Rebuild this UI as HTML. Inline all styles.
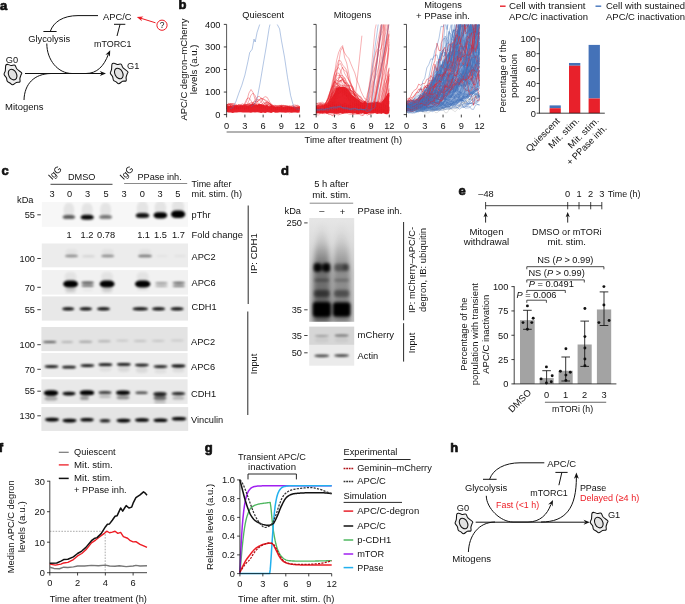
<!DOCTYPE html><html><head><meta charset="utf-8"><title>Figure</title><style>html,body{margin:0;padding:0;background:#fff}svg{display:block;will-change:transform}text{font-family:"Liberation Sans",sans-serif;}</style></head><body>
<svg width="685" height="604" viewBox="0 0 685 604" font-family="Liberation Sans, sans-serif" font-size="9.25" fill="#111">
<rect width="685" height="604" fill="#fff"/>
<defs>
<filter id="blur0_6" x="-20%" y="-50%" width="140%" height="200%"><feGaussianBlur stdDeviation="0.6"/></filter>
<filter id="blur0_8" x="-20%" y="-50%" width="140%" height="200%"><feGaussianBlur stdDeviation="0.8"/></filter>
<filter id="blur0_9" x="-20%" y="-50%" width="140%" height="200%"><feGaussianBlur stdDeviation="0.9"/></filter>
<filter id="blur1_0" x="-20%" y="-50%" width="140%" height="200%"><feGaussianBlur stdDeviation="1.0"/></filter>
<filter id="blur1_2" x="-20%" y="-50%" width="140%" height="200%"><feGaussianBlur stdDeviation="1.2"/></filter>
<filter id="blur1_6" x="-20%" y="-50%" width="140%" height="200%"><feGaussianBlur stdDeviation="1.6"/></filter>
<filter id="blur2_5" x="-20%" y="-50%" width="140%" height="200%"><feGaussianBlur stdDeviation="2.5"/></filter>
</defs>
<text x="0.00" y="9.50" font-size="13" font-weight="bold" stroke="#111" stroke-width="0.7" stroke-linejoin="round">a</text>
<text x="103.00" y="20.30" textLength="28.5" lengthAdjust="spacingAndGlyphs">APC/C</text>
<text x="28.20" y="41.50" textLength="42.0" lengthAdjust="spacingAndGlyphs">Glycolysis</text>
<text x="94.00" y="47.30" textLength="37.5" lengthAdjust="spacingAndGlyphs">mTORC1</text>
<text x="5.80" y="63.00">G0</text>
<text x="127.00" y="68.70">G1</text>
<text x="5.00" y="109.60" textLength="38.5" lengthAdjust="spacingAndGlyphs">Mitogens</text>
<path d="M5.80,65.20C6.23,64.13 7.02,64.35 7.90,64.40C8.78,64.45 9.93,65.37 11.10,65.50C12.27,65.63 13.93,64.62 14.90,65.20C15.87,65.78 15.78,67.73 16.90,69.00C18.02,70.27 20.92,71.82 21.60,72.80C22.28,73.78 21.28,73.97 21.00,74.90C20.72,75.83 20.08,77.23 19.90,78.40C19.72,79.57 20.48,81.23 19.90,81.90C19.32,82.57 17.62,81.92 16.40,82.40C15.18,82.88 13.68,84.70 12.60,84.80C11.52,84.90 10.78,83.58 9.90,83.00C9.02,82.42 7.88,82.17 7.30,81.30C6.72,80.43 6.93,78.97 6.40,77.80C5.87,76.63 4.28,75.47 4.10,74.30C3.92,73.13 5.02,72.32 5.30,70.80C5.58,69.28 5.37,66.27 5.80,65.20Z" stroke="#111" stroke-width="1.05" fill="#efefef" />
<ellipse cx="12.60" cy="74.60" rx="3.9" ry="5.6" transform="rotate(-28 12.60 74.60)" fill="#e2e2e2" stroke="#111" stroke-width="1.05"/>
<path d="M112.00,64.10C112.43,63.03 113.22,63.25 114.10,63.30C114.98,63.35 116.13,64.27 117.30,64.40C118.47,64.53 120.13,63.52 121.10,64.10C122.07,64.68 121.98,66.63 123.10,67.90C124.22,69.17 127.12,70.72 127.80,71.70C128.48,72.68 127.48,72.87 127.20,73.80C126.92,74.73 126.28,76.13 126.10,77.30C125.92,78.47 126.68,80.13 126.10,80.80C125.52,81.47 123.82,80.82 122.60,81.30C121.38,81.78 119.88,83.60 118.80,83.70C117.72,83.80 116.98,82.48 116.10,81.90C115.22,81.32 114.08,81.07 113.50,80.20C112.92,79.33 113.13,77.87 112.60,76.70C112.07,75.53 110.48,74.37 110.30,73.20C110.12,72.03 111.22,71.22 111.50,69.70C111.78,68.18 111.57,65.17 112.00,64.10Z" stroke="#111" stroke-width="1.05" fill="#efefef" />
<ellipse cx="118.80" cy="73.50" rx="3.9" ry="5.6" transform="rotate(-28 118.80 73.50)" fill="#e2e2e2" stroke="#111" stroke-width="1.05"/>
<line x1="25.00" y1="73.50" x2="102.00" y2="73.50" stroke="#111" stroke-width="1.0" />
<path d="M106.00,73.50L99.80,75.95L101.66,73.50L99.80,71.05Z" fill="#111"/>
<path d="M24,100 C24.5,84 34,73.8 51,73.5" stroke="#111" stroke-width="1.0" fill="none" />
<path d="M46.8,43.5 C46.8,60 58,73.5 72,73.5 L86,73.5 C97,73.5 104,66 108.3,54.5" stroke="#111" stroke-width="1.0" fill="none" />
<path d="M110.20,50.20L109.92,56.86L108.43,54.16L105.44,54.87Z" fill="#111"/>
<path d="M98,15.6 L78,15.6 C63,15.6 53.5,22 50.3,31.3" stroke="#111" stroke-width="1.0" fill="none" />
<line x1="43.40" y1="31.50" x2="56.60" y2="31.50" stroke="#111" stroke-width="1.0" />
<line x1="117.00" y1="36.00" x2="120.00" y2="24.50" stroke="#111" stroke-width="1.0" />
<line x1="114.00" y1="24.30" x2="125.30" y2="24.30" stroke="#111" stroke-width="1.0" />
<line x1="155.50" y1="22.80" x2="141.00" y2="18.30" stroke="#ed1c24" stroke-width="1.0" />
<path d="M136.80,17.00L143.45,16.53L140.94,18.31L141.98,21.20Z" fill="#ed1c24"/>
<circle cx="162" cy="25.2" r="5.1" fill="#fff" stroke="#ed1c24" stroke-width="1.0"/>
<text x="162.00" y="28.30" text-anchor="middle" font-size="8.5">?</text>
<text x="178.60" y="9.30" font-size="13" font-weight="bold" stroke="#111" stroke-width="0.7" stroke-linejoin="round">b</text>
<text x="186.80" y="69.50" text-anchor="middle" transform="rotate(-90 186.80 69.50)" textLength="102.0" lengthAdjust="spacingAndGlyphs">APC/C degron–mCherry</text>
<text x="197.10" y="69.40" text-anchor="middle" transform="rotate(-90 197.10 69.40)" textLength="49.5" lengthAdjust="spacingAndGlyphs">levels (a.u.)</text>
<defs>
<clipPath id="cb0"><rect x="226.1" y="24.4" width="73.89999999999999" height="93.19999999999999"/></clipPath>
<clipPath id="cb1"><rect x="315.7" y="24.4" width="73.89999999999999" height="93.19999999999999"/></clipPath>
<clipPath id="cb2"><rect x="406.0" y="24.4" width="73.89999999999999" height="93.19999999999999"/></clipPath>
</defs>
<text x="220.50" y="117.90" text-anchor="end">0</text>
<text x="220.50" y="95.35" text-anchor="end">100</text>
<text x="220.50" y="72.80" text-anchor="end">200</text>
<text x="220.50" y="50.25" text-anchor="end">300</text>
<text x="220.50" y="27.70" text-anchor="end">400</text>
<path clip-path="url(#cb0)" d="M226.6,105.8L228.6,106.2L230.7,105.2L232.7,106.4L234.7,105.4L236.8,105.7L238.8,106.2L240.8,105.2L242.8,105.9L244.9,104.9L246.9,105.4L248.9,105.2L251.0,104.4L253.0,103.5L255.0,105.0L257.1,104.9L259.1,104.3L261.1,103.9L263.1,105.0L265.2,105.6L267.2,104.7L269.2,106.8L271.3,105.3L273.3,106.6L275.3,107.0L277.4,107.1L279.4,106.8L281.4,105.8L283.5,107.2L285.5,106.4L287.5,106.3L289.5,106.9L291.6,106.6L293.6,107.6L295.6,107.6L297.7,107.4L299.7,106.5L299.7,112.6L297.7,112.7L295.6,112.5L293.6,112.6L291.6,112.8L289.5,112.3L287.5,112.4L285.5,112.8L283.5,112.5L281.4,112.5L279.4,112.2L277.4,112.4L275.3,112.8L273.3,112.1L271.3,112.9L269.2,112.6L267.2,112.3L265.2,112.9L263.1,112.6L261.1,113.0L259.1,112.4L257.1,112.3L255.0,112.5L253.0,112.2L251.0,112.7L248.9,112.4L246.9,112.5L244.9,112.5L242.8,112.6L240.8,112.3L238.8,112.2L236.8,112.6L234.7,112.4L232.7,113.0L230.7,112.4L228.6,112.4L226.6,112.1Z" fill="#e8212b"/>
<path clip-path="url(#cb0)" d="M226.6,105.1L228.6,104.3L230.7,104.7L232.7,105.1L234.7,105.7L236.8,105.4L238.8,105.2L240.8,105.1L242.8,105.2L244.9,105.8L246.9,105.7L248.9,104.8L251.0,104.9L253.0,105.6L255.0,106.8L257.1,106.1L259.1,104.8L261.1,106.4L263.1,105.8L265.2,106.5L267.2,107.1L269.2,106.4L271.3,104.7L273.3,106.9L275.3,106.4L277.4,106.0L279.4,106.2L281.4,105.7L283.5,107.3L285.5,107.0L287.5,106.9L289.5,106.8L291.6,107.6L293.6,107.0L295.6,109.1L297.7,109.2L299.7,108.8" stroke="#e8212b" stroke-width="0.45" fill="none" stroke-opacity="0.85" stroke-linejoin="round"/>
<path clip-path="url(#cb0)" d="M226.6,105.8L228.6,104.1L230.7,104.9L232.7,105.8L234.7,105.8L236.8,106.4L238.8,105.3L240.8,105.7L242.8,105.2L244.9,104.3L246.9,104.9L248.9,104.2L251.0,104.0L253.0,103.7L255.0,103.8L257.1,106.7L259.1,106.7L261.1,106.2L263.1,105.0L265.2,103.0L267.2,100.9L269.2,102.8L271.3,105.5L273.3,107.0L275.3,107.7L277.4,106.5L279.4,105.8L281.4,105.1L283.5,105.8L285.5,106.3L287.5,106.0L289.5,106.3L291.6,107.9L293.6,108.9L295.6,107.9L297.7,108.1L299.7,107.7" stroke="#e8212b" stroke-width="0.45" fill="none" stroke-opacity="0.85" stroke-linejoin="round"/>
<path clip-path="url(#cb0)" d="M226.6,105.0L228.6,105.3L230.7,103.9L232.7,105.1L234.7,105.9L236.8,106.8L238.8,107.0L240.8,106.5L242.8,106.4L244.9,107.6L246.9,107.1L248.9,107.8L251.0,107.2L253.0,105.5L255.0,104.3L257.1,105.6L259.1,105.6L261.1,107.8L263.1,107.6L265.2,108.2L267.2,108.7L269.2,108.3L271.3,107.8L273.3,107.6L275.3,107.8L277.4,107.0L279.4,108.1L281.4,110.1L283.5,111.2L285.5,109.2L287.5,106.5L289.5,107.3L291.6,108.0L293.6,107.6L295.6,107.8L297.7,107.4L299.7,107.4" stroke="#e8212b" stroke-width="0.45" fill="none" stroke-opacity="0.85" stroke-linejoin="round"/>
<path clip-path="url(#cb0)" d="M226.6,104.4L228.6,104.9L230.7,105.6L232.7,106.8L234.7,108.1L236.8,107.0L238.8,108.1L240.8,107.8L242.8,106.7L244.9,105.4L246.9,105.0L248.9,102.9L251.0,105.3L253.0,106.1L255.0,105.9L257.1,105.1L259.1,106.4L261.1,106.3L263.1,106.1L265.2,105.3L267.2,104.4L269.2,105.2L271.3,106.4L273.3,105.5L275.3,108.4L277.4,108.4L279.4,108.7L281.4,108.6L283.5,108.3L285.5,105.6L287.5,106.1L289.5,107.4L291.6,108.4L293.6,107.2L295.6,107.8L297.7,106.7L299.7,108.4" stroke="#e8212b" stroke-width="0.45" fill="none" stroke-opacity="0.85" stroke-linejoin="round"/>
<path clip-path="url(#cb0)" d="M226.6,106.2L228.6,107.1L230.7,108.5L232.7,108.2L234.7,106.2L236.8,105.8L238.8,105.1L240.8,106.6L242.8,106.2L244.9,107.5L246.9,106.4L248.9,108.3L251.0,107.4L253.0,106.9L255.0,108.8L257.1,108.2L259.1,107.4L261.1,108.1L263.1,107.0L265.2,106.6L267.2,105.1L269.2,104.2L271.3,104.8L273.3,105.5L275.3,106.9L277.4,108.3L279.4,109.8L281.4,108.9L283.5,108.4L285.5,108.5L287.5,108.2L289.5,108.0L291.6,107.3L293.6,107.1L295.6,105.8L297.7,106.5L299.7,106.6" stroke="#e8212b" stroke-width="0.45" fill="none" stroke-opacity="0.85" stroke-linejoin="round"/>
<path clip-path="url(#cb0)" d="M226.6,106.1L228.6,107.3L230.7,107.3L232.7,105.7L234.7,106.7L236.8,105.2L238.8,107.4L240.8,107.3L242.8,106.0L244.9,104.6L246.9,105.6L248.9,104.2L251.0,102.5L253.0,102.6L255.0,103.8L257.1,105.6L259.1,106.5L261.1,107.9L263.1,109.2L265.2,108.2L267.2,108.3L269.2,108.4L271.3,109.5L273.3,107.7L275.3,106.3L277.4,106.4L279.4,107.2L281.4,106.7L283.5,107.6L285.5,110.6L287.5,109.5L289.5,108.8L291.6,109.1L293.6,109.9L295.6,108.9L297.7,109.1L299.7,108.4" stroke="#e8212b" stroke-width="0.45" fill="none" stroke-opacity="0.85" stroke-linejoin="round"/>
<path clip-path="url(#cb0)" d="M226.6,106.2L228.6,106.1L230.7,106.8L232.7,105.5L234.7,106.2L236.8,106.3L238.8,104.8L240.8,105.6L242.8,105.6L244.9,106.1L246.9,106.4L248.9,106.3L251.0,106.4L253.0,107.3L255.0,106.4L257.1,105.8L259.1,104.4L261.1,105.4L263.1,104.8L265.2,103.6L267.2,102.5L269.2,103.9L271.3,104.9L273.3,106.3L275.3,105.6L277.4,106.1L279.4,107.1L281.4,107.2L283.5,106.3L285.5,107.4L287.5,107.5L289.5,108.1L291.6,107.8L293.6,108.2L295.6,107.6L297.7,108.6L299.7,109.1" stroke="#e8212b" stroke-width="0.45" fill="none" stroke-opacity="0.85" stroke-linejoin="round"/>
<path clip-path="url(#cb0)" d="M226.6,107.1L228.6,108.1L230.7,110.3L232.7,108.8L234.7,108.8L236.8,107.8L238.8,106.2L240.8,107.9L242.8,109.0L244.9,108.7L246.9,107.8L248.9,108.5L251.0,109.3L253.0,108.2L255.0,111.3L257.1,110.3L259.1,109.8L261.1,112.0L263.1,111.0L265.2,111.0L267.2,110.4L269.2,111.3L271.3,110.2L273.3,110.7L275.3,111.3L277.4,112.5L279.4,111.9L281.4,110.3L283.5,110.3L285.5,110.0L287.5,109.4L289.5,109.1L291.6,107.7L293.6,108.8L295.6,109.9L297.7,107.5L299.7,108.8" stroke="#e8212b" stroke-width="0.45" fill="none" stroke-opacity="0.85" stroke-linejoin="round"/>
<path clip-path="url(#cb0)" d="M226.6,105.3L228.6,104.8L230.7,103.6L232.7,103.5L234.7,103.4L236.8,105.3L238.8,105.6L240.8,105.0L242.8,105.6L244.9,104.8L246.9,104.7L248.9,104.3L251.0,104.9L253.0,102.3L255.0,101.4L257.1,101.5L259.1,100.7L261.1,97.9L263.1,99.4L265.2,100.0L267.2,101.1L269.2,103.3L271.3,105.8L273.3,106.2L275.3,106.2L277.4,105.5L279.4,105.4L281.4,106.0L283.5,105.7L285.5,105.8L287.5,106.1L289.5,106.5L291.6,107.1L293.6,106.6L295.6,107.8L297.7,108.3L299.7,108.0" stroke="#e8212b" stroke-width="0.45" fill="none" stroke-opacity="0.85" stroke-linejoin="round"/>
<path clip-path="url(#cb0)" d="M226.6,106.7L228.6,107.0L230.7,106.4L232.7,106.4L234.7,106.5L236.8,105.5L238.8,106.9L240.8,107.5L242.8,106.9L244.9,106.9L246.9,107.5L248.9,105.3L251.0,105.4L253.0,105.0L255.0,102.8L257.1,99.3L259.1,99.7L261.1,101.4L263.1,105.2L265.2,105.0L267.2,106.3L269.2,106.3L271.3,106.4L273.3,108.1L275.3,109.3L277.4,109.1L279.4,107.6L281.4,107.2L283.5,107.1L285.5,107.8L287.5,107.7L289.5,107.6L291.6,106.5L293.6,105.0L295.6,105.1L297.7,105.8L299.7,106.7" stroke="#e8212b" stroke-width="0.45" fill="none" stroke-opacity="0.85" stroke-linejoin="round"/>
<path clip-path="url(#cb0)" d="M226.6,108.1L228.6,106.7L230.7,106.9L232.7,106.0L234.7,105.9L236.8,107.0L238.8,108.2L240.8,107.4L242.8,108.0L244.9,109.0L246.9,108.9L248.9,108.6L251.0,107.2L253.0,106.8L255.0,107.2L257.1,106.2L259.1,107.7L261.1,107.2L263.1,107.7L265.2,108.3L267.2,108.9L269.2,107.7L271.3,108.9L273.3,110.4L275.3,110.3L277.4,109.0L279.4,110.2L281.4,109.8L283.5,108.4L285.5,107.7L287.5,107.8L289.5,106.3L291.6,107.6L293.6,108.7L295.6,110.9L297.7,110.2L299.7,109.2" stroke="#e8212b" stroke-width="0.45" fill="none" stroke-opacity="0.85" stroke-linejoin="round"/>
<path clip-path="url(#cb0)" d="M226.6,104.7L228.6,104.3L230.7,104.3L232.7,104.5L234.7,105.3L236.8,105.9L238.8,104.6L240.8,105.3L242.8,105.7L244.9,104.8L246.9,104.4L248.9,106.6L251.0,106.1L253.0,106.2L255.0,105.6L257.1,104.1L259.1,104.7L261.1,105.3L263.1,102.9L265.2,103.0L267.2,102.6L269.2,103.3L271.3,104.1L273.3,105.5L275.3,105.1L277.4,107.2L279.4,105.5L281.4,105.8L283.5,105.8L285.5,106.1L287.5,106.9L289.5,105.9L291.6,105.8L293.6,105.9L295.6,106.4L297.7,105.2L299.7,106.5" stroke="#e8212b" stroke-width="0.45" fill="none" stroke-opacity="0.85" stroke-linejoin="round"/>
<path clip-path="url(#cb0)" d="M226.6,105.4L228.6,103.2L230.7,103.9L232.7,103.7L234.7,104.9L236.8,105.1L238.8,106.8L240.8,104.6L242.8,103.7L244.9,105.5L246.9,106.8L248.9,107.5L251.0,105.1L253.0,104.9L255.0,104.1L257.1,104.1L259.1,104.3L261.1,105.8L263.1,105.9L265.2,107.4L267.2,107.1L269.2,106.5L271.3,106.0L273.3,106.4L275.3,107.2L277.4,106.8L279.4,107.1L281.4,105.5L283.5,105.3L285.5,106.0L287.5,106.7L289.5,107.4L291.6,108.1L293.6,107.9L295.6,107.3L297.7,106.8L299.7,106.4" stroke="#e8212b" stroke-width="0.45" fill="none" stroke-opacity="0.85" stroke-linejoin="round"/>
<path clip-path="url(#cb0)" d="M226.6,105.0L228.6,105.8L230.7,107.3L232.7,107.9L234.7,107.8L236.8,107.1L238.8,106.2L240.8,107.1L242.8,106.5L244.9,106.7L246.9,107.6L248.9,105.8L251.0,106.4L253.0,108.1L255.0,107.0L257.1,107.2L259.1,106.8L261.1,106.9L263.1,107.2L265.2,105.5L267.2,103.0L269.2,102.7L271.3,105.5L273.3,107.0L275.3,109.9L277.4,108.0L279.4,107.2L281.4,108.8L283.5,107.9L285.5,108.9L287.5,108.6L289.5,107.8L291.6,110.4L293.6,109.2L295.6,108.5L297.7,108.6L299.7,110.5" stroke="#e8212b" stroke-width="0.45" fill="none" stroke-opacity="0.85" stroke-linejoin="round"/>
<path clip-path="url(#cb0)" d="M226.6,105.2L228.6,106.6L230.7,105.2L232.7,107.8L234.7,107.5L236.8,106.9L238.8,106.4L240.8,105.8L242.8,107.3L244.9,109.2L246.9,108.5L248.9,109.0L251.0,107.6L253.0,107.5L255.0,106.7L257.1,106.2L259.1,106.1L261.1,107.3L263.1,106.4L265.2,107.8L267.2,108.1L269.2,107.7L271.3,107.9L273.3,106.7L275.3,107.5L277.4,108.2L279.4,107.3L281.4,107.3L283.5,108.5L285.5,109.0L287.5,108.6L289.5,107.4L291.6,107.2L293.6,107.8L295.6,110.4L297.7,109.2L299.7,110.3" stroke="#e8212b" stroke-width="0.45" fill="none" stroke-opacity="0.85" stroke-linejoin="round"/>
<path clip-path="url(#cb0)" d="M226.6,109.6L228.6,110.2L230.7,108.8L232.7,108.1L234.7,108.1L236.8,107.3L238.8,108.7L240.8,108.1L242.8,108.0L244.9,109.1L246.9,108.6L248.9,110.1L251.0,109.6L253.0,109.5L255.0,110.2L257.1,109.9L259.1,109.5L261.1,109.9L263.1,108.0L265.2,107.6L267.2,107.9L269.2,108.1L271.3,107.2L273.3,107.8L275.3,107.6L277.4,108.7L279.4,107.2L281.4,107.3L283.5,107.6L285.5,110.0L287.5,111.3L289.5,112.8L291.6,111.6L293.6,109.9L295.6,109.6L297.7,109.7L299.7,110.1" stroke="#e8212b" stroke-width="0.45" fill="none" stroke-opacity="0.85" stroke-linejoin="round"/>
<path clip-path="url(#cb0)" d="M226.6,108.4L228.6,108.7L230.7,109.4L232.7,108.7L234.7,108.6L236.8,108.2L238.8,108.0L240.8,107.9L242.8,107.3L244.9,104.7L246.9,100.5L248.9,93.1L251.0,89.5L253.0,92.4L255.0,99.3L257.1,106.4L259.1,108.4L261.1,108.5L263.1,108.3L265.2,108.2L267.2,109.2L269.2,108.3L271.3,109.2L273.3,109.2L275.3,109.5L277.4,108.4L279.4,108.7L281.4,107.6L283.5,107.1L285.5,107.1L287.5,107.4L289.5,107.1L291.6,108.0L293.6,108.0L295.6,108.1L297.7,108.8L299.7,108.9" stroke="#e8212b" stroke-width="0.45" fill="none" stroke-opacity="0.85" stroke-linejoin="round"/>
<path clip-path="url(#cb0)" d="M226.6,108.6L228.6,108.9L230.7,109.0L232.7,109.2L234.7,108.4L236.8,108.3L238.8,108.5L240.8,108.2L242.8,107.6L244.9,106.9L246.9,104.4L248.9,100.8L251.0,95.2L253.0,93.1L255.0,95.4L257.1,100.5L259.1,105.7L261.1,107.8L263.1,107.6L265.2,108.9L267.2,109.2L269.2,108.7L271.3,108.6L273.3,108.3L275.3,108.6L277.4,108.6L279.4,109.1L281.4,108.6L283.5,109.5L285.5,108.1L287.5,108.7L289.5,108.1L291.6,107.7L293.6,106.6L295.6,107.2L297.7,107.9L299.7,107.3" stroke="#e8212b" stroke-width="0.45" fill="none" stroke-opacity="0.85" stroke-linejoin="round"/>
<path clip-path="url(#cb0)" d="M226.6,108.0L228.6,107.8L230.7,107.6L232.7,108.4L234.7,108.2L236.8,109.0L238.8,109.2L240.8,108.9L242.8,108.3L244.9,107.7L246.9,108.0L248.9,107.8L251.0,106.2L253.0,103.2L255.0,100.0L257.1,97.2L259.1,96.2L261.1,98.2L263.1,101.5L265.2,104.1L267.2,104.9L269.2,106.7L271.3,107.3L273.3,107.5L275.3,109.0L277.4,108.4L279.4,108.3L281.4,107.6L283.5,107.7L285.5,108.9L287.5,108.6L289.5,108.9L291.6,108.7L293.6,108.1L295.6,108.2L297.7,107.8L299.7,108.3" stroke="#e8212b" stroke-width="0.45" fill="none" stroke-opacity="0.85" stroke-linejoin="round"/>
<path clip-path="url(#cb0)" d="M226.6,108.2L228.6,108.2L230.7,107.8L232.7,107.7L234.7,108.1L236.8,107.8L238.8,107.8L240.8,108.0L242.8,107.4L244.9,107.9L246.9,108.3L248.9,108.4L251.0,108.3L253.0,107.0L255.0,107.0L257.1,106.2L259.1,103.8L261.1,102.0L263.1,98.0L265.2,96.6L267.2,97.4L269.2,101.0L271.3,104.5L273.3,106.5L275.3,107.5L277.4,108.4L279.4,108.5L281.4,109.2L283.5,109.4L285.5,109.0L287.5,108.8L289.5,109.2L291.6,109.5L293.6,109.1L295.6,108.6L297.7,108.6L299.7,108.3" stroke="#e8212b" stroke-width="0.45" fill="none" stroke-opacity="0.85" stroke-linejoin="round"/>
<path clip-path="url(#cb0)" d="M226.6,108.1L228.6,108.2L230.7,108.4L232.7,109.6L234.7,108.6L236.8,109.4L238.8,109.3L240.8,107.9L242.8,106.1L244.9,102.9L246.9,98.8L248.9,97.8L251.0,100.7L253.0,104.1L255.0,106.4L257.1,108.5L259.1,108.2L261.1,107.7L263.1,108.3L265.2,108.7L267.2,108.8L269.2,106.9L271.3,107.8L273.3,108.5L275.3,107.5L277.4,107.5L279.4,107.4L281.4,108.1L283.5,107.2L285.5,107.6L287.5,107.6L289.5,108.6L291.6,108.9L293.6,108.3L295.6,107.7L297.7,108.2L299.7,108.1" stroke="#e8212b" stroke-width="0.45" fill="none" stroke-opacity="0.85" stroke-linejoin="round"/>
<path clip-path="url(#cb0)" d="M226.6,108.1L228.6,107.5L230.7,107.4L232.7,108.4L234.7,107.6L236.8,107.8L238.8,107.8L240.8,107.4L242.8,106.9L244.9,108.0L246.9,107.6L248.9,106.7L251.0,107.0L253.0,105.8L255.0,103.9L257.1,101.9L259.1,99.9L261.1,98.5L263.1,98.7L265.2,100.4L267.2,103.6L269.2,105.2L271.3,107.1L273.3,107.8L275.3,108.3L277.4,107.9L279.4,108.4L281.4,109.0L283.5,109.2L285.5,108.1L287.5,107.7L289.5,108.4L291.6,109.4L293.6,109.7L295.6,110.0L297.7,109.9L299.7,109.8" stroke="#e8212b" stroke-width="0.45" fill="none" stroke-opacity="0.85" stroke-linejoin="round"/>
<path clip-path="url(#cb0)" d="M229.6,109.0L232.7,107.8L235.7,102.2L238.8,93.2L241.8,85.3L244.9,75.1L247.9,61.6L249.7,52.6L252.2,49.2L254.0,39.1L255.2,42.0L257.1,32.3L260.1,23.3L263.1,15.4L269.2,10.9" stroke="#4474bc" stroke-width="0.55" fill="none" stroke-opacity="0.75" stroke-linejoin="round"/>
<path clip-path="url(#cb0)" d="M251.0,106.7L254.0,104.5L257.1,98.8L260.1,83.0L263.1,65.0L266.2,47.0L269.2,27.8L271.1,19.9L275.3,17.6L277.2,24.4L279.6,28.9L281.4,40.2L284.5,57.1L287.5,77.4L290.6,95.4L293.6,106.7L296.7,109.0L299.7,109.2" stroke="#4474bc" stroke-width="0.55" fill="none" stroke-opacity="0.75" stroke-linejoin="round"/>
<line x1="226.60" y1="24.40" x2="226.60" y2="115.00" stroke="#111" stroke-width="0.7" />
<line x1="223.80" y1="114.60" x2="226.60" y2="114.60" stroke="#111" stroke-width="0.8" />
<line x1="223.80" y1="92.05" x2="226.60" y2="92.05" stroke="#111" stroke-width="0.8" />
<line x1="223.80" y1="69.50" x2="226.60" y2="69.50" stroke="#111" stroke-width="0.8" />
<line x1="223.80" y1="46.95" x2="226.60" y2="46.95" stroke="#111" stroke-width="0.8" />
<line x1="223.80" y1="24.40" x2="226.60" y2="24.40" stroke="#111" stroke-width="0.8" />
<line x1="226.60" y1="114.60" x2="226.60" y2="117.40" stroke="#111" stroke-width="0.8" />
<text x="226.60" y="128.60" text-anchor="middle">0</text>
<line x1="244.88" y1="114.60" x2="244.88" y2="117.40" stroke="#111" stroke-width="0.8" />
<text x="244.88" y="128.60" text-anchor="middle">3</text>
<line x1="263.15" y1="114.60" x2="263.15" y2="117.40" stroke="#111" stroke-width="0.8" />
<text x="263.15" y="128.60" text-anchor="middle">6</text>
<line x1="281.43" y1="114.60" x2="281.43" y2="117.40" stroke="#111" stroke-width="0.8" />
<text x="281.43" y="128.60" text-anchor="middle">9</text>
<line x1="299.70" y1="114.60" x2="299.70" y2="117.40" stroke="#111" stroke-width="0.8" />
<text x="299.70" y="128.60" text-anchor="middle">12</text>
<text x="263.20" y="18.40" text-anchor="middle">Quiescent</text>
<path clip-path="url(#cb1)" d="M316.2,107.7L318.2,109.7L320.3,109.2L322.3,109.2L324.3,105.1L326.4,104.8L328.4,105.1L330.4,100.2L332.4,96.5L334.5,92.8L336.5,88.6L338.5,87.6L340.6,87.0L342.6,87.0L344.6,86.6L346.7,87.9L348.7,90.3L350.7,93.5L352.8,95.7L354.8,97.1L356.8,98.8L358.8,99.8L360.9,101.9L362.9,103.3L364.9,100.8L367.0,102.9L369.0,103.2L371.0,102.9L373.1,102.4L375.1,102.3L377.1,102.1L379.1,102.6L381.2,102.4L383.2,99.9L385.2,97.9L387.3,94.1L389.3,92.3L389.3,113.3L387.3,114.1L385.2,114.0L383.2,112.9L381.2,113.7L379.1,113.2L377.1,114.0L375.1,113.1L373.1,112.9L371.0,113.3L369.0,113.1L367.0,114.1L364.9,114.1L362.9,113.3L360.9,113.2L358.8,114.0L356.8,114.0L354.8,113.0L352.8,113.8L350.7,113.1L348.7,113.1L346.7,113.2L344.6,113.2L342.6,113.8L340.6,113.0L338.5,113.3L336.5,113.8L334.5,113.7L332.4,113.3L330.4,112.9L328.4,113.5L326.4,113.8L324.3,112.8L322.3,113.5L320.3,113.3L318.2,113.3L316.2,113.8Z" fill="#e8212b"/>
<path clip-path="url(#cb1)" d="M316.2,111.6L318.2,110.4L320.3,110.5L322.3,109.4L324.3,110.1L326.4,107.1L328.4,104.7L330.4,99.7L332.4,94.1L334.5,91.7L336.5,88.9L338.5,90.3L340.6,91.6L342.6,91.9L344.6,92.3L346.7,95.1L348.7,99.8L350.7,100.5L352.8,102.6L354.8,105.4L356.8,107.4L358.8,107.3L360.9,107.7L362.9,108.1L364.9,108.4L367.0,108.9L369.0,111.3L371.0,112.5L373.1,112.0L375.1,110.4L377.1,111.4L379.1,108.9L381.2,108.1L383.2,110.6L385.2,109.4L387.3,110.8L389.3,110.7" stroke="#e8212b" stroke-width="0.45" fill="none" stroke-opacity="0.85" stroke-linejoin="round"/>
<path clip-path="url(#cb1)" d="M316.2,107.5L318.2,106.9L320.3,106.5L322.3,106.1L324.3,105.7L326.4,103.7L328.4,98.8L330.4,94.1L332.4,93.1L334.5,89.7L336.5,88.2L338.5,89.9L340.6,91.3L342.6,94.6L344.6,95.2L346.7,95.9L348.7,98.0L350.7,99.6L352.8,103.1L354.8,104.4L356.8,106.1L358.8,105.9L360.9,106.2L362.9,106.9L364.9,107.6L367.0,108.1L369.0,107.3L371.0,107.5L373.1,107.9L375.1,108.2L377.1,106.4L379.1,108.3L381.2,107.4L383.2,107.8L385.2,106.6L387.3,106.6L389.3,107.7" stroke="#e8212b" stroke-width="0.45" fill="none" stroke-opacity="0.85" stroke-linejoin="round"/>
<path clip-path="url(#cb1)" d="M316.2,108.9L318.2,108.2L320.3,108.4L322.3,108.5L324.3,106.3L326.4,104.6L328.4,101.5L330.4,98.1L332.4,91.4L334.5,86.2L336.5,87.7L338.5,89.0L340.6,86.9L342.6,90.6L344.6,91.8L346.7,92.4L348.7,94.4L350.7,96.3L352.8,96.1L354.8,99.9L356.8,102.6L358.8,103.7L360.9,105.1L362.9,107.2L364.9,108.3L367.0,108.5L369.0,108.5L371.0,110.1L373.1,110.2L375.1,109.2L377.1,109.4L379.1,108.7L381.2,108.9L383.2,109.3L385.2,109.4L387.3,111.5L389.3,110.7" stroke="#e8212b" stroke-width="0.45" fill="none" stroke-opacity="0.85" stroke-linejoin="round"/>
<path clip-path="url(#cb1)" d="M316.2,106.9L318.2,108.4L320.3,108.3L322.3,108.9L324.3,107.8L326.4,105.9L328.4,102.5L330.4,97.0L332.4,93.6L334.5,89.5L336.5,86.3L338.5,87.9L340.6,87.8L342.6,90.3L344.6,93.4L346.7,95.7L348.7,98.4L350.7,100.0L352.8,103.3L354.8,104.3L356.8,104.8L358.8,106.9L360.9,108.1L362.9,108.4L364.9,109.8L367.0,109.0L369.0,108.9L371.0,108.2L373.1,109.0L375.1,107.7L377.1,108.5L379.1,109.5L381.2,109.3L383.2,107.6L385.2,107.4L387.3,109.0L389.3,109.3" stroke="#e8212b" stroke-width="0.45" fill="none" stroke-opacity="0.85" stroke-linejoin="round"/>
<path clip-path="url(#cb1)" d="M316.2,110.9L318.2,111.0L320.3,110.5L322.3,109.9L324.3,110.4L326.4,109.3L328.4,108.6L330.4,107.6L332.4,102.8L334.5,96.0L336.5,89.9L338.5,82.9L340.6,80.0L342.6,84.4L344.6,85.3L346.7,87.5L348.7,91.2L350.7,93.6L352.8,93.5L354.8,96.3L356.8,100.2L358.8,101.3L360.9,103.0L362.9,107.1L364.9,107.4L367.0,107.9L369.0,108.5L371.0,107.7L373.1,108.2L375.1,109.3L377.1,110.7L379.1,109.1L381.2,110.2L383.2,110.1L385.2,110.4L387.3,110.3L389.3,110.1" stroke="#e8212b" stroke-width="0.45" fill="none" stroke-opacity="0.85" stroke-linejoin="round"/>
<path clip-path="url(#cb1)" d="M316.2,109.3L318.2,110.2L320.3,111.0L322.3,109.6L324.3,108.9L326.4,107.1L328.4,108.0L330.4,109.1L332.4,105.9L334.5,101.2L336.5,91.7L338.5,85.9L340.6,81.4L342.6,78.6L344.6,82.9L346.7,82.5L348.7,85.0L350.7,90.3L352.8,91.1L354.8,95.6L356.8,98.0L358.8,100.5L360.9,101.1L362.9,102.6L364.9,105.5L367.0,104.3L369.0,106.5L371.0,107.4L373.1,108.9L375.1,109.4L377.1,108.9L379.1,108.3L381.2,108.7L383.2,107.4L385.2,109.3L387.3,109.8L389.3,108.8" stroke="#e8212b" stroke-width="0.45" fill="none" stroke-opacity="0.85" stroke-linejoin="round"/>
<path clip-path="url(#cb1)" d="M316.2,107.5L318.2,107.6L320.3,106.1L322.3,106.1L324.3,104.7L326.4,104.8L328.4,102.8L330.4,100.6L332.4,97.0L334.5,92.4L336.5,88.3L338.5,87.7L340.6,88.3L342.6,88.0L344.6,89.1L346.7,92.8L348.7,95.6L350.7,97.7L352.8,98.1L354.8,100.5L356.8,102.4L358.8,102.5L360.9,102.7L362.9,103.8L364.9,105.7L367.0,105.2L369.0,107.2L371.0,105.0L373.1,105.4L375.1,106.8L377.1,106.7L379.1,106.0L381.2,106.1L383.2,106.2L385.2,106.8L387.3,107.5L389.3,107.1" stroke="#e8212b" stroke-width="0.45" fill="none" stroke-opacity="0.85" stroke-linejoin="round"/>
<path clip-path="url(#cb1)" d="M316.2,110.5L318.2,110.0L320.3,109.1L322.3,110.6L324.3,111.3L326.4,109.7L328.4,109.3L330.4,107.9L332.4,106.5L334.5,104.1L336.5,96.8L338.5,93.7L340.6,90.0L342.6,85.4L344.6,88.0L346.7,89.5L348.7,88.9L350.7,90.3L352.8,94.1L354.8,94.9L356.8,93.8L358.8,95.9L360.9,96.6L362.9,99.9L364.9,102.0L367.0,104.2L369.0,106.4L371.0,107.2L373.1,108.7L375.1,109.2L377.1,109.3L379.1,111.3L381.2,111.5L383.2,109.5L385.2,109.7L387.3,110.0L389.3,109.7" stroke="#e8212b" stroke-width="0.45" fill="none" stroke-opacity="0.85" stroke-linejoin="round"/>
<path clip-path="url(#cb1)" d="M316.2,106.7L318.2,105.6L320.3,108.3L322.3,108.6L324.3,106.4L326.4,102.1L328.4,98.8L330.4,92.5L332.4,87.1L334.5,81.8L336.5,83.2L338.5,85.8L340.6,87.3L342.6,89.2L344.6,91.0L346.7,95.7L348.7,99.4L350.7,102.9L352.8,103.4L354.8,103.5L356.8,104.8L358.8,106.0L360.9,105.1L362.9,106.5L364.9,108.5L367.0,108.7L369.0,109.4L371.0,108.7L373.1,109.3L375.1,108.9L377.1,109.6L379.1,107.8L381.2,108.2L383.2,110.5L385.2,109.5L387.3,108.5L389.3,109.3" stroke="#e8212b" stroke-width="0.45" fill="none" stroke-opacity="0.85" stroke-linejoin="round"/>
<path clip-path="url(#cb1)" d="M316.2,107.8L318.2,107.4L320.3,108.7L322.3,107.9L324.3,108.2L326.4,108.3L328.4,107.4L330.4,107.6L332.4,104.9L334.5,102.7L336.5,98.8L338.5,94.5L340.6,92.3L342.6,89.7L344.6,90.4L346.7,91.2L348.7,89.6L350.7,94.4L352.8,96.1L354.8,97.6L356.8,99.8L358.8,102.4L360.9,103.0L362.9,103.2L364.9,102.7L367.0,103.2L369.0,105.3L371.0,106.2L373.1,106.3L375.1,107.5L377.1,107.5L379.1,106.1L381.2,105.8L383.2,104.7L385.2,105.6L387.3,106.6L389.3,107.2" stroke="#e8212b" stroke-width="0.45" fill="none" stroke-opacity="0.85" stroke-linejoin="round"/>
<path clip-path="url(#cb1)" d="M316.2,110.6L318.2,110.3L320.3,111.3L322.3,109.7L324.3,109.1L326.4,107.1L328.4,104.5L330.4,102.1L332.4,96.9L334.5,93.0L336.5,90.2L338.5,89.1L340.6,89.1L342.6,92.4L344.6,94.1L346.7,96.2L348.7,96.7L350.7,98.4L352.8,102.9L354.8,104.7L356.8,108.0L358.8,108.5L360.9,108.6L362.9,111.5L364.9,112.9L367.0,112.8L369.0,111.0L371.0,110.0L373.1,109.6L375.1,110.4L377.1,110.8L379.1,110.3L381.2,110.6L383.2,110.0L385.2,110.9L387.3,110.8L389.3,109.7" stroke="#e8212b" stroke-width="0.45" fill="none" stroke-opacity="0.85" stroke-linejoin="round"/>
<path clip-path="url(#cb1)" d="M316.2,108.5L318.2,109.0L320.3,109.2L322.3,109.5L324.3,111.4L326.4,110.7L328.4,107.1L330.4,104.3L332.4,102.0L334.5,98.6L336.5,94.8L338.5,90.4L340.6,90.8L342.6,89.8L344.6,90.2L346.7,92.3L348.7,93.2L350.7,96.7L352.8,96.6L354.8,100.9L356.8,103.2L358.8,104.3L360.9,104.7L362.9,105.1L364.9,106.0L367.0,107.6L369.0,106.0L371.0,106.2L373.1,106.5L375.1,106.7L377.1,106.3L379.1,106.6L381.2,106.9L383.2,106.9L385.2,109.7L387.3,110.0L389.3,107.4" stroke="#e8212b" stroke-width="0.45" fill="none" stroke-opacity="0.85" stroke-linejoin="round"/>
<path clip-path="url(#cb1)" d="M316.2,108.3L318.2,108.3L320.3,107.0L322.3,105.8L324.3,106.8L326.4,104.2L328.4,102.7L330.4,99.3L332.4,95.4L334.5,91.3L336.5,86.6L338.5,85.5L340.6,87.6L342.6,90.3L344.6,90.4L346.7,90.3L348.7,89.6L350.7,92.7L352.8,92.2L354.8,93.6L356.8,96.4L358.8,99.5L360.9,99.9L362.9,102.2L364.9,102.2L367.0,104.1L369.0,105.9L371.0,107.3L373.1,106.8L375.1,106.8L377.1,106.9L379.1,107.0L381.2,107.2L383.2,107.1L385.2,106.6L387.3,106.4L389.3,106.7" stroke="#e8212b" stroke-width="0.45" fill="none" stroke-opacity="0.85" stroke-linejoin="round"/>
<path clip-path="url(#cb1)" d="M316.2,112.5L318.2,112.3L320.3,112.3L322.3,110.0L324.3,110.4L326.4,108.1L328.4,105.9L330.4,99.2L332.4,98.6L334.5,94.8L336.5,95.1L338.5,97.2L340.6,96.7L342.6,96.1L344.6,97.8L346.7,99.0L348.7,100.6L350.7,102.4L352.8,103.9L354.8,105.0L356.8,105.1L358.8,108.3L360.9,108.0L362.9,108.7L364.9,110.5L367.0,111.6L369.0,111.7L371.0,112.4L373.1,111.2L375.1,110.7L377.1,111.4L379.1,111.5L381.2,113.7L383.2,111.1L385.2,110.2L387.3,109.2L389.3,110.3" stroke="#e8212b" stroke-width="0.45" fill="none" stroke-opacity="0.85" stroke-linejoin="round"/>
<path clip-path="url(#cb1)" d="M316.2,111.8L318.2,112.5L320.3,111.5L322.3,110.9L324.3,109.5L326.4,106.4L328.4,105.0L330.4,99.2L332.4,94.1L334.5,90.5L336.5,89.0L338.5,87.9L340.6,90.6L342.6,90.9L344.6,93.5L346.7,94.8L348.7,99.1L350.7,102.3L352.8,102.5L354.8,103.4L356.8,104.9L358.8,106.1L360.9,107.6L362.9,108.2L364.9,109.7L367.0,110.7L369.0,112.0L371.0,110.0L373.1,113.0L375.1,112.5L377.1,112.8L379.1,113.0L381.2,112.1L383.2,112.4L385.2,111.3L387.3,111.9L389.3,110.6" stroke="#e8212b" stroke-width="0.45" fill="none" stroke-opacity="0.85" stroke-linejoin="round"/>
<path clip-path="url(#cb1)" d="M316.2,108.9L318.2,111.1L320.3,110.2L322.3,110.0L324.3,110.2L326.4,110.1L328.4,109.3L330.4,107.2L332.4,104.8L334.5,101.9L336.5,96.3L338.5,93.1L340.6,92.1L342.6,91.9L344.6,94.1L346.7,94.6L348.7,93.4L350.7,96.9L352.8,99.4L354.8,100.7L356.8,101.9L358.8,100.9L360.9,102.8L362.9,104.5L364.9,106.2L367.0,108.5L369.0,109.3L371.0,109.9L373.1,110.9L375.1,109.7L377.1,108.0L379.1,108.5L381.2,108.7L383.2,109.0L385.2,109.6L387.3,109.8L389.3,109.3" stroke="#e8212b" stroke-width="0.45" fill="none" stroke-opacity="0.85" stroke-linejoin="round"/>
<path clip-path="url(#cb1)" d="M316.2,109.2L318.2,108.2L320.3,107.1L322.3,106.4L324.3,106.9L326.4,106.8L328.4,103.8L330.4,101.7L332.4,96.0L334.5,90.2L336.5,82.5L338.5,79.4L340.6,75.6L342.6,79.7L344.6,80.5L346.7,86.2L348.7,85.7L350.7,85.8L352.8,86.9L354.8,91.9L356.8,93.1L358.8,95.6L360.9,98.2L362.9,100.6L364.9,101.7L367.0,104.3L369.0,105.4L371.0,104.4L373.1,106.4L375.1,106.3L377.1,106.3L379.1,107.8L381.2,108.9L383.2,109.5L385.2,107.6L387.3,109.5L389.3,108.6" stroke="#e8212b" stroke-width="0.45" fill="none" stroke-opacity="0.85" stroke-linejoin="round"/>
<path clip-path="url(#cb1)" d="M316.2,110.7L318.2,110.8L320.3,110.9L322.3,111.9L324.3,110.7L326.4,110.8L328.4,109.5L330.4,109.8L332.4,104.2L334.5,98.1L336.5,92.7L338.5,87.5L340.6,85.9L342.6,85.7L344.6,85.2L346.7,86.2L348.7,90.4L350.7,95.0L352.8,100.1L354.8,102.8L356.8,104.7L358.8,107.5L360.9,110.0L362.9,112.0L364.9,111.6L367.0,112.6L369.0,111.4L371.0,109.4L373.1,109.7L375.1,111.5L377.1,111.2L379.1,110.9L381.2,111.0L383.2,111.8L385.2,111.8L387.3,109.4L389.3,109.8" stroke="#e8212b" stroke-width="0.45" fill="none" stroke-opacity="0.85" stroke-linejoin="round"/>
<path clip-path="url(#cb1)" d="M316.2,110.2L318.2,108.5L320.3,109.3L322.3,107.4L324.3,106.5L326.4,101.6L328.4,98.0L330.4,91.3L332.4,86.1L334.5,86.0L336.5,83.7L338.5,83.7L340.6,86.1L342.6,88.6L344.6,91.9L346.7,93.1L348.7,96.0L350.7,100.6L352.8,102.7L354.8,103.7L356.8,105.0L358.8,106.2L360.9,107.1L362.9,107.1L364.9,108.9L367.0,106.8L369.0,109.1L371.0,108.9L373.1,108.6L375.1,108.6L377.1,108.4L379.1,108.9L381.2,109.1L383.2,109.2L385.2,109.1L387.3,109.2L389.3,108.6" stroke="#e8212b" stroke-width="0.45" fill="none" stroke-opacity="0.85" stroke-linejoin="round"/>
<path clip-path="url(#cb1)" d="M316.2,109.2L318.2,109.8L320.3,110.6L322.3,111.2L324.3,111.1L326.4,108.5L328.4,105.8L330.4,101.3L332.4,97.9L334.5,93.8L336.5,88.1L338.5,86.5L340.6,89.3L342.6,88.2L344.6,90.7L346.7,93.6L348.7,98.1L350.7,98.9L352.8,102.9L354.8,105.6L356.8,107.8L358.8,107.4L360.9,107.8L362.9,107.7L364.9,110.2L367.0,110.7L369.0,110.4L371.0,111.1L373.1,111.1L375.1,112.4L377.1,111.1L379.1,110.1L381.2,112.4L383.2,112.5L385.2,112.3L387.3,111.2L389.3,111.7" stroke="#e8212b" stroke-width="0.45" fill="none" stroke-opacity="0.85" stroke-linejoin="round"/>
<path clip-path="url(#cb1)" d="M316.2,109.8L318.2,110.4L320.3,110.2L322.3,110.1L324.3,110.0L326.4,110.4L328.4,109.5L330.4,108.9L332.4,106.1L334.5,102.4L336.5,99.0L338.5,93.3L340.6,91.2L342.6,93.8L344.6,94.1L346.7,94.7L348.7,95.9L350.7,97.2L352.8,100.1L354.8,101.7L356.8,103.4L358.8,102.1L360.9,103.3L362.9,105.6L364.9,106.8L367.0,106.5L369.0,107.8L371.0,108.7L373.1,108.5L375.1,109.5L377.1,110.7L379.1,109.5L381.2,107.3L383.2,108.2L385.2,110.7L387.3,110.1L389.3,110.7" stroke="#e8212b" stroke-width="0.45" fill="none" stroke-opacity="0.85" stroke-linejoin="round"/>
<path clip-path="url(#cb1)" d="M316.2,109.2L318.2,108.1L320.3,108.1L322.3,107.3L324.3,106.1L326.4,105.9L328.4,103.8L330.4,99.5L332.4,90.4L334.5,84.7L336.5,79.9L338.5,81.1L340.6,80.5L342.6,79.1L344.6,83.2L346.7,84.1L348.7,85.8L350.7,90.8L352.8,91.2L354.8,95.4L356.8,98.5L358.8,98.4L360.9,100.5L362.9,101.9L364.9,103.2L367.0,106.2L369.0,106.3L371.0,105.6L373.1,106.3L375.1,106.8L377.1,106.7L379.1,107.6L381.2,109.2L383.2,107.6L385.2,108.0L387.3,106.4L389.3,107.5" stroke="#e8212b" stroke-width="0.45" fill="none" stroke-opacity="0.85" stroke-linejoin="round"/>
<path clip-path="url(#cb1)" d="M316.2,111.8L318.2,111.6L320.3,110.7L322.3,110.8L324.3,110.5L326.4,111.2L328.4,110.8L330.4,108.7L332.4,104.4L334.5,98.1L336.5,92.7L338.5,88.4L340.6,84.1L342.6,85.9L344.6,91.1L346.7,89.6L348.7,87.7L350.7,92.1L352.8,95.4L354.8,99.1L356.8,101.8L358.8,103.1L360.9,105.5L362.9,105.3L364.9,106.2L367.0,107.9L369.0,110.3L371.0,111.7L373.1,110.7L375.1,109.5L377.1,110.2L379.1,111.2L381.2,112.6L383.2,113.3L385.2,111.8L387.3,111.8L389.3,110.1" stroke="#e8212b" stroke-width="0.45" fill="none" stroke-opacity="0.85" stroke-linejoin="round"/>
<path clip-path="url(#cb1)" d="M316.2,109.7L318.2,110.8L320.3,111.5L322.3,111.9L324.3,112.3L326.4,111.9L328.4,110.3L330.4,108.9L332.4,105.2L334.5,98.7L336.5,91.7L338.5,87.4L340.6,87.8L342.6,89.2L344.6,91.3L346.7,92.7L348.7,94.0L350.7,95.0L352.8,97.2L354.8,100.2L356.8,100.1L358.8,104.7L360.9,107.1L362.9,107.3L364.9,108.2L367.0,109.3L369.0,110.2L371.0,110.7L373.1,110.3L375.1,112.7L377.1,112.7L379.1,113.0L381.2,112.4L383.2,111.3L385.2,110.7L387.3,111.6L389.3,112.7" stroke="#e8212b" stroke-width="0.45" fill="none" stroke-opacity="0.85" stroke-linejoin="round"/>
<path clip-path="url(#cb1)" d="M316.2,107.8L318.2,106.5L320.3,107.4L322.3,105.3L324.3,105.1L326.4,102.1L328.4,97.5L330.4,91.0L332.4,85.6L334.5,81.2L336.5,84.5L338.5,81.5L340.6,80.9L342.6,80.8L344.6,82.6L346.7,85.3L348.7,85.6L350.7,90.5L352.8,91.9L354.8,94.7L356.8,97.1L358.8,99.5L360.9,100.0L362.9,101.7L364.9,101.0L367.0,101.2L369.0,102.4L371.0,104.1L373.1,104.7L375.1,105.6L377.1,107.5L379.1,107.8L381.2,110.4L383.2,110.0L385.2,110.7L387.3,109.7L389.3,108.5" stroke="#e8212b" stroke-width="0.45" fill="none" stroke-opacity="0.85" stroke-linejoin="round"/>
<path clip-path="url(#cb1)" d="M316.2,108.6L318.2,108.7L320.3,108.7L322.3,109.2L324.3,109.2L326.4,107.1L328.4,104.4L330.4,96.5L332.4,92.1L334.5,88.0L336.5,89.4L338.5,88.2L340.6,87.9L342.6,88.4L344.6,92.9L346.7,96.5L348.7,97.0L350.7,101.5L352.8,102.2L354.8,104.9L356.8,103.9L358.8,104.6L360.9,106.1L362.9,105.8L364.9,106.7L367.0,107.8L369.0,107.7L371.0,109.3L373.1,107.6L375.1,108.7L377.1,108.7L379.1,106.9L381.2,107.0L383.2,108.2L385.2,109.3L387.3,109.6L389.3,108.8" stroke="#e8212b" stroke-width="0.45" fill="none" stroke-opacity="0.85" stroke-linejoin="round"/>
<path clip-path="url(#cb1)" d="M316.2,108.4L318.2,108.3L320.3,108.3L322.3,106.4L324.3,106.8L326.4,104.4L328.4,101.0L330.4,97.1L332.4,90.7L334.5,83.2L336.5,79.1L338.5,77.3L340.6,77.3L342.6,77.9L344.6,78.0L346.7,84.2L348.7,86.1L350.7,91.0L352.8,91.9L354.8,95.9L356.8,95.2L358.8,96.6L360.9,98.0L362.9,101.2L364.9,103.9L367.0,106.0L369.0,106.3L371.0,104.6L373.1,104.8L375.1,105.0L377.1,104.1L379.1,106.1L381.2,107.3L383.2,107.9L385.2,98.4L387.3,85.1L389.3,73.6" stroke="#e8212b" stroke-width="0.45" fill="none" stroke-opacity="0.8" stroke-linejoin="round"/>
<path clip-path="url(#cb1)" d="M316.2,109.8L318.2,110.1L320.3,108.3L322.3,105.0L324.3,104.6L326.4,101.8L328.4,98.9L330.4,93.0L332.4,87.8L334.5,78.1L336.5,73.2L338.5,73.0L340.6,76.7L342.6,79.4L344.6,84.5L346.7,88.5L348.7,94.6L350.7,97.2L352.8,101.0L354.8,104.0L356.8,105.6L358.8,106.4L360.9,109.0L362.9,111.2L364.9,111.4L367.0,112.0L369.0,109.2L371.0,107.2L373.1,108.6L375.1,95.3L377.1,83.7L379.1,72.8L381.2,59.6L383.2,46.8L385.2,31.4L387.3,18.5L389.3,6.7" stroke="#e8212b" stroke-width="0.45" fill="none" stroke-opacity="0.8" stroke-linejoin="round"/>
<path clip-path="url(#cb1)" d="M316.2,110.5L318.2,109.1L320.3,107.3L322.3,108.6L324.3,107.7L326.4,106.8L328.4,101.8L330.4,94.6L332.4,88.4L334.5,81.6L336.5,74.7L338.5,75.6L340.6,75.3L342.6,75.5L344.6,77.8L346.7,81.7L348.7,84.9L350.7,85.8L352.8,90.0L354.8,94.7L356.8,98.3L358.8,100.8L360.9,103.1L362.9,103.5L364.9,104.0L367.0,105.4L369.0,107.0L371.0,108.2L373.1,108.3L375.1,99.7L377.1,88.4L379.1,78.4L381.2,67.1L383.2,58.3L385.2,47.4L387.3,40.6L389.3,30.8" stroke="#e8212b" stroke-width="0.45" fill="none" stroke-opacity="0.8" stroke-linejoin="round"/>
<path clip-path="url(#cb1)" d="M316.2,107.9L318.2,108.4L320.3,107.9L322.3,108.4L324.3,106.7L326.4,103.1L328.4,98.1L330.4,90.5L332.4,81.3L334.5,73.2L336.5,69.7L338.5,67.5L340.6,70.4L342.6,76.5L344.6,81.9L346.7,85.1L348.7,88.8L350.7,93.1L352.8,95.8L354.8,100.6L356.8,104.2L358.8,107.6L360.9,108.4L362.9,108.3L364.9,108.6L367.0,108.8L369.0,108.6L371.0,110.7L373.1,109.8L375.1,101.3L377.1,90.0L379.1,78.8L381.2,65.7L383.2,58.8L385.2,48.2L387.3,35.1L389.3,22.3" stroke="#e8212b" stroke-width="0.45" fill="none" stroke-opacity="0.8" stroke-linejoin="round"/>
<path clip-path="url(#cb1)" d="M316.2,108.8L318.2,108.9L320.3,110.6L322.3,109.4L324.3,107.8L326.4,108.1L328.4,106.8L330.4,106.1L332.4,102.1L334.5,97.5L336.5,88.7L338.5,79.4L340.6,71.9L342.6,67.1L344.6,73.3L346.7,76.9L348.7,79.7L350.7,84.2L352.8,88.7L354.8,91.9L356.8,94.7L358.8,99.7L360.9,102.2L362.9,105.9L364.9,108.0L367.0,109.9L369.0,108.1L371.0,108.0L373.1,108.2L375.1,110.7L377.1,109.9L379.1,110.6L381.2,111.5L383.2,111.6L385.2,98.7L387.3,88.3L389.3,74.3" stroke="#e8212b" stroke-width="0.45" fill="none" stroke-opacity="0.8" stroke-linejoin="round"/>
<path clip-path="url(#cb1)" d="M316.2,108.4L318.2,106.1L320.3,104.2L322.3,106.7L324.3,105.5L326.4,101.7L328.4,95.7L330.4,91.2L332.4,84.6L334.5,74.1L336.5,66.9L338.5,60.5L340.6,60.8L342.6,65.0L344.6,67.3L346.7,70.3L348.7,78.7L350.7,83.0L352.8,87.5L354.8,95.0L356.8,95.9L358.8,98.6L360.9,100.7L362.9,104.0L364.9,103.5L367.0,103.4L369.0,101.3L371.0,88.9L373.1,79.0L375.1,67.3L377.1,55.5L379.1,42.6L381.2,31.6L383.2,17.9L385.2,7.5L387.3,-2.1L389.3,-15.2" stroke="#e8212b" stroke-width="0.45" fill="none" stroke-opacity="0.8" stroke-linejoin="round"/>
<path clip-path="url(#cb1)" d="M316.2,107.7L318.2,108.4L320.3,108.1L322.3,108.1L324.3,107.5L326.4,104.2L328.4,102.4L330.4,99.3L332.4,93.5L334.5,80.9L336.5,71.1L338.5,64.6L340.6,63.6L342.6,68.5L344.6,70.5L346.7,71.9L348.7,80.3L350.7,84.5L352.8,90.0L354.8,91.8L356.8,95.7L358.8,98.7L360.9,101.6L362.9,105.4L364.9,104.2L367.0,104.1L369.0,106.9L371.0,108.4L373.1,108.9L375.1,108.4L377.1,108.1L379.1,108.4L381.2,108.6L383.2,107.1L385.2,108.8L387.3,110.5L389.3,100.9" stroke="#e8212b" stroke-width="0.45" fill="none" stroke-opacity="0.8" stroke-linejoin="round"/>
<path clip-path="url(#cb1)" d="M316.2,107.4L318.2,107.7L320.3,106.3L322.3,106.8L324.3,106.9L326.4,105.6L328.4,104.6L330.4,100.0L332.4,94.2L334.5,87.7L336.5,74.0L338.5,64.1L340.6,50.8L342.6,47.4L344.6,52.9L346.7,56.2L348.7,58.2L350.7,63.4L352.8,68.4L354.8,72.9L356.8,80.2L358.8,84.7L360.9,91.2L362.9,95.5L364.9,98.9L367.0,99.3L369.0,101.7L371.0,105.1L373.1,106.9L375.1,99.3L377.1,91.6L379.1,82.9L381.2,72.6L383.2,61.4L385.2,54.0L387.3,44.6L389.3,33.9" stroke="#e8212b" stroke-width="0.45" fill="none" stroke-opacity="0.8" stroke-linejoin="round"/>
<path clip-path="url(#cb1)" d="M316.2,109.1L318.2,109.7L320.3,110.1L322.3,110.5L324.3,111.9L326.4,107.9L328.4,102.9L330.4,99.0L332.4,87.0L334.5,73.8L336.5,60.8L338.5,52.8L340.6,48.1L342.6,45.6L344.6,57.7L346.7,63.0L348.7,73.1L350.7,82.7L352.8,88.2L354.8,97.1L356.8,99.6L358.8,101.1L360.9,103.8L362.9,106.7L364.9,107.5L367.0,108.4L369.0,108.7L371.0,110.2L373.1,108.6L375.1,108.5L377.1,110.4L379.1,108.7L381.2,109.9L383.2,110.8L385.2,111.4L387.3,103.8L389.3,93.1" stroke="#e8212b" stroke-width="0.45" fill="none" stroke-opacity="0.8" stroke-linejoin="round"/>
<path clip-path="url(#cb1)" d="M316.2,106.7L318.2,105.5L320.3,104.3L322.3,106.6L324.3,107.6L326.4,106.2L328.4,108.4L330.4,107.5L332.4,107.2L334.5,107.3L336.5,106.9L338.5,106.0L340.6,106.1L342.6,106.9L344.6,105.0L346.7,107.8L348.7,108.9L350.7,107.7L352.8,106.0L354.8,107.3L356.8,105.6L358.8,107.2L360.9,108.8L362.9,108.9L364.9,103.4L367.0,95.4L369.0,87.9L371.0,78.2L373.1,63.1L375.1,55.5L377.1,49.5L379.1,47.8L381.2,35.3L383.2,30.4L385.2,7.1L387.3,-7.8L389.3,-20.7" stroke="#e8212b" stroke-width="0.45" fill="none" stroke-opacity="0.72" stroke-linejoin="round"/>
<path clip-path="url(#cb1)" d="M316.2,110.3L318.2,111.0L320.3,111.8L322.3,111.0L324.3,110.9L326.4,111.4L328.4,111.9L330.4,110.2L332.4,110.3L334.5,110.0L336.5,109.0L338.5,107.6L340.6,107.7L342.6,108.8L344.6,109.2L346.7,110.8L348.7,111.5L350.7,113.2L352.8,111.8L354.8,110.9L356.8,111.7L358.8,110.7L360.9,109.2L362.9,108.6L364.9,103.8L367.0,98.9L369.0,89.2L371.0,78.6L373.1,72.3L375.1,67.0L377.1,59.5L379.1,50.5L381.2,48.9L383.2,41.9L385.2,23.1L387.3,7.9L389.3,1.6" stroke="#e8212b" stroke-width="0.45" fill="none" stroke-opacity="0.72" stroke-linejoin="round"/>
<path clip-path="url(#cb1)" d="M316.2,110.2L318.2,110.3L320.3,110.1L322.3,111.0L324.3,110.9L326.4,110.3L328.4,110.1L330.4,109.9L332.4,109.3L334.5,110.6L336.5,110.7L338.5,110.1L340.6,109.3L342.6,108.8L344.6,109.3L346.7,109.3L348.7,110.1L350.7,110.9L352.8,108.3L354.8,110.4L356.8,112.3L358.8,111.7L360.9,112.2L362.9,112.6L364.9,111.3L367.0,100.7L369.0,86.7L371.0,72.0L373.1,49.8L375.1,29.2L377.1,20.4L379.1,11.0L381.2,-6.8L383.2,-25.7L385.2,-52.6L387.3,-68.8L389.3,-79.1" stroke="#e8212b" stroke-width="0.45" fill="none" stroke-opacity="0.72" stroke-linejoin="round"/>
<path clip-path="url(#cb1)" d="M316.2,111.9L318.2,112.8L320.3,111.4L322.3,110.8L324.3,110.3L326.4,111.9L328.4,111.7L330.4,110.3L332.4,109.1L334.5,109.2L336.5,109.5L338.5,110.2L340.6,110.3L342.6,109.8L344.6,110.4L346.7,110.6L348.7,110.8L350.7,109.7L352.8,107.6L354.8,109.8L356.8,110.9L358.8,109.6L360.9,109.4L362.9,108.8L364.9,109.5L367.0,106.5L369.0,95.6L371.0,83.5L373.1,69.0L375.1,54.9L377.1,44.3L379.1,34.4L381.2,23.9L383.2,16.4L385.2,6.8L387.3,5.9L389.3,-6.5" stroke="#e8212b" stroke-width="0.45" fill="none" stroke-opacity="0.72" stroke-linejoin="round"/>
<path clip-path="url(#cb1)" d="M316.2,112.0L318.2,110.4L320.3,109.9L322.3,110.2L324.3,109.3L326.4,110.8L328.4,109.5L330.4,108.9L332.4,109.0L334.5,109.5L336.5,109.8L338.5,110.9L340.6,110.3L342.6,108.6L344.6,110.3L346.7,111.4L348.7,109.3L350.7,110.2L352.8,110.0L354.8,110.0L356.8,110.9L358.8,111.8L360.9,111.2L362.9,111.0L364.9,111.1L367.0,109.5L369.0,101.2L371.0,95.1L373.1,83.4L375.1,78.2L377.1,72.7L379.1,64.5L381.2,48.2L383.2,36.0L385.2,23.4L387.3,20.6L389.3,18.6" stroke="#e8212b" stroke-width="0.45" fill="none" stroke-opacity="0.72" stroke-linejoin="round"/>
<path clip-path="url(#cb1)" d="M316.2,111.7L318.2,111.8L320.3,113.6L322.3,111.3L324.3,110.5L326.4,110.7L328.4,111.6L330.4,109.6L332.4,109.6L334.5,109.1L336.5,108.0L338.5,108.1L340.6,109.0L342.6,110.6L344.6,111.5L346.7,111.6L348.7,110.2L350.7,109.0L352.8,108.0L354.8,109.5L356.8,109.1L358.8,109.1L360.9,108.6L362.9,112.2L364.9,111.3L367.0,111.4L369.0,108.8L371.0,100.7L373.1,85.9L375.1,72.6L377.1,61.3L379.1,43.3L381.2,33.3L383.2,24.2L385.2,9.2L387.3,-4.2L389.3,-9.6" stroke="#e8212b" stroke-width="0.45" fill="none" stroke-opacity="0.72" stroke-linejoin="round"/>
<path clip-path="url(#cb1)" d="M316.2,111.8L318.2,107.8L320.3,109.9L322.3,111.4L324.3,109.5L326.4,108.5L328.4,107.6L330.4,109.3L332.4,110.0L334.5,110.7L336.5,111.1L338.5,110.1L340.6,110.7L342.6,110.4L344.6,109.9L346.7,110.6L348.7,109.4L350.7,110.9L352.8,111.1L354.8,112.1L356.8,111.4L358.8,110.2L360.9,110.5L362.9,110.6L364.9,110.8L367.0,110.4L369.0,109.9L371.0,101.8L373.1,91.0L375.1,76.1L377.1,60.1L379.1,44.5L381.2,25.5L383.2,16.1L385.2,-1.0L387.3,-19.9L389.3,-39.7" stroke="#e8212b" stroke-width="0.45" fill="none" stroke-opacity="0.72" stroke-linejoin="round"/>
<path clip-path="url(#cb1)" d="M316.2,106.7L318.2,108.0L320.3,107.8L322.3,107.4L324.3,107.6L326.4,107.1L328.4,107.6L330.4,107.4L332.4,106.3L334.5,105.1L336.5,107.2L338.5,106.9L340.6,106.5L342.6,108.3L344.6,107.3L346.7,108.5L348.7,108.2L350.7,107.8L352.8,106.9L354.8,107.4L356.8,106.7L358.8,108.0L360.9,107.8L362.9,108.9L364.9,109.3L367.0,108.7L369.0,107.4L371.0,105.3L373.1,88.8L375.1,75.8L377.1,63.3L379.1,41.4L381.2,25.7L383.2,18.1L385.2,2.9L387.3,-24.2L389.3,-22.6" stroke="#e8212b" stroke-width="0.45" fill="none" stroke-opacity="0.72" stroke-linejoin="round"/>
<path clip-path="url(#cb1)" d="M316.2,108.6L318.2,110.5L320.3,110.0L322.3,109.3L324.3,109.1L326.4,109.5L328.4,108.7L330.4,109.1L332.4,107.3L334.5,110.1L336.5,110.0L338.5,109.7L340.6,109.5L342.6,109.6L344.6,110.5L346.7,111.7L348.7,111.2L350.7,111.1L352.8,110.9L354.8,110.2L356.8,110.3L358.8,111.4L360.9,110.5L362.9,110.1L364.9,108.2L367.0,109.4L369.0,110.9L371.0,110.5L373.1,102.6L375.1,88.6L377.1,79.2L379.1,64.7L381.2,48.4L383.2,30.3L385.2,8.2L387.3,-6.5L389.3,-15.0" stroke="#e8212b" stroke-width="0.45" fill="none" stroke-opacity="0.72" stroke-linejoin="round"/>
<path clip-path="url(#cb1)" d="M316.2,105.5L318.2,104.5L320.3,102.9L322.3,105.9L324.3,106.3L326.4,104.5L328.4,105.7L330.4,105.1L332.4,105.1L334.5,105.4L336.5,106.3L338.5,107.7L340.6,106.7L342.6,107.7L344.6,105.1L346.7,106.4L348.7,106.3L350.7,106.3L352.8,105.5L354.8,106.0L356.8,105.3L358.8,104.6L360.9,106.0L362.9,105.9L364.9,106.7L367.0,105.9L369.0,105.6L371.0,103.8L373.1,102.5L375.1,97.2L377.1,87.3L379.1,79.3L381.2,72.8L383.2,57.6L385.2,48.8L387.3,33.0L389.3,22.7" stroke="#e8212b" stroke-width="0.45" fill="none" stroke-opacity="0.72" stroke-linejoin="round"/>
<path clip-path="url(#cb1)" d="M316.2,111.9L318.2,112.5L320.3,112.2L322.3,111.0L324.3,110.2L326.4,111.9L328.4,111.2L330.4,113.0L332.4,114.0L334.5,114.0L336.5,113.7L338.5,113.4L340.6,110.3L342.6,108.3L344.6,109.7L346.7,110.0L348.7,113.0L350.7,113.0L352.8,111.3L354.8,110.7L356.8,111.8L358.8,112.4L360.9,114.3L362.9,111.7L364.9,112.1L367.0,113.0L369.0,113.2L371.0,113.3L373.1,114.0L375.1,101.3L377.1,86.9L379.1,74.1L381.2,66.8L383.2,52.4L385.2,34.5L387.3,27.3L389.3,15.3" stroke="#e8212b" stroke-width="0.45" fill="none" stroke-opacity="0.72" stroke-linejoin="round"/>
<path clip-path="url(#cb1)" d="M316.2,109.4L318.2,112.5L320.3,112.2L322.3,112.5L324.3,113.6L326.4,112.4L328.4,111.6L330.4,109.5L332.4,111.5L334.5,110.9L336.5,111.2L338.5,111.3L340.6,109.9L342.6,112.2L344.6,110.8L346.7,111.9L348.7,112.6L350.7,111.7L352.8,111.3L354.8,110.7L356.8,112.1L358.8,112.2L360.9,112.6L362.9,115.9L364.9,113.8L367.0,110.7L369.0,111.8L371.0,110.7L373.1,111.6L375.1,109.3L377.1,103.6L379.1,93.0L381.2,83.5L383.2,75.7L385.2,68.0L387.3,57.3L389.3,41.7" stroke="#e8212b" stroke-width="0.45" fill="none" stroke-opacity="0.72" stroke-linejoin="round"/>
<path clip-path="url(#cb1)" d="M316.2,106.2L318.2,105.4L320.3,106.6L322.3,107.5L324.3,105.7L326.4,104.4L328.4,103.9L330.4,105.4L332.4,105.6L334.5,107.3L336.5,107.4L338.5,105.9L340.6,104.9L342.6,105.6L344.6,105.9L346.7,107.3L348.7,106.7L350.7,107.0L352.8,107.1L354.8,105.5L356.8,108.1L358.8,108.6L360.9,105.9L362.9,106.2L364.9,104.6L367.0,104.7L369.0,105.8L371.0,106.4L373.1,105.9L375.1,106.9L377.1,102.8L379.1,91.7L381.2,82.3L383.2,69.2L385.2,56.0L387.3,47.3L389.3,35.2" stroke="#e8212b" stroke-width="0.45" fill="none" stroke-opacity="0.72" stroke-linejoin="round"/>
<path clip-path="url(#cb1)" d="M316.2,113.7L318.2,115.4L320.3,113.1L322.3,110.9L324.3,111.1L326.4,113.2L328.4,113.7L330.4,114.3L332.4,115.4L334.5,116.0L336.5,114.3L338.5,115.0L340.6,113.9L342.6,113.5L344.6,113.4L346.7,113.0L348.7,114.0L350.7,114.6L352.8,114.5L354.8,113.8L356.8,111.4L358.8,111.3L360.9,113.1L362.9,113.1L364.9,113.1L367.0,113.5L369.0,114.0L371.0,114.5L373.1,112.2L375.1,113.2L377.1,108.5L379.1,98.4L381.2,87.5L383.2,71.8L385.2,56.9L387.3,40.0L389.3,33.5" stroke="#e8212b" stroke-width="0.45" fill="none" stroke-opacity="0.72" stroke-linejoin="round"/>
<path clip-path="url(#cb1)" d="M316.2,105.9L318.2,105.7L320.3,106.4L322.3,106.4L324.3,106.1L326.4,107.3L328.4,106.4L330.4,106.2L332.4,106.4L334.5,107.4L336.5,108.5L338.5,108.0L340.6,109.5L342.6,108.8L344.6,108.6L346.7,109.5L348.7,108.8L350.7,106.4L352.8,107.4L354.8,105.6L356.8,107.1L358.8,109.7L360.9,106.6L362.9,106.1L364.9,106.1L367.0,107.3L369.0,109.0L371.0,109.5L373.1,108.7L375.1,110.7L377.1,110.5L379.1,98.2L381.2,81.6L383.2,66.1L385.2,48.3L387.3,34.5L389.3,8.5" stroke="#e8212b" stroke-width="0.45" fill="none" stroke-opacity="0.72" stroke-linejoin="round"/>
<path clip-path="url(#cb1)" d="M316.2,111.5L318.2,110.1L320.3,109.9L322.3,109.8L324.3,108.5L326.4,111.3L328.4,110.3L330.4,111.5L332.4,110.1L334.5,111.2L336.5,110.2L338.5,109.9L340.6,109.5L342.6,110.4L344.6,111.1L346.7,110.8L348.7,111.4L350.7,111.0L352.8,109.9L354.8,110.7L356.8,111.2L358.8,110.3L360.9,111.3L362.9,111.7L364.9,111.4L367.0,112.4L369.0,114.7L371.0,112.7L373.1,113.2L375.1,112.2L377.1,111.4L379.1,111.7L381.2,101.8L383.2,90.0L385.2,77.3L387.3,64.4L389.3,47.9" stroke="#e8212b" stroke-width="0.45" fill="none" stroke-opacity="0.72" stroke-linejoin="round"/>
<path clip-path="url(#cb1)" d="M316.2,106.4L318.2,107.2L320.3,106.4L322.3,106.2L324.3,107.5L326.4,107.9L328.4,109.0L330.4,106.8L332.4,105.4L334.5,106.4L336.5,108.3L338.5,106.3L340.6,105.9L342.6,105.9L344.6,104.7L346.7,104.8L348.7,106.3L350.7,106.4L352.8,106.9L354.8,105.7L356.8,104.1L358.8,102.9L360.9,105.1L362.9,104.4L364.9,104.7L367.0,104.6L369.0,103.6L371.0,103.2L373.1,103.6L375.1,103.8L377.1,105.1L379.1,105.6L381.2,99.4L383.2,83.3L385.2,68.4L387.3,63.2L389.3,44.2" stroke="#e8212b" stroke-width="0.45" fill="none" stroke-opacity="0.72" stroke-linejoin="round"/>
<path clip-path="url(#cb1)" d="M316.2,106.7L318.2,107.6L320.3,107.0L322.3,106.9L324.3,108.7L326.4,108.2L328.4,107.3L330.4,106.1L332.4,106.3L334.5,105.8L336.5,106.3L338.5,105.3L340.6,105.8L342.6,105.0L344.6,106.3L346.7,108.1L348.7,106.7L350.7,106.1L352.8,107.3L354.8,107.3L356.8,107.7L358.8,106.7L360.9,107.3L362.9,108.0L364.9,106.4L367.0,106.3L369.0,106.3L371.0,106.9L373.1,106.6L375.1,106.5L377.1,106.3L379.1,105.7L381.2,105.7L383.2,92.9L385.2,79.3L387.3,61.2L389.3,38.9" stroke="#e8212b" stroke-width="0.45" fill="none" stroke-opacity="0.72" stroke-linejoin="round"/>
<path clip-path="url(#cb1)" d="M316.2,111.4L318.2,111.8L320.3,112.3L322.3,110.6L324.3,110.0L326.4,112.2L328.4,114.5L330.4,114.3L332.4,115.9L334.5,113.2L336.5,112.1L338.5,114.1L340.6,114.1L342.6,113.3L344.6,112.2L346.7,110.2L348.7,110.1L350.7,110.0L352.8,113.8L354.8,114.2L356.8,114.4L358.8,114.5L360.9,113.2L362.9,112.4L364.9,113.5L367.0,112.1L369.0,111.0L371.0,111.1L373.1,110.1L375.1,109.7L377.1,111.5L379.1,111.2L381.2,113.2L383.2,106.0L385.2,95.2L387.3,85.9L389.3,76.1" stroke="#e8212b" stroke-width="0.45" fill="none" stroke-opacity="0.72" stroke-linejoin="round"/>
<path clip-path="url(#cb1)" d="M316.2,108.9L318.2,109.5L320.3,109.2L322.3,108.9L324.3,110.4L326.4,111.5L328.4,111.1L330.4,110.2L332.4,110.4L334.5,110.9L336.5,109.8L338.5,109.6L340.6,108.6L342.6,108.6L344.6,108.0L346.7,107.1L348.7,108.7L350.7,109.2L352.8,109.6L354.8,108.3L356.8,105.5L358.8,107.3L360.9,107.2L362.9,108.3L364.9,108.1L367.0,107.0L369.0,108.1L371.0,109.3L373.1,109.8L375.1,109.2L377.1,107.7L379.1,108.1L381.2,108.4L383.2,105.4L385.2,98.3L387.3,89.6L389.3,78.0" stroke="#e8212b" stroke-width="0.45" fill="none" stroke-opacity="0.72" stroke-linejoin="round"/>
<path clip-path="url(#cb1)" d="M316.2,104.0L318.2,105.0L320.3,105.4L322.3,108.3L324.3,106.6L326.4,107.0L328.4,105.4L330.4,106.8L332.4,104.2L334.5,103.9L336.5,104.6L338.5,105.0L340.6,106.4L342.6,105.6L344.6,104.8L346.7,105.7L348.7,107.0L350.7,105.3L352.8,104.4L354.8,104.2L356.8,104.2L358.8,104.2L360.9,105.7L362.9,106.0L364.9,107.6L367.0,105.5L369.0,106.8L371.0,107.3L373.1,107.0L375.1,104.7L377.1,106.5L379.1,107.5L381.2,106.2L383.2,107.0L385.2,101.0L387.3,94.4L389.3,85.5" stroke="#e8212b" stroke-width="0.45" fill="none" stroke-opacity="0.72" stroke-linejoin="round"/>
<path clip-path="url(#cb1)" d="M316.2,111.1L318.2,110.2L320.3,108.5L322.3,109.8L324.3,108.2L326.4,110.0L328.4,111.2L330.4,112.7L332.4,112.2L334.5,111.1L336.5,110.2L338.5,111.5L340.6,111.9L342.6,111.7L344.6,108.9L346.7,108.7L348.7,108.2L350.7,108.5L352.8,110.8L354.8,111.8L356.8,112.0L358.8,111.6L360.9,111.1L362.9,111.4L364.9,108.9L367.0,111.2L369.0,109.5L371.0,109.8L373.1,110.1L375.1,109.9L377.1,109.7L379.1,111.3L381.2,111.0L383.2,110.2L385.2,110.6L387.3,101.2L389.3,93.6" stroke="#e8212b" stroke-width="0.45" fill="none" stroke-opacity="0.72" stroke-linejoin="round"/>
<path clip-path="url(#cb1)" d="M316.2,108.1L318.2,107.4L320.3,108.9L322.3,108.0L324.3,107.4L326.4,109.3L328.4,108.7L330.4,109.2L332.4,107.6L334.5,106.3L336.5,104.4L338.5,106.8L340.6,105.9L342.6,104.8L344.6,106.3L346.7,106.3L348.7,105.9L350.7,106.5L352.8,105.2L354.8,106.5L356.8,106.7L358.8,105.4L360.9,105.4L362.9,106.6L364.9,107.1L367.0,106.6L369.0,107.1L371.0,105.6L373.1,105.7L375.1,107.1L377.1,106.3L379.1,108.7L381.2,108.7L383.2,106.2L385.2,105.6L387.3,97.0L389.3,88.6" stroke="#e8212b" stroke-width="0.45" fill="none" stroke-opacity="0.72" stroke-linejoin="round"/>
<path clip-path="url(#cb1)" d="M316.2,111.9L318.2,111.3L320.3,110.3L322.3,113.8L324.3,112.4L326.4,111.2L328.4,111.4L330.4,109.4L332.4,110.1L334.5,111.1L336.5,113.4L338.5,113.7L340.6,112.6L342.6,111.5L344.6,111.6L346.7,109.4L348.7,110.3L350.7,110.1L352.8,108.2L354.8,109.5L356.8,110.2L358.8,109.9L360.9,109.7L362.9,111.3L364.9,111.3L367.0,113.7L369.0,111.4L371.0,110.2L373.1,112.0L375.1,111.4L377.1,110.7L379.1,110.9L381.2,111.8L383.2,110.9L385.2,112.4L387.3,109.6L389.3,95.3" stroke="#e8212b" stroke-width="0.45" fill="none" stroke-opacity="0.72" stroke-linejoin="round"/>
<path clip-path="url(#cb1)" d="M316.2,109.0L318.2,108.6L320.3,108.3L322.3,108.5L324.3,107.8L326.4,108.0L328.4,108.0L330.4,110.0L332.4,109.4L334.5,108.8L336.5,111.2L338.5,113.3L340.6,112.2L342.6,109.0L344.6,107.5L346.7,109.0L348.7,110.2L350.7,110.8L352.8,110.3L354.8,112.2L356.8,110.0L358.8,108.8L360.9,110.1L362.9,109.6L364.9,107.3L367.0,106.4L369.0,108.0L371.0,107.9L373.1,110.1L375.1,109.5L377.1,110.3L379.1,108.9L381.2,110.9L383.2,110.9L385.2,111.6L387.3,111.4L389.3,101.3" stroke="#e8212b" stroke-width="0.45" fill="none" stroke-opacity="0.72" stroke-linejoin="round"/>
<path clip-path="url(#cb1)" d="M316.2,108.7L318.2,108.7L320.3,109.2L322.3,108.3L324.3,107.4L326.4,106.4L328.4,105.3L330.4,104.7L332.4,105.9L334.5,106.2L336.5,104.9L338.5,107.2L340.6,107.0L342.6,107.4L344.6,107.0L346.7,106.6L348.7,107.3L350.7,106.4L352.8,107.7L354.8,107.5L356.8,107.3L358.8,106.8L360.9,107.4L362.9,106.9L364.9,107.1L367.0,105.9L369.0,105.4L371.0,106.4L373.1,106.5L375.1,105.4L377.1,104.4L379.1,105.7L381.2,107.0L383.2,107.4L385.2,106.7L387.3,105.2L389.3,107.6" stroke="#e8212b" stroke-width="0.45" fill="none" stroke-opacity="0.72" stroke-linejoin="round"/>
<path clip-path="url(#cb1)" d="M316.2,112.4L318.2,112.7L320.3,113.2L322.3,113.0L324.3,113.9L326.4,111.7L328.4,110.9L330.4,112.2L332.4,113.0L334.5,111.3L336.5,109.3L338.5,110.7L340.6,110.7L342.6,110.0L344.6,110.7L346.7,110.9L348.7,110.3L350.7,111.9L352.8,114.3L354.8,113.1L356.8,113.4L358.8,113.0L360.9,115.7L362.9,115.3L364.9,112.9L367.0,115.4L369.0,114.2L371.0,113.0L373.1,112.0L375.1,109.6L377.1,109.9L379.1,111.1L381.2,112.7L383.2,112.3L385.2,113.6L387.3,114.5L389.3,111.3" stroke="#e8212b" stroke-width="0.45" fill="none" stroke-opacity="0.72" stroke-linejoin="round"/>
<path clip-path="url(#cb1)" d="M316.2,103.2L318.2,104.0L320.3,104.3L322.3,102.9L324.3,104.9L326.4,104.8L328.4,106.3L330.4,105.1L332.4,102.9L334.5,104.4L336.5,104.1L338.5,103.5L340.6,103.9L342.6,106.1L344.6,105.6L346.7,105.9L348.7,104.7L350.7,102.6L352.8,102.8L354.8,102.2L356.8,103.2L358.8,105.2L360.9,102.3L362.9,102.3L364.9,102.9L367.0,103.9L369.0,104.5L371.0,104.2L373.1,101.5L375.1,102.0L377.1,103.0L379.1,100.3L381.2,92.7L383.2,85.9L385.2,79.5L387.3,73.0L389.3,67.9" stroke="#e8212b" stroke-width="0.45" fill="none" stroke-opacity="0.72" stroke-linejoin="round"/>
<path clip-path="url(#cb1)" d="M316.2,109.0L318.2,109.1L320.3,109.4L322.3,107.2L324.3,107.6L326.4,109.3L328.4,109.0L330.4,109.0L332.4,109.3L334.5,108.0L336.5,110.8L338.5,109.4L340.6,110.7L342.6,111.6L344.6,110.7L346.7,109.2L348.7,108.6L350.7,110.4L352.8,107.0L354.8,109.0L356.8,110.3L358.8,108.5L360.9,109.3L362.9,110.1L364.9,110.0L367.0,108.2L369.0,107.7L371.0,109.9L373.1,109.8L375.1,110.0L377.1,109.9L379.1,110.0L381.2,111.3L383.2,110.4L385.2,112.7L387.3,105.7L389.3,95.3" stroke="#e8212b" stroke-width="0.45" fill="none" stroke-opacity="0.72" stroke-linejoin="round"/>
<path clip-path="url(#cb1)" d="M316.2,103.3L318.2,103.9L320.3,103.2L322.3,104.6L324.3,105.3L326.4,105.0L328.4,106.2L330.4,107.0L332.4,105.0L334.5,104.6L336.5,104.4L338.5,102.1L340.6,105.4L342.6,103.5L344.6,103.4L346.7,105.9L348.7,108.0L350.7,105.5L352.8,106.4L354.8,107.1L356.8,104.9L358.8,103.1L360.9,104.8L362.9,102.0L364.9,102.1L367.0,102.9L369.0,104.0L371.0,105.0L373.1,105.5L375.1,107.2L377.1,106.2L379.1,106.6L381.2,105.2L383.2,103.5L385.2,94.4L387.3,83.0L389.3,73.6" stroke="#e8212b" stroke-width="0.45" fill="none" stroke-opacity="0.72" stroke-linejoin="round"/>
<path clip-path="url(#cb1)" d="M316.2,105.9L318.2,105.7L320.3,105.5L322.3,104.1L324.3,106.4L326.4,104.3L328.4,103.3L330.4,101.1L332.4,104.4L334.5,103.4L336.5,102.4L338.5,101.1L340.6,105.2L342.6,105.0L344.6,103.4L346.7,106.0L348.7,105.6L350.7,104.3L352.8,104.0L354.8,104.0L356.8,104.0L358.8,103.0L360.9,105.2L362.9,104.7L364.9,105.6L367.0,103.8L369.0,103.3L371.0,102.1L373.1,103.6L375.1,101.1L377.1,101.5L379.1,101.6L381.2,103.8L383.2,103.9L385.2,105.5L387.3,101.4L389.3,89.9" stroke="#e8212b" stroke-width="0.45" fill="none" stroke-opacity="0.72" stroke-linejoin="round"/>
<path clip-path="url(#cb1)" d="M316.2,107.3L318.2,107.7L320.3,106.8L322.3,107.7L324.3,107.0L326.4,107.8L328.4,109.2L330.4,108.0L332.4,106.5L334.5,110.5L336.5,108.7L338.5,108.4L340.6,107.2L342.6,105.5L344.6,106.9L346.7,106.8L348.7,107.8L350.7,109.1L352.8,107.9L354.8,109.5L356.8,108.0L358.8,106.2L360.9,107.3L362.9,106.9L364.9,107.3L367.0,107.7L369.0,107.1L371.0,107.9L373.1,107.9L375.1,107.7L377.1,108.6L379.1,106.3L381.2,105.0L383.2,107.1L385.2,106.7L387.3,108.7L389.3,108.0" stroke="#e8212b" stroke-width="0.45" fill="none" stroke-opacity="0.72" stroke-linejoin="round"/>
<path clip-path="url(#cb1)" d="M316.2,108.2L318.2,108.2L320.3,108.4L322.3,107.2L324.3,108.5L326.4,107.4L328.4,106.8L330.4,104.4L332.4,105.0L334.5,106.8L336.5,108.0L338.5,108.9L340.6,108.2L342.6,109.5L344.6,109.8L346.7,110.1L348.7,108.2L350.7,110.0L352.8,107.4L354.8,107.5L356.8,108.2L358.8,109.3L360.9,108.4L362.9,107.3L364.9,106.8L367.0,108.3L369.0,108.1L371.0,106.5L373.1,109.0L375.1,109.4L377.1,107.2L379.1,107.1L381.2,107.3L383.2,104.4L385.2,98.8L387.3,95.0L389.3,88.3" stroke="#e8212b" stroke-width="0.45" fill="none" stroke-opacity="0.72" stroke-linejoin="round"/>
<path clip-path="url(#cb1)" d="M316.2,105.6L318.2,106.4L320.3,105.6L322.3,105.1L324.3,103.0L326.4,105.4L328.4,103.8L330.4,104.4L332.4,105.6L334.5,106.5L336.5,105.8L338.5,105.9L340.6,106.0L342.6,104.9L344.6,105.4L346.7,104.7L348.7,105.8L350.7,103.0L352.8,104.3L354.8,101.7L356.8,102.6L358.8,105.2L360.9,106.4L362.9,106.9L364.9,105.5L367.0,104.2L369.0,104.6L371.0,104.6L373.1,105.2L375.1,107.3L377.1,106.4L379.1,104.0L381.2,107.0L383.2,103.5L385.2,95.7L387.3,90.5L389.3,79.5" stroke="#e8212b" stroke-width="0.45" fill="none" stroke-opacity="0.72" stroke-linejoin="round"/>
<path clip-path="url(#cb1)" d="M316.2,104.1L318.2,102.8L320.3,102.5L322.3,102.2L324.3,103.3L326.4,103.5L328.4,102.7L330.4,104.6L332.4,106.4L334.5,107.1L336.5,105.7L338.5,106.1L340.6,104.9L342.6,105.1L344.6,104.3L346.7,104.5L348.7,106.8L350.7,104.2L352.8,105.2L354.8,106.7L356.8,106.7L358.8,105.8L360.9,103.5L362.9,108.1L364.9,106.9L367.0,106.7L369.0,104.7L371.0,102.5L373.1,103.4L375.1,102.4L377.1,102.9L379.1,105.6L381.2,105.4L383.2,104.9L385.2,105.3L387.3,103.3L389.3,92.9" stroke="#e8212b" stroke-width="0.45" fill="none" stroke-opacity="0.72" stroke-linejoin="round"/>
<path clip-path="url(#cb1)" d="M316.2,106.6L318.2,107.9L320.3,105.9L322.3,105.6L324.3,106.0L326.4,105.9L328.4,106.0L330.4,106.3L332.4,109.1L334.5,108.9L336.5,108.9L338.5,107.9L340.6,108.5L342.6,106.9L344.6,106.8L346.7,106.8L348.7,108.4L350.7,105.7L352.8,108.3L354.8,106.8L356.8,109.9L358.8,106.2L360.9,107.0L362.9,105.8L364.9,105.3L367.0,104.4L369.0,103.0L371.0,105.8L373.1,106.6L375.1,107.8L377.1,108.3L379.1,110.5L381.2,104.6L383.2,96.2L385.2,87.8L387.3,77.8L389.3,69.8" stroke="#e8212b" stroke-width="0.45" fill="none" stroke-opacity="0.72" stroke-linejoin="round"/>
<path clip-path="url(#cb1)" d="M316.2,106.1L318.2,107.3L320.3,108.0L322.3,105.6L324.3,106.0L326.4,108.2L328.4,106.9L330.4,108.1L332.4,106.5L334.5,107.6L336.5,107.8L338.5,107.0L340.6,105.2L342.6,107.4L344.6,107.8L346.7,108.8L348.7,106.5L350.7,106.2L352.8,106.8L354.8,105.7L356.8,107.6L358.8,107.4L360.9,109.0L362.9,108.9L364.9,110.0L367.0,109.8L369.0,109.9L371.0,110.6L373.1,108.4L375.1,108.6L377.1,108.5L379.1,106.4L381.2,106.8L383.2,106.0L385.2,107.2L387.3,106.8L389.3,103.2" stroke="#e8212b" stroke-width="0.45" fill="none" stroke-opacity="0.72" stroke-linejoin="round"/>
<path clip-path="url(#cb1)" d="M316.2,108.9L318.2,111.4L320.3,112.3L322.3,112.8L324.3,111.6L326.4,109.0L328.4,107.8L330.4,105.6L332.4,105.6L334.5,107.1L336.5,106.7L338.5,107.5L340.6,107.3L342.6,108.4L344.6,107.8L346.7,107.2L348.7,108.2L350.7,107.2L352.8,110.9L354.8,112.0L356.8,111.6L358.8,108.4L360.9,110.3L362.9,108.8L364.9,111.6L367.0,109.8L369.0,109.3L371.0,111.2L373.1,109.2L375.1,109.7L377.1,111.4L379.1,113.5L381.2,111.1L383.2,101.3L385.2,90.2L387.3,77.7L389.3,68.3" stroke="#e8212b" stroke-width="0.45" fill="none" stroke-opacity="0.72" stroke-linejoin="round"/>
<path clip-path="url(#cb1)" d="M316.2,106.0L318.2,105.9L320.3,103.9L322.3,103.7L324.3,104.4L326.4,105.9L328.4,104.1L330.4,105.3L332.4,103.8L334.5,104.8L336.5,104.6L338.5,103.4L340.6,104.7L342.6,105.9L344.6,104.3L346.7,104.4L348.7,105.0L350.7,106.7L352.8,105.1L354.8,105.1L356.8,104.2L358.8,107.5L360.9,106.5L362.9,105.8L364.9,104.5L367.0,105.0L369.0,105.9L371.0,105.5L373.1,104.3L375.1,104.0L377.1,102.9L379.1,102.3L381.2,101.9L383.2,98.4L385.2,88.0L387.3,78.2L389.3,67.6" stroke="#e8212b" stroke-width="0.45" fill="none" stroke-opacity="0.72" stroke-linejoin="round"/>
<path clip-path="url(#cb1)" d="M316.2,106.4L318.2,106.2L320.3,106.4L322.3,105.8L324.3,106.8L326.4,105.2L328.4,108.3L330.4,107.6L332.4,105.2L334.5,106.0L336.5,106.8L338.5,106.6L340.6,107.2L342.6,105.9L344.6,107.0L346.7,107.2L348.7,105.4L350.7,104.9L352.8,105.1L354.8,106.4L356.8,106.2L358.8,106.4L360.9,107.8L362.9,107.0L364.9,106.1L367.0,104.5L369.0,103.1L371.0,104.6L373.1,108.6L375.1,106.7L377.1,106.0L379.1,103.8L381.2,105.1L383.2,104.8L385.2,104.6L387.3,99.8L389.3,95.3" stroke="#e8212b" stroke-width="0.45" fill="none" stroke-opacity="0.72" stroke-linejoin="round"/>
<path clip-path="url(#cb1)" d="M316.2,106.8L318.2,107.0L320.3,104.7L322.3,104.6L324.3,106.5L326.4,106.4L328.4,104.9L330.4,104.3L332.4,107.2L334.5,106.3L336.5,105.4L338.5,105.2L340.6,104.3L342.6,105.6L344.6,106.1L346.7,106.1L348.7,106.5L350.7,107.0L352.8,108.0L354.8,106.9L356.8,106.8L358.8,105.2L360.9,104.3L362.9,108.1L364.9,107.0L367.0,107.1L369.0,107.4L371.0,105.6L373.1,106.4L375.1,107.7L377.1,107.6L379.1,104.5L381.2,97.2L383.2,91.5L385.2,84.1L387.3,80.1L389.3,75.3" stroke="#e8212b" stroke-width="0.45" fill="none" stroke-opacity="0.72" stroke-linejoin="round"/>
<path clip-path="url(#cb1)" d="M346.7,101.1L352.8,97.7L355.8,92.0L358.8,65.0L361.9,35.7" stroke="#e8212b" stroke-width="0.45" fill="none" stroke-opacity="0.8" stroke-linejoin="round"/>
<path clip-path="url(#cb1)" d="M316.2,110.3L318.2,110.8L320.3,110.3L322.3,109.1L324.3,110.0L326.4,108.3L328.4,109.0L330.4,107.8L332.4,109.3L334.5,108.1L336.5,108.2L338.5,107.5L340.6,106.6L342.6,108.3L344.6,108.8L346.7,108.8L348.7,109.1L350.7,109.8L352.8,109.6L354.8,110.3L356.8,109.5L358.8,110.1L360.9,109.4L362.9,109.8L364.9,109.4L367.0,107.8L369.0,92.3L371.0,77.9L373.1,61.9L375.1,46.5L377.1,32.5L379.1,17.8L381.2,3.2L383.2,-11.9L385.2,-27.5L387.3,-42.6L389.3,-57.5" stroke="#4474bc" stroke-width="0.5" fill="none" stroke-opacity="0.8" stroke-linejoin="round"/>
<path clip-path="url(#cb1)" d="M316.2,109.4L318.2,109.4L320.3,109.1L322.3,110.5L324.3,109.7L326.4,110.0L328.4,110.3L330.4,108.8L332.4,107.2L334.5,106.7L336.5,107.4L338.5,106.4L340.6,106.0L342.6,107.5L344.6,107.9L346.7,107.6L348.7,108.2L350.7,108.6L352.8,108.5L354.8,108.1L356.8,109.3L358.8,109.8L360.9,109.6L362.9,109.6L364.9,110.2L367.0,111.6L369.0,111.0L371.0,110.8L373.1,94.4L375.1,77.9L377.1,61.7L379.1,45.3L381.2,29.0L383.2,13.4L385.2,-2.7L387.3,-19.8L389.3,-36.1" stroke="#4474bc" stroke-width="0.5" fill="none" stroke-opacity="0.8" stroke-linejoin="round"/>
<path clip-path="url(#cb1)" d="M316.2,109.8L318.2,109.9L320.3,109.7L322.3,108.7L324.3,109.2L326.4,108.9L328.4,108.5L330.4,107.4L332.4,107.6L334.5,107.4L336.5,107.0L338.5,106.5L340.6,107.2L342.6,107.6L344.6,107.9L346.7,108.4L348.7,109.2L350.7,109.6L352.8,108.6L354.8,108.7L356.8,108.4L358.8,109.6L360.9,108.4L362.9,109.7L364.9,109.6L367.0,108.6L369.0,110.2L371.0,109.6L373.1,108.6L375.1,107.6L377.1,95.3L379.1,82.6L381.2,69.6L383.2,56.2L385.2,44.2L387.3,32.8L389.3,21.1" stroke="#4474bc" stroke-width="0.5" fill="none" stroke-opacity="0.8" stroke-linejoin="round"/>
<line x1="316.20" y1="24.40" x2="316.20" y2="115.00" stroke="#111" stroke-width="0.7" />
<line x1="313.40" y1="114.60" x2="316.20" y2="114.60" stroke="#111" stroke-width="0.8" />
<line x1="313.40" y1="92.05" x2="316.20" y2="92.05" stroke="#111" stroke-width="0.8" />
<line x1="313.40" y1="69.50" x2="316.20" y2="69.50" stroke="#111" stroke-width="0.8" />
<line x1="313.40" y1="46.95" x2="316.20" y2="46.95" stroke="#111" stroke-width="0.8" />
<line x1="313.40" y1="24.40" x2="316.20" y2="24.40" stroke="#111" stroke-width="0.8" />
<line x1="316.20" y1="114.60" x2="316.20" y2="117.40" stroke="#111" stroke-width="0.8" />
<text x="316.20" y="128.60" text-anchor="middle">0</text>
<line x1="334.47" y1="114.60" x2="334.47" y2="117.40" stroke="#111" stroke-width="0.8" />
<text x="334.47" y="128.60" text-anchor="middle">3</text>
<line x1="352.75" y1="114.60" x2="352.75" y2="117.40" stroke="#111" stroke-width="0.8" />
<text x="352.75" y="128.60" text-anchor="middle">6</text>
<line x1="371.02" y1="114.60" x2="371.02" y2="117.40" stroke="#111" stroke-width="0.8" />
<text x="371.02" y="128.60" text-anchor="middle">9</text>
<line x1="389.30" y1="114.60" x2="389.30" y2="117.40" stroke="#111" stroke-width="0.8" />
<text x="389.30" y="128.60" text-anchor="middle">12</text>
<text x="352.50" y="18.40" text-anchor="middle">Mitogens</text>
<path clip-path="url(#cb2)" d="M406.5,104.7L408.5,103.3L410.6,101.6L412.6,100.0L414.6,101.0L416.7,100.3L418.7,96.2L420.7,95.5L422.7,92.7L424.8,89.5L426.8,86.3L428.8,84.5L430.9,84.5L432.9,79.0L434.9,79.0L437.0,73.9L439.0,70.0L441.0,65.4L443.1,60.3L445.1,58.2L447.1,54.7L449.1,51.4L451.2,43.9L453.2,42.9L455.2,35.8L457.3,29.8L459.3,25.2L461.3,20.9L463.4,19.9L465.4,19.9L467.4,19.9L469.4,19.9L471.5,19.9L473.5,19.9L475.5,19.9L477.6,19.9L479.6,19.9L479.6,87.7L477.6,90.3L475.5,92.3L473.5,94.2L471.5,94.6L469.4,96.7L467.4,98.8L465.4,98.6L463.4,101.1L461.3,101.1L459.3,102.5L457.3,103.9L455.2,104.3L453.2,105.9L451.2,106.0L449.1,107.5L447.1,107.5L445.1,108.1L443.1,108.8L441.0,108.5L439.0,109.2L437.0,110.6L434.9,109.7L432.9,110.9L430.9,110.2L428.8,110.1L426.8,111.8L424.8,111.5L422.7,112.2L420.7,110.9L418.7,111.3L416.7,112.2L414.6,110.9L412.6,112.0L410.6,112.2L408.5,110.8L406.5,111.1Z" fill="#4474bc" opacity="0.58"/>
<path clip-path="url(#cb2)" d="M406.5,108.9L408.5,107.6L410.6,107.5L412.6,107.2L414.6,107.3L416.7,106.1L418.7,107.0L420.7,107.7L422.7,103.9L424.8,102.9L426.8,99.9L428.8,99.1L430.9,99.2L432.9,101.4L434.9,98.8L437.0,96.5L439.0,92.1L441.0,94.7L443.1,93.4L445.1,90.0L447.1,86.5L449.1,84.9L451.2,79.8L453.2,77.4L455.2,80.6L457.3,81.3L459.3,80.2L461.3,79.4L463.4,86.0L465.4,90.1L467.4,90.5L469.4,91.7L471.5,90.3L473.5,84.8L475.5,78.3L477.6,78.9L479.6,77.3" stroke="#e8212b" stroke-width="0.55" fill="none" stroke-opacity="0.85" stroke-linejoin="round"/>
<path clip-path="url(#cb2)" d="M406.5,110.5L408.5,110.3L410.6,109.8L412.6,110.7L414.6,110.2L416.7,108.9L418.7,107.1L420.7,107.0L422.7,106.8L424.8,106.6L426.8,105.3L428.8,104.7L430.9,103.3L432.9,102.3L434.9,102.8L437.0,99.5L439.0,97.9L441.0,97.6L443.1,94.4L445.1,96.3L447.1,92.1L449.1,90.5L451.2,86.1L453.2,81.9L455.2,78.3L457.3,79.0L459.3,80.8L461.3,86.1L463.4,82.6L465.4,80.9L467.4,69.4L469.4,59.3L471.5,66.8L473.5,68.8L475.5,58.1L477.6,45.6L479.6,41.8" stroke="#4474bc" stroke-width="0.5" fill="none" stroke-opacity="0.8" stroke-linejoin="round"/>
<path clip-path="url(#cb2)" d="M406.5,106.0L408.5,105.9L410.6,107.5L412.6,107.0L414.6,107.4L416.7,107.9L418.7,107.3L420.7,107.3L422.7,107.1L424.8,108.2L426.8,107.6L428.8,107.9L430.9,107.4L432.9,104.1L434.9,104.0L437.0,105.1L439.0,105.3L441.0,105.2L443.1,103.5L445.1,102.7L447.1,102.6L449.1,104.4L451.2,102.2L453.2,102.0L455.2,100.4L457.3,103.2L459.3,100.5L461.3,100.8L463.4,103.6L465.4,103.4L467.4,104.2L469.4,102.7L471.5,103.0L473.5,104.2L475.5,103.7L477.6,100.6L479.6,97.4" stroke="#4474bc" stroke-width="0.5" fill="none" stroke-opacity="0.8" stroke-linejoin="round"/>
<path clip-path="url(#cb2)" d="M406.5,99.6L408.5,98.3L410.6,99.3L412.6,98.5L414.6,94.9L416.7,92.2L418.7,92.5L420.7,87.6L422.7,92.3L424.8,87.3L426.8,87.5L428.8,80.0L430.9,80.9L432.9,80.2L434.9,81.2L437.0,74.6L439.0,74.0L441.0,75.8L443.1,78.2L445.1,87.1L447.1,88.4L449.1,75.6L451.2,74.5L453.2,58.9L455.2,40.4L457.3,33.0L459.3,30.8L461.3,25.8L463.4,26.1L465.4,31.7L467.4,5.6L469.4,-0.6L471.5,12.2L473.5,20.5L475.5,-4.3L477.6,-12.0L479.6,-13.0" stroke="#e8212b" stroke-width="0.55" fill="none" stroke-opacity="0.85" stroke-linejoin="round"/>
<path clip-path="url(#cb2)" d="M406.5,108.3L408.5,108.3L410.6,106.9L412.6,106.3L414.6,105.4L416.7,103.9L418.7,100.5L420.7,99.2L422.7,96.3L424.8,98.6L426.8,100.8L428.8,100.7L430.9,92.3L432.9,88.2L434.9,93.4L437.0,80.0L439.0,76.8L441.0,71.0L443.1,62.4L445.1,61.5L447.1,53.7L449.1,55.1L451.2,52.1L453.2,51.7L455.2,38.6L457.3,54.7L459.3,65.3L461.3,66.0L463.4,65.0L465.4,65.5L467.4,64.1L469.4,51.4L471.5,33.1L473.5,29.8L475.5,11.4L477.6,8.8L479.6,26.0" stroke="#4474bc" stroke-width="0.5" fill="none" stroke-opacity="0.8" stroke-linejoin="round"/>
<path clip-path="url(#cb2)" d="M406.5,110.4L408.5,110.9L410.6,110.9L412.6,110.5L414.6,109.2L416.7,109.5L418.7,109.6L420.7,110.0L422.7,109.8L424.8,109.5L426.8,106.9L428.8,108.0L430.9,106.8L432.9,107.2L434.9,107.8L437.0,106.1L439.0,107.7L441.0,105.8L443.1,104.4L445.1,106.8L447.1,105.4L449.1,104.7L451.2,103.4L453.2,102.1L455.2,100.7L457.3,100.4L459.3,95.9L461.3,97.8L463.4,95.7L465.4,98.4L467.4,95.3L469.4,94.4L471.5,92.8L473.5,95.6L475.5,94.0L477.6,93.5L479.6,91.7" stroke="#4474bc" stroke-width="0.5" fill="none" stroke-opacity="0.8" stroke-linejoin="round"/>
<path clip-path="url(#cb2)" d="M406.5,109.2L408.5,110.1L410.6,109.8L412.6,109.8L414.6,109.5L416.7,109.1L418.7,107.6L420.7,106.8L422.7,105.9L424.8,104.8L426.8,102.7L428.8,101.5L430.9,99.9L432.9,100.5L434.9,97.6L437.0,96.1L439.0,92.5L441.0,89.3L443.1,93.5L445.1,92.1L447.1,89.4L449.1,85.9L451.2,81.3L453.2,78.8L455.2,74.7L457.3,78.4L459.3,83.3L461.3,79.5L463.4,82.6L465.4,86.5L467.4,81.9L469.4,75.0L471.5,66.4L473.5,68.5L475.5,76.9L477.6,77.2L479.6,71.1" stroke="#e8212b" stroke-width="0.55" fill="none" stroke-opacity="0.85" stroke-linejoin="round"/>
<path clip-path="url(#cb2)" d="M406.5,110.6L408.5,110.1L410.6,109.1L412.6,108.2L414.6,107.7L416.7,106.3L418.7,105.9L420.7,105.3L422.7,101.6L424.8,94.9L426.8,92.5L428.8,88.5L430.9,86.1L432.9,80.4L434.9,78.0L437.0,81.3L439.0,78.4L441.0,80.3L443.1,80.3L445.1,66.5L447.1,61.6L449.1,61.5L451.2,60.3L453.2,49.7L455.2,37.0L457.3,39.6L459.3,29.7L461.3,49.2L463.4,44.9L465.4,37.3L467.4,36.7L469.4,28.5L471.5,21.9L473.5,-3.2L475.5,-4.0L477.6,16.2L479.6,-3.6" stroke="#4474bc" stroke-width="0.5" fill="none" stroke-opacity="0.8" stroke-linejoin="round"/>
<path clip-path="url(#cb2)" d="M406.5,109.4L408.5,109.9L410.6,109.9L412.6,108.9L414.6,109.4L416.7,110.0L418.7,108.4L420.7,109.0L422.7,109.4L424.8,109.2L426.8,108.1L428.8,108.6L430.9,108.2L432.9,106.0L434.9,107.0L437.0,106.4L439.0,103.6L441.0,105.7L443.1,108.2L445.1,106.8L447.1,104.5L449.1,104.5L451.2,104.2L453.2,103.0L455.2,104.5L457.3,103.7L459.3,102.8L461.3,102.9L463.4,96.9L465.4,98.4L467.4,96.2L469.4,94.6L471.5,91.2L473.5,91.1L475.5,90.1L477.6,88.8L479.6,91.5" stroke="#4474bc" stroke-width="0.5" fill="none" stroke-opacity="0.8" stroke-linejoin="round"/>
<path clip-path="url(#cb2)" d="M406.5,104.5L408.5,103.5L410.6,104.2L412.6,102.4L414.6,103.8L416.7,104.1L418.7,105.9L420.7,107.6L422.7,106.1L424.8,107.6L426.8,106.4L428.8,105.7L430.9,106.2L432.9,105.5L434.9,104.3L437.0,103.9L439.0,103.6L441.0,99.1L443.1,98.3L445.1,94.9L447.1,96.0L449.1,95.5L451.2,89.4L453.2,81.6L455.2,84.1L457.3,84.1L459.3,76.2L461.3,69.2L463.4,76.5L465.4,75.0L467.4,75.9L469.4,84.9L471.5,88.1L473.5,73.6L475.5,73.6L477.6,86.9L479.6,74.2" stroke="#4474bc" stroke-width="0.5" fill="none" stroke-opacity="0.8" stroke-linejoin="round"/>
<path clip-path="url(#cb2)" d="M406.5,104.2L408.5,104.0L410.6,102.0L412.6,100.1L414.6,99.6L416.7,99.9L418.7,100.5L420.7,96.2L422.7,95.0L424.8,92.4L426.8,89.7L428.8,90.2L430.9,87.3L432.9,88.8L434.9,91.1L437.0,90.9L439.0,94.9L441.0,92.4L443.1,87.8L445.1,83.7L447.1,79.4L449.1,82.2L451.2,67.0L453.2,73.5L455.2,70.5L457.3,60.9L459.3,54.2L461.3,51.8L463.4,57.1L465.4,53.5L467.4,59.0L469.4,58.7L471.5,70.4L473.5,82.0L475.5,90.2L477.6,88.3L479.6,100.3" stroke="#e8212b" stroke-width="0.55" fill="none" stroke-opacity="0.85" stroke-linejoin="round"/>
<path clip-path="url(#cb2)" d="M406.5,100.7L408.5,101.5L410.6,100.8L412.6,100.4L414.6,100.6L416.7,101.9L418.7,103.1L420.7,100.6L422.7,98.8L424.8,98.2L426.8,100.1L428.8,96.5L430.9,93.2L432.9,95.7L434.9,98.2L437.0,98.4L439.0,95.6L441.0,95.4L443.1,94.0L445.1,94.8L447.1,90.1L449.1,88.6L451.2,83.6L453.2,81.5L455.2,79.6L457.3,73.3L459.3,74.7L461.3,77.0L463.4,67.4L465.4,63.3L467.4,73.5L469.4,71.4L471.5,68.6L473.5,72.0L475.5,62.7L477.6,60.4L479.6,67.9" stroke="#4474bc" stroke-width="0.5" fill="none" stroke-opacity="0.8" stroke-linejoin="round"/>
<path clip-path="url(#cb2)" d="M406.5,105.2L408.5,104.1L410.6,105.3L412.6,103.4L414.6,101.3L416.7,101.6L418.7,101.2L420.7,99.1L422.7,95.6L424.8,87.3L426.8,85.3L428.8,85.6L430.9,81.9L432.9,84.0L434.9,78.8L437.0,73.3L439.0,71.0L441.0,61.4L443.1,49.4L445.1,50.5L447.1,49.8L449.1,50.4L451.2,45.0L453.2,29.4L455.2,35.9L457.3,18.1L459.3,-2.3L461.3,-2.4L463.4,17.6L465.4,22.8L467.4,21.3L469.4,3.7L471.5,0.8L473.5,-1.2L475.5,-18.2L477.6,-40.7L479.6,-16.7" stroke="#4474bc" stroke-width="0.5" fill="none" stroke-opacity="0.8" stroke-linejoin="round"/>
<path clip-path="url(#cb2)" d="M406.5,107.6L408.5,107.2L410.6,107.3L412.6,107.2L414.6,106.9L416.7,106.7L418.7,108.5L420.7,107.7L422.7,104.2L424.8,102.5L426.8,102.5L428.8,99.6L430.9,98.5L432.9,97.9L434.9,95.9L437.0,97.4L439.0,94.5L441.0,92.0L443.1,92.2L445.1,92.1L447.1,89.7L449.1,91.6L451.2,90.0L453.2,82.0L455.2,84.2L457.3,83.3L459.3,80.2L461.3,74.0L463.4,79.5L465.4,80.1L467.4,79.0L469.4,81.9L471.5,75.8L473.5,68.0L475.5,67.4L477.6,63.1L479.6,56.3" stroke="#4474bc" stroke-width="0.5" fill="none" stroke-opacity="0.8" stroke-linejoin="round"/>
<path clip-path="url(#cb2)" d="M406.5,106.4L408.5,106.1L410.6,108.1L412.6,109.2L414.6,107.0L416.7,106.6L418.7,105.9L420.7,106.5L422.7,104.7L424.8,104.4L426.8,104.1L428.8,102.3L430.9,103.1L432.9,103.2L434.9,101.0L437.0,97.7L439.0,96.3L441.0,95.9L443.1,97.4L445.1,94.8L447.1,97.0L449.1,97.9L451.2,97.0L453.2,95.5L455.2,99.3L457.3,99.8L459.3,101.5L461.3,98.8L463.4,97.3L465.4,89.4L467.4,90.0L469.4,83.4L471.5,84.5L473.5,82.5L475.5,85.0L477.6,93.4L479.6,97.4" stroke="#4474bc" stroke-width="0.5" fill="none" stroke-opacity="0.8" stroke-linejoin="round"/>
<path clip-path="url(#cb2)" d="M406.5,107.0L408.5,105.3L410.6,105.8L412.6,108.4L414.6,107.1L416.7,107.1L418.7,105.0L420.7,102.5L422.7,103.9L424.8,99.6L426.8,98.9L428.8,92.0L430.9,83.8L432.9,79.8L434.9,71.8L437.0,71.9L439.0,62.7L441.0,55.8L443.1,51.3L445.1,36.0L447.1,39.8L449.1,43.7L451.2,56.0L453.2,49.3L455.2,22.2L457.3,21.5L459.3,28.9L461.3,18.4L463.4,36.2L465.4,12.4L467.4,-18.3L469.4,-29.6L471.5,-22.1L473.5,-49.2L475.5,-24.7L477.6,-45.0L479.6,-7.4" stroke="#4474bc" stroke-width="0.5" fill="none" stroke-opacity="0.8" stroke-linejoin="round"/>
<path clip-path="url(#cb2)" d="M406.5,108.8L408.5,109.6L410.6,109.0L412.6,108.7L414.6,107.6L416.7,108.2L418.7,108.5L420.7,110.0L422.7,109.8L424.8,108.1L426.8,108.9L428.8,108.8L430.9,109.1L432.9,109.5L434.9,109.2L437.0,108.4L439.0,106.7L441.0,106.0L443.1,104.9L445.1,105.6L447.1,106.5L449.1,106.5L451.2,104.9L453.2,104.5L455.2,104.6L457.3,105.1L459.3,105.5L461.3,105.0L463.4,104.2L465.4,105.5L467.4,106.4L469.4,103.3L471.5,103.8L473.5,104.0L475.5,101.0L477.6,102.5L479.6,100.7" stroke="#4474bc" stroke-width="0.5" fill="none" stroke-opacity="0.8" stroke-linejoin="round"/>
<path clip-path="url(#cb2)" d="M406.5,110.0L408.5,111.0L410.6,110.2L412.6,109.7L414.6,109.6L416.7,108.4L418.7,108.5L420.7,108.1L422.7,108.9L424.8,109.4L426.8,109.9L428.8,109.9L430.9,110.7L432.9,111.8L434.9,109.9L437.0,108.7L439.0,109.1L441.0,108.4L443.1,106.9L445.1,105.5L447.1,104.1L449.1,106.7L451.2,105.3L453.2,102.9L455.2,101.6L457.3,101.0L459.3,99.5L461.3,101.3L463.4,100.7L465.4,99.6L467.4,104.2L469.4,104.1L471.5,102.7L473.5,101.1L475.5,96.7L477.6,96.1L479.6,95.6" stroke="#4474bc" stroke-width="0.5" fill="none" stroke-opacity="0.8" stroke-linejoin="round"/>
<path clip-path="url(#cb2)" d="M406.5,107.8L408.5,107.5L410.6,106.5L412.6,105.7L414.6,103.3L416.7,101.9L418.7,99.6L420.7,101.4L422.7,99.2L424.8,97.2L426.8,97.8L428.8,98.0L430.9,96.6L432.9,88.5L434.9,84.8L437.0,79.7L439.0,78.2L441.0,68.3L443.1,61.3L445.1,54.7L447.1,52.6L449.1,32.4L451.2,24.3L453.2,40.3L455.2,39.7L457.3,48.7L459.3,40.3L461.3,15.9L463.4,16.1L465.4,20.0L467.4,1.2L469.4,-1.8L471.5,11.5L473.5,-19.6L475.5,-9.7L477.6,-35.4L479.6,-47.4" stroke="#4474bc" stroke-width="0.5" fill="none" stroke-opacity="0.8" stroke-linejoin="round"/>
<path clip-path="url(#cb2)" d="M406.5,109.5L408.5,108.1L410.6,107.2L412.6,107.3L414.6,108.4L416.7,106.9L418.7,106.8L420.7,105.4L422.7,102.9L424.8,102.0L426.8,103.4L428.8,98.8L430.9,97.2L432.9,93.0L434.9,93.6L437.0,89.5L439.0,88.9L441.0,88.8L443.1,87.8L445.1,80.9L447.1,77.6L449.1,63.9L451.2,61.2L453.2,55.3L455.2,53.2L457.3,43.3L459.3,56.1L461.3,53.1L463.4,34.5L465.4,22.6L467.4,26.0L469.4,11.5L471.5,-13.8L473.5,-23.1L475.5,-6.0L477.6,-25.1L479.6,-42.4" stroke="#4474bc" stroke-width="0.5" fill="none" stroke-opacity="0.8" stroke-linejoin="round"/>
<path clip-path="url(#cb2)" d="M406.5,103.4L408.5,101.9L410.6,101.2L412.6,102.8L414.6,100.4L416.7,99.7L418.7,97.4L420.7,98.1L422.7,101.0L424.8,97.2L426.8,94.6L428.8,97.2L430.9,92.4L432.9,85.0L434.9,81.0L437.0,81.6L439.0,71.2L441.0,56.9L443.1,51.1L445.1,46.9L447.1,43.1L449.1,43.2L451.2,32.4L453.2,19.7L455.2,11.7L457.3,16.6L459.3,17.7L461.3,19.8L463.4,-4.7L465.4,-7.6L467.4,-15.8L469.4,-13.4L471.5,-19.3L473.5,-25.1L475.5,-5.3L477.6,-0.1L479.6,5.4" stroke="#4474bc" stroke-width="0.5" fill="none" stroke-opacity="0.8" stroke-linejoin="round"/>
<path clip-path="url(#cb2)" d="M406.5,111.9L408.5,113.1L410.6,112.6L412.6,112.9L414.6,113.0L416.7,112.1L418.7,111.8L420.7,111.1L422.7,111.6L424.8,109.9L426.8,110.4L428.8,110.9L430.9,111.2L432.9,110.5L434.9,110.0L437.0,109.9L439.0,110.0L441.0,110.2L443.1,110.0L445.1,109.5L447.1,109.3L449.1,109.2L451.2,108.2L453.2,107.9L455.2,108.1L457.3,107.8L459.3,106.6L461.3,106.8L463.4,106.6L465.4,108.1L467.4,107.9L469.4,107.8L471.5,105.6L473.5,104.1L475.5,102.5L477.6,104.7L479.6,104.7" stroke="#4474bc" stroke-width="0.5" fill="none" stroke-opacity="0.8" stroke-linejoin="round"/>
<path clip-path="url(#cb2)" d="M406.5,103.9L408.5,102.5L410.6,99.9L412.6,101.4L414.6,101.7L416.7,101.6L418.7,98.7L420.7,97.1L422.7,98.0L424.8,100.5L426.8,102.1L428.8,98.7L430.9,97.5L432.9,95.7L434.9,90.5L437.0,90.2L439.0,96.5L441.0,98.6L443.1,90.6L445.1,84.9L447.1,78.6L449.1,75.1L451.2,81.4L453.2,90.2L455.2,91.7L457.3,86.7L459.3,83.2L461.3,77.6L463.4,78.3L465.4,77.8L467.4,66.9L469.4,62.3L471.5,75.8L473.5,63.5L475.5,59.3L477.6,50.0L479.6,42.2" stroke="#4474bc" stroke-width="0.5" fill="none" stroke-opacity="0.8" stroke-linejoin="round"/>
<path clip-path="url(#cb2)" d="M406.5,109.6L408.5,108.9L410.6,108.9L412.6,108.7L414.6,109.4L416.7,108.9L418.7,109.1L420.7,109.0L422.7,108.1L424.8,108.0L426.8,108.0L428.8,107.6L430.9,109.0L432.9,108.8L434.9,110.8L437.0,109.6L439.0,108.7L441.0,107.9L443.1,108.8L445.1,107.4L447.1,107.5L449.1,107.8L451.2,104.8L453.2,102.9L455.2,102.2L457.3,101.4L459.3,99.1L461.3,98.7L463.4,95.2L465.4,93.7L467.4,94.4L469.4,92.4L471.5,93.3L473.5,93.1L475.5,91.2L477.6,92.2L479.6,96.0" stroke="#4474bc" stroke-width="0.5" fill="none" stroke-opacity="0.8" stroke-linejoin="round"/>
<path clip-path="url(#cb2)" d="M406.5,109.0L408.5,107.9L410.6,108.0L412.6,108.5L414.6,107.9L416.7,107.8L418.7,106.0L420.7,103.5L422.7,103.3L424.8,99.9L426.8,97.4L428.8,88.3L430.9,85.8L432.9,87.7L434.9,90.0L437.0,82.6L439.0,74.6L441.0,75.7L443.1,71.5L445.1,62.1L447.1,65.2L449.1,53.4L451.2,60.5L453.2,48.9L455.2,46.3L457.3,39.4L459.3,21.8L461.3,8.7L463.4,-6.2L465.4,0.2L467.4,-21.6L469.4,-9.6L471.5,5.9L473.5,-21.1L475.5,-35.6L477.6,-19.1L479.6,2.4" stroke="#4474bc" stroke-width="0.5" fill="none" stroke-opacity="0.8" stroke-linejoin="round"/>
<path clip-path="url(#cb2)" d="M406.5,109.5L408.5,109.7L410.6,108.4L412.6,108.3L414.6,107.7L416.7,107.5L418.7,104.1L420.7,101.9L422.7,100.4L424.8,97.9L426.8,95.9L428.8,92.4L430.9,95.7L432.9,86.9L434.9,79.8L437.0,83.1L439.0,73.2L441.0,71.8L443.1,64.9L445.1,68.6L447.1,59.0L449.1,51.6L451.2,51.6L453.2,56.0L455.2,46.0L457.3,59.6L459.3,41.1L461.3,32.3L463.4,34.6L465.4,48.5L467.4,32.0L469.4,29.2L471.5,29.0L473.5,10.4L475.5,1.6L477.6,6.3L479.6,-31.7" stroke="#4474bc" stroke-width="0.5" fill="none" stroke-opacity="0.8" stroke-linejoin="round"/>
<path clip-path="url(#cb2)" d="M406.5,110.9L408.5,109.7L410.6,109.2L412.6,108.3L414.6,108.0L416.7,106.6L418.7,102.9L420.7,101.6L422.7,99.9L424.8,99.6L426.8,96.6L428.8,96.3L430.9,97.1L432.9,98.8L434.9,95.2L437.0,85.2L439.0,84.9L441.0,78.0L443.1,74.5L445.1,74.5L447.1,67.4L449.1,60.5L451.2,62.3L453.2,62.3L455.2,51.1L457.3,51.4L459.3,49.8L461.3,60.3L463.4,53.6L465.4,49.9L467.4,39.2L469.4,36.2L471.5,32.3L473.5,32.8L475.5,30.3L477.6,34.5L479.6,32.0" stroke="#e8212b" stroke-width="0.55" fill="none" stroke-opacity="0.85" stroke-linejoin="round"/>
<path clip-path="url(#cb2)" d="M406.5,105.7L408.5,100.7L410.6,100.3L412.6,99.9L414.6,98.6L416.7,98.1L418.7,95.5L420.7,95.3L422.7,98.5L424.8,89.8L426.8,90.0L428.8,87.0L430.9,91.7L432.9,84.2L434.9,79.6L437.0,72.5L439.0,71.8L441.0,65.3L443.1,65.2L445.1,59.8L447.1,66.9L449.1,67.7L451.2,67.4L453.2,60.8L455.2,56.9L457.3,42.0L459.3,53.4L461.3,55.0L463.4,39.8L465.4,48.6L467.4,35.6L469.4,28.1L471.5,19.1L473.5,21.5L475.5,15.0L477.6,14.4L479.6,-11.0" stroke="#4474bc" stroke-width="0.5" fill="none" stroke-opacity="0.8" stroke-linejoin="round"/>
<path clip-path="url(#cb2)" d="M406.5,105.2L408.5,106.3L410.6,106.3L412.6,106.5L414.6,107.4L416.7,106.5L418.7,105.7L420.7,105.7L422.7,105.0L424.8,104.5L426.8,101.1L428.8,100.9L430.9,99.5L432.9,96.3L434.9,96.6L437.0,93.2L439.0,92.0L441.0,91.0L443.1,86.5L445.1,91.9L447.1,85.7L449.1,74.0L451.2,74.0L453.2,81.5L455.2,80.2L457.3,67.5L459.3,60.2L461.3,57.1L463.4,58.6L465.4,63.6L467.4,54.5L469.4,37.6L471.5,30.0L473.5,28.6L475.5,39.1L477.6,13.2L479.6,-26.3" stroke="#4474bc" stroke-width="0.5" fill="none" stroke-opacity="0.8" stroke-linejoin="round"/>
<path clip-path="url(#cb2)" d="M406.5,111.3L408.5,110.6L410.6,110.6L412.6,110.3L414.6,109.9L416.7,108.4L418.7,105.6L420.7,105.1L422.7,101.6L424.8,97.8L426.8,96.3L428.8,94.9L430.9,89.1L432.9,89.3L434.9,81.9L437.0,74.0L439.0,77.0L441.0,72.3L443.1,57.4L445.1,51.9L447.1,62.8L449.1,68.7L451.2,57.2L453.2,50.2L455.2,59.4L457.3,44.5L459.3,32.8L461.3,49.2L463.4,33.6L465.4,19.2L467.4,27.1L469.4,13.8L471.5,33.2L473.5,53.9L475.5,17.7L477.6,-10.8L479.6,-34.2" stroke="#4474bc" stroke-width="0.5" fill="none" stroke-opacity="0.8" stroke-linejoin="round"/>
<path clip-path="url(#cb2)" d="M406.5,106.8L408.5,108.5L410.6,109.4L412.6,109.0L414.6,107.3L416.7,106.6L418.7,104.7L420.7,102.9L422.7,104.7L424.8,103.9L426.8,99.5L428.8,101.1L430.9,93.1L432.9,89.2L434.9,86.8L437.0,87.6L439.0,84.8L441.0,89.4L443.1,89.8L445.1,86.5L447.1,75.8L449.1,74.6L451.2,78.4L453.2,73.1L455.2,65.2L457.3,74.2L459.3,64.1L461.3,64.3L463.4,62.6L465.4,50.9L467.4,39.9L469.4,25.8L471.5,33.5L473.5,28.5L475.5,28.2L477.6,42.6L479.6,32.1" stroke="#4474bc" stroke-width="0.5" fill="none" stroke-opacity="0.8" stroke-linejoin="round"/>
<path clip-path="url(#cb2)" d="M406.5,111.9L408.5,111.6L410.6,111.6L412.6,111.5L414.6,112.3L416.7,111.6L418.7,110.9L420.7,109.8L422.7,109.1L424.8,107.2L426.8,104.8L428.8,103.2L430.9,101.9L432.9,99.7L434.9,98.1L437.0,98.6L439.0,99.6L441.0,97.5L443.1,94.6L445.1,93.0L447.1,93.6L449.1,91.7L451.2,91.6L453.2,85.6L455.2,86.4L457.3,83.9L459.3,86.9L461.3,84.7L463.4,88.7L465.4,85.9L467.4,77.4L469.4,75.6L471.5,70.8L473.5,68.8L475.5,67.9L477.6,72.1L479.6,57.4" stroke="#4474bc" stroke-width="0.5" fill="none" stroke-opacity="0.8" stroke-linejoin="round"/>
<path clip-path="url(#cb2)" d="M406.5,104.1L408.5,103.2L410.6,102.1L412.6,103.3L414.6,102.3L416.7,102.9L418.7,101.3L420.7,101.3L422.7,100.7L424.8,99.3L426.8,98.7L428.8,90.9L430.9,94.1L432.9,92.1L434.9,82.4L437.0,74.6L439.0,76.0L441.0,64.8L443.1,68.2L445.1,59.5L447.1,50.6L449.1,32.5L451.2,34.3L453.2,37.8L455.2,32.2L457.3,18.1L459.3,35.6L461.3,0.4L463.4,-12.8L465.4,-4.6L467.4,-19.5L469.4,-0.8L471.5,-29.4L473.5,-52.1L475.5,-27.5L477.6,-18.4L479.6,-26.0" stroke="#4474bc" stroke-width="0.5" fill="none" stroke-opacity="0.8" stroke-linejoin="round"/>
<path clip-path="url(#cb2)" d="M406.5,105.5L408.5,107.5L410.6,106.7L412.6,108.2L414.6,107.3L416.7,105.4L418.7,104.9L420.7,105.0L422.7,106.0L424.8,105.5L426.8,103.9L428.8,101.9L430.9,102.5L432.9,103.7L434.9,103.1L437.0,102.0L439.0,104.0L441.0,104.4L443.1,98.1L445.1,99.8L447.1,99.7L449.1,99.5L451.2,102.0L453.2,98.9L455.2,97.7L457.3,95.0L459.3,96.1L461.3,95.0L463.4,94.0L465.4,91.6L467.4,90.5L469.4,90.0L471.5,93.7L473.5,91.2L475.5,90.8L477.6,90.3L479.6,88.5" stroke="#4474bc" stroke-width="0.5" fill="none" stroke-opacity="0.8" stroke-linejoin="round"/>
<path clip-path="url(#cb2)" d="M406.5,111.0L408.5,110.7L410.6,110.3L412.6,110.5L414.6,108.8L416.7,107.5L418.7,105.7L420.7,104.2L422.7,103.2L424.8,102.4L426.8,100.1L428.8,96.8L430.9,95.0L432.9,95.0L434.9,90.5L437.0,87.1L439.0,90.3L441.0,77.6L443.1,77.6L445.1,69.6L447.1,67.5L449.1,57.5L451.2,38.6L453.2,40.6L455.2,28.8L457.3,33.4L459.3,23.7L461.3,24.5L463.4,18.0L465.4,-6.9L467.4,-8.9L469.4,-2.0L471.5,-9.8L473.5,-2.0L475.5,-10.7L477.6,-18.6L479.6,-2.5" stroke="#4474bc" stroke-width="0.5" fill="none" stroke-opacity="0.8" stroke-linejoin="round"/>
<path clip-path="url(#cb2)" d="M406.5,105.8L408.5,105.5L410.6,104.3L412.6,102.4L414.6,97.5L416.7,94.6L418.7,92.8L420.7,88.7L422.7,94.2L424.8,94.0L426.8,92.6L428.8,77.7L430.9,67.4L432.9,58.3L434.9,55.2L437.0,54.9L439.0,63.3L441.0,43.3L443.1,39.0L445.1,38.2L447.1,49.9L449.1,54.9L451.2,38.7L453.2,30.6L455.2,30.7L457.3,32.2L459.3,23.4L461.3,12.6L463.4,-10.1L465.4,-14.7L467.4,-1.6L469.4,-7.9L471.5,-33.8L473.5,-36.0L475.5,-43.9L477.6,-61.8L479.6,-45.7" stroke="#4474bc" stroke-width="0.5" fill="none" stroke-opacity="0.8" stroke-linejoin="round"/>
<path clip-path="url(#cb2)" d="M406.5,109.2L408.5,108.8L410.6,110.4L412.6,109.5L414.6,107.9L416.7,107.4L418.7,105.9L420.7,105.6L422.7,106.3L424.8,102.7L426.8,101.2L428.8,102.2L430.9,103.1L432.9,104.3L434.9,102.6L437.0,101.8L439.0,102.0L441.0,101.2L443.1,97.6L445.1,98.3L447.1,100.2L449.1,99.6L451.2,99.8L453.2,102.0L455.2,96.4L457.3,93.8L459.3,95.1L461.3,87.8L463.4,83.9L465.4,86.9L467.4,81.7L469.4,84.2L471.5,78.1L473.5,83.1L475.5,76.1L477.6,75.7L479.6,70.1" stroke="#4474bc" stroke-width="0.5" fill="none" stroke-opacity="0.8" stroke-linejoin="round"/>
<path clip-path="url(#cb2)" d="M406.5,110.6L408.5,109.9L410.6,110.5L412.6,110.7L414.6,110.5L416.7,111.0L418.7,110.4L420.7,109.9L422.7,109.4L424.8,108.2L426.8,107.9L428.8,107.1L430.9,109.2L432.9,108.0L434.9,108.9L437.0,107.9L439.0,109.6L441.0,109.6L443.1,105.5L445.1,105.3L447.1,102.0L449.1,100.3L451.2,96.2L453.2,94.8L455.2,91.3L457.3,88.2L459.3,82.8L461.3,80.8L463.4,77.0L465.4,72.5L467.4,73.8L469.4,62.0L471.5,58.1L473.5,53.3L475.5,43.8L477.6,25.6L479.6,34.5" stroke="#4474bc" stroke-width="0.5" fill="none" stroke-opacity="0.8" stroke-linejoin="round"/>
<path clip-path="url(#cb2)" d="M406.5,103.7L408.5,106.8L410.6,104.4L412.6,106.0L414.6,105.4L416.7,105.0L418.7,103.5L420.7,102.9L422.7,99.4L424.8,100.4L426.8,100.5L428.8,100.7L430.9,96.7L432.9,96.9L434.9,95.1L437.0,98.6L439.0,95.1L441.0,90.2L443.1,91.5L445.1,88.9L447.1,90.2L449.1,89.2L451.2,84.0L453.2,75.6L455.2,75.5L457.3,75.1L459.3,72.7L461.3,74.2L463.4,77.2L465.4,76.7L467.4,83.2L469.4,94.6L471.5,94.7L473.5,105.3L475.5,95.7L477.6,100.9L479.6,99.9" stroke="#e8212b" stroke-width="0.55" fill="none" stroke-opacity="0.85" stroke-linejoin="round"/>
<path clip-path="url(#cb2)" d="M406.5,106.8L408.5,108.8L410.6,107.7L412.6,107.6L414.6,108.8L416.7,105.4L418.7,105.3L420.7,106.6L422.7,107.5L424.8,107.5L426.8,108.2L428.8,108.1L430.9,106.9L432.9,106.4L434.9,104.2L437.0,102.9L439.0,105.3L441.0,105.2L443.1,104.0L445.1,105.0L447.1,106.8L449.1,104.6L451.2,103.8L453.2,103.4L455.2,106.1L457.3,102.7L459.3,101.7L461.3,101.0L463.4,100.5L465.4,104.1L467.4,102.8L469.4,100.3L471.5,95.7L473.5,93.3L475.5,94.5L477.6,94.6L479.6,97.2" stroke="#4474bc" stroke-width="0.5" fill="none" stroke-opacity="0.8" stroke-linejoin="round"/>
<path clip-path="url(#cb2)" d="M406.5,102.9L408.5,99.7L410.6,96.4L412.6,92.0L414.6,90.2L416.7,88.8L418.7,84.1L420.7,85.3L422.7,83.5L424.8,83.7L426.8,79.3L428.8,78.9L430.9,75.6L432.9,78.5L434.9,79.7L437.0,75.3L439.0,67.7L441.0,65.7L443.1,68.3L445.1,57.4L447.1,50.8L449.1,43.7L451.2,46.0L453.2,48.5L455.2,41.6L457.3,35.7L459.3,15.5L461.3,24.6L463.4,17.4L465.4,33.6L467.4,32.4L469.4,18.3L471.5,21.4L473.5,6.3L475.5,-15.2L477.6,-20.1L479.6,-28.9" stroke="#e8212b" stroke-width="0.55" fill="none" stroke-opacity="0.85" stroke-linejoin="round"/>
<path clip-path="url(#cb2)" d="M406.5,108.6L408.5,109.0L410.6,107.1L412.6,107.5L414.6,108.8L416.7,108.8L418.7,109.1L420.7,109.5L422.7,111.6L424.8,112.8L426.8,112.8L428.8,112.8L430.9,111.1L432.9,109.1L434.9,112.2L437.0,112.8L439.0,111.0L441.0,110.0L443.1,110.0L445.1,108.0L447.1,106.0L449.1,106.6L451.2,108.8L453.2,109.0L455.2,108.8L457.3,107.9L459.3,106.8L461.3,103.3L463.4,102.4L465.4,102.3L467.4,101.3L469.4,99.1L471.5,99.7L473.5,97.3L475.5,94.9L477.6,97.1L479.6,94.6" stroke="#888" stroke-width="0.4" fill="none" stroke-opacity="0.6" stroke-linejoin="round"/>
<path clip-path="url(#cb2)" d="M406.5,111.0L408.5,109.9L410.6,109.8L412.6,108.5L414.6,108.5L416.7,107.8L418.7,103.4L420.7,101.2L422.7,100.2L424.8,95.3L426.8,93.6L428.8,89.0L430.9,88.6L432.9,84.1L434.9,77.7L437.0,72.9L439.0,70.4L441.0,70.5L443.1,78.7L445.1,73.4L447.1,70.1L449.1,52.5L451.2,58.0L453.2,50.4L455.2,47.0L457.3,50.3L459.3,30.7L461.3,23.5L463.4,13.6L465.4,7.8L467.4,-10.8L469.4,-8.0L471.5,4.9L473.5,-43.2L475.5,-45.4L477.6,-47.9L479.6,-32.3" stroke="#4474bc" stroke-width="0.5" fill="none" stroke-opacity="0.8" stroke-linejoin="round"/>
<path clip-path="url(#cb2)" d="M406.5,104.1L408.5,104.3L410.6,106.4L412.6,104.3L414.6,106.5L416.7,105.5L418.7,104.8L420.7,102.6L422.7,101.0L424.8,99.3L426.8,99.5L428.8,95.6L430.9,97.9L432.9,97.5L434.9,94.5L437.0,86.6L439.0,81.7L441.0,77.3L443.1,75.0L445.1,70.2L447.1,66.0L449.1,67.4L451.2,58.0L453.2,64.0L455.2,54.1L457.3,47.4L459.3,57.3L461.3,56.6L463.4,54.0L465.4,59.7L467.4,55.2L469.4,54.6L471.5,51.5L473.5,27.0L475.5,23.3L477.6,-0.4L479.6,27.4" stroke="#4474bc" stroke-width="0.5" fill="none" stroke-opacity="0.8" stroke-linejoin="round"/>
<path clip-path="url(#cb2)" d="M406.5,103.7L408.5,104.6L410.6,104.0L412.6,103.4L414.6,103.0L416.7,104.8L418.7,105.2L420.7,103.3L422.7,101.4L424.8,101.3L426.8,98.4L428.8,100.3L430.9,98.2L432.9,100.7L434.9,97.8L437.0,94.8L439.0,94.6L441.0,91.8L443.1,90.9L445.1,86.9L447.1,84.8L449.1,86.5L451.2,87.8L453.2,86.9L455.2,86.3L457.3,80.6L459.3,84.7L461.3,76.7L463.4,77.1L465.4,74.8L467.4,67.4L469.4,72.3L471.5,67.5L473.5,63.5L475.5,47.8L477.6,29.5L479.6,47.1" stroke="#4474bc" stroke-width="0.5" fill="none" stroke-opacity="0.8" stroke-linejoin="round"/>
<path clip-path="url(#cb2)" d="M406.5,102.6L408.5,105.9L410.6,104.7L412.6,103.6L414.6,101.4L416.7,103.3L418.7,103.6L420.7,99.5L422.7,94.9L424.8,97.2L426.8,97.3L428.8,93.2L430.9,85.6L432.9,79.9L434.9,86.1L437.0,87.6L439.0,82.6L441.0,87.2L443.1,82.9L445.1,73.5L447.1,64.6L449.1,57.5L451.2,60.5L453.2,52.1L455.2,46.7L457.3,39.2L459.3,27.3L461.3,6.8L463.4,15.2L465.4,27.0L467.4,21.1L469.4,30.9L471.5,31.2L473.5,8.2L475.5,-32.4L477.6,-33.2L479.6,-25.2" stroke="#4474bc" stroke-width="0.5" fill="none" stroke-opacity="0.8" stroke-linejoin="round"/>
<path clip-path="url(#cb2)" d="M406.5,110.2L408.5,110.1L410.6,109.5L412.6,107.8L414.6,107.8L416.7,107.0L418.7,106.4L420.7,106.4L422.7,105.0L424.8,104.1L426.8,104.0L428.8,102.1L430.9,99.4L432.9,99.0L434.9,96.6L437.0,94.3L439.0,95.5L441.0,93.6L443.1,89.6L445.1,87.9L447.1,84.8L449.1,82.3L451.2,75.8L453.2,71.7L455.2,62.6L457.3,65.3L459.3,66.2L461.3,65.8L463.4,58.2L465.4,43.4L467.4,44.3L469.4,45.4L471.5,75.9L473.5,47.1L475.5,65.6L477.6,36.2L479.6,50.7" stroke="#4474bc" stroke-width="0.5" fill="none" stroke-opacity="0.8" stroke-linejoin="round"/>
<path clip-path="url(#cb2)" d="M406.5,107.6L408.5,107.0L410.6,105.9L412.6,106.2L414.6,103.8L416.7,105.6L418.7,102.3L420.7,99.3L422.7,99.1L424.8,99.4L426.8,100.9L428.8,98.7L430.9,96.4L432.9,92.3L434.9,87.8L437.0,86.9L439.0,86.7L441.0,91.0L443.1,87.0L445.1,76.0L447.1,75.9L449.1,72.5L451.2,74.2L453.2,62.0L455.2,62.6L457.3,53.8L459.3,47.4L461.3,54.8L463.4,66.1L465.4,72.9L467.4,62.4L469.4,59.0L471.5,48.8L473.5,46.0L475.5,41.5L477.6,47.9L479.6,48.2" stroke="#4474bc" stroke-width="0.5" fill="none" stroke-opacity="0.8" stroke-linejoin="round"/>
<path clip-path="url(#cb2)" d="M406.5,104.0L408.5,104.4L410.6,104.7L412.6,104.4L414.6,103.1L416.7,101.2L418.7,98.0L420.7,94.4L422.7,90.9L424.8,87.3L426.8,84.9L428.8,86.6L430.9,76.1L432.9,66.1L434.9,60.8L437.0,43.2L439.0,50.6L441.0,50.3L443.1,30.9L445.1,9.4L447.1,-29.8L449.1,-41.0L451.2,-76.2L453.2,-86.8L455.2,-93.3L457.3,-112.2L459.3,-64.1L461.3,-53.6L463.4,-41.3L465.4,-107.9L467.4,-147.7L469.4,-274.1L471.5,-311.0L473.5,-352.5L475.5,-307.4L477.6,-282.7L479.6,-268.9" stroke="#e8212b" stroke-width="0.55" fill="none" stroke-opacity="0.85" stroke-linejoin="round"/>
<path clip-path="url(#cb2)" d="M406.5,107.8L408.5,107.0L410.6,106.3L412.6,107.8L414.6,105.8L416.7,104.5L418.7,102.2L420.7,100.5L422.7,95.5L424.8,90.3L426.8,91.0L428.8,89.9L430.9,82.1L432.9,77.6L434.9,78.4L437.0,69.6L439.0,59.7L441.0,52.6L443.1,56.6L445.1,54.9L447.1,39.2L449.1,31.1L451.2,40.2L453.2,30.6L455.2,30.1L457.3,22.1L459.3,15.6L461.3,2.6L463.4,-16.6L465.4,-33.5L467.4,-38.4L469.4,-47.5L471.5,-26.8L473.5,-48.5L475.5,-14.3L477.6,-11.5L479.6,-36.3" stroke="#4474bc" stroke-width="0.5" fill="none" stroke-opacity="0.8" stroke-linejoin="round"/>
<path clip-path="url(#cb2)" d="M406.5,105.1L408.5,106.0L410.6,105.9L412.6,105.6L414.6,105.9L416.7,105.1L418.7,103.4L420.7,104.4L422.7,100.6L424.8,99.9L426.8,99.5L428.8,96.4L430.9,92.4L432.9,88.8L434.9,84.1L437.0,77.5L439.0,74.5L441.0,77.9L443.1,81.6L445.1,71.6L447.1,70.5L449.1,55.1L451.2,40.4L453.2,47.8L455.2,55.3L457.3,44.4L459.3,31.8L461.3,16.7L463.4,6.5L465.4,31.0L467.4,34.0L469.4,3.0L471.5,-15.4L473.5,-7.8L475.5,-14.2L477.6,-29.8L479.6,-27.4" stroke="#4474bc" stroke-width="0.5" fill="none" stroke-opacity="0.8" stroke-linejoin="round"/>
<path clip-path="url(#cb2)" d="M406.5,109.7L408.5,109.4L410.6,109.0L412.6,109.2L414.6,108.8L416.7,108.5L418.7,108.9L420.7,107.5L422.7,106.1L424.8,105.2L426.8,104.2L428.8,104.4L430.9,103.8L432.9,104.6L434.9,105.2L437.0,106.1L439.0,104.0L441.0,102.2L443.1,99.2L445.1,98.4L447.1,94.7L449.1,94.1L451.2,89.8L453.2,84.3L455.2,83.0L457.3,80.6L459.3,85.3L461.3,83.2L463.4,79.2L465.4,71.4L467.4,65.2L469.4,66.1L471.5,57.1L473.5,57.7L475.5,56.7L477.6,55.7L479.6,62.0" stroke="#e8212b" stroke-width="0.55" fill="none" stroke-opacity="0.85" stroke-linejoin="round"/>
<path clip-path="url(#cb2)" d="M406.5,102.7L408.5,100.6L410.6,102.5L412.6,102.9L414.6,106.9L416.7,107.6L418.7,107.3L420.7,105.1L422.7,102.6L424.8,103.9L426.8,103.1L428.8,97.2L430.9,93.9L432.9,93.3L434.9,93.3L437.0,87.9L439.0,89.4L441.0,91.3L443.1,92.4L445.1,92.0L447.1,89.8L449.1,92.8L451.2,89.0L453.2,86.1L455.2,81.7L457.3,72.5L459.3,68.7L461.3,66.2L463.4,64.2L465.4,62.4L467.4,67.6L469.4,48.7L471.5,49.1L473.5,36.2L475.5,36.9L477.6,32.7L479.6,39.3" stroke="#e8212b" stroke-width="0.55" fill="none" stroke-opacity="0.85" stroke-linejoin="round"/>
<path clip-path="url(#cb2)" d="M406.5,109.0L408.5,108.9L410.6,107.9L412.6,106.9L414.6,105.1L416.7,104.8L418.7,102.7L420.7,102.1L422.7,98.1L424.8,96.2L426.8,95.4L428.8,93.0L430.9,94.1L432.9,88.7L434.9,84.4L437.0,85.3L439.0,84.4L441.0,83.3L443.1,83.2L445.1,73.1L447.1,68.3L449.1,64.7L451.2,55.5L453.2,53.1L455.2,63.5L457.3,62.7L459.3,65.0L461.3,52.4L463.4,57.3L465.4,57.7L467.4,49.6L469.4,42.2L471.5,29.1L473.5,38.7L475.5,39.4L477.6,49.0L479.6,42.4" stroke="#4474bc" stroke-width="0.5" fill="none" stroke-opacity="0.8" stroke-linejoin="round"/>
<path clip-path="url(#cb2)" d="M406.5,101.7L408.5,103.1L410.6,104.0L412.6,106.1L414.6,106.3L416.7,103.9L418.7,104.3L420.7,105.4L422.7,105.0L424.8,104.7L426.8,106.6L428.8,101.9L430.9,103.1L432.9,102.1L434.9,100.8L437.0,98.6L439.0,98.7L441.0,96.1L443.1,97.2L445.1,93.8L447.1,93.5L449.1,92.4L451.2,92.7L453.2,88.0L455.2,89.8L457.3,91.6L459.3,86.1L461.3,78.9L463.4,71.1L465.4,78.8L467.4,67.0L469.4,66.1L471.5,70.7L473.5,68.2L475.5,72.3L477.6,69.0L479.6,63.1" stroke="#4474bc" stroke-width="0.5" fill="none" stroke-opacity="0.8" stroke-linejoin="round"/>
<path clip-path="url(#cb2)" d="M406.5,108.8L408.5,108.9L410.6,107.2L412.6,104.9L414.6,102.6L416.7,100.0L418.7,98.2L420.7,97.1L422.7,95.3L424.8,91.7L426.8,87.5L428.8,86.3L430.9,85.4L432.9,82.0L434.9,81.9L437.0,67.8L439.0,83.9L441.0,64.6L443.1,70.4L445.1,59.8L447.1,57.0L449.1,44.9L451.2,44.8L453.2,43.9L455.2,44.9L457.3,47.4L459.3,44.4L461.3,15.7L463.4,-6.4L465.4,-17.4L467.4,5.3L469.4,32.8L471.5,6.6L473.5,9.9L475.5,9.0L477.6,-3.4L479.6,26.6" stroke="#4474bc" stroke-width="0.5" fill="none" stroke-opacity="0.8" stroke-linejoin="round"/>
<path clip-path="url(#cb2)" d="M406.5,109.4L408.5,108.2L410.6,109.1L412.6,108.8L414.6,109.2L416.7,110.0L418.7,108.4L420.7,106.6L422.7,106.4L424.8,107.3L426.8,103.2L428.8,101.2L430.9,98.7L432.9,98.7L434.9,97.5L437.0,96.4L439.0,92.6L441.0,90.9L443.1,90.0L445.1,91.8L447.1,89.9L449.1,84.9L451.2,78.6L453.2,78.7L455.2,76.7L457.3,70.3L459.3,75.2L461.3,73.4L463.4,74.0L465.4,59.1L467.4,60.8L469.4,44.2L471.5,48.1L473.5,46.8L475.5,36.5L477.6,47.1L479.6,55.3" stroke="#4474bc" stroke-width="0.5" fill="none" stroke-opacity="0.8" stroke-linejoin="round"/>
<path clip-path="url(#cb2)" d="M406.5,106.9L408.5,106.1L410.6,105.3L412.6,105.5L414.6,105.0L416.7,106.9L418.7,103.8L420.7,102.4L422.7,102.7L424.8,103.7L426.8,103.4L428.8,102.1L430.9,104.2L432.9,102.7L434.9,101.9L437.0,103.4L439.0,95.8L441.0,91.0L443.1,89.9L445.1,85.8L447.1,87.4L449.1,88.9L451.2,84.7L453.2,89.7L455.2,88.9L457.3,84.4L459.3,77.8L461.3,75.5L463.4,77.7L465.4,86.2L467.4,79.7L469.4,77.1L471.5,71.2L473.5,74.5L475.5,76.5L477.6,68.6L479.6,71.1" stroke="#4474bc" stroke-width="0.5" fill="none" stroke-opacity="0.8" stroke-linejoin="round"/>
<path clip-path="url(#cb2)" d="M406.5,105.2L408.5,105.7L410.6,105.6L412.6,104.6L414.6,105.1L416.7,103.3L418.7,102.3L420.7,99.1L422.7,99.1L424.8,98.3L426.8,98.0L428.8,94.4L430.9,96.4L432.9,97.7L434.9,90.9L437.0,96.3L439.0,91.8L441.0,83.3L443.1,79.2L445.1,69.7L447.1,66.1L449.1,65.2L451.2,62.8L453.2,70.7L455.2,63.3L457.3,60.2L459.3,51.6L461.3,38.9L463.4,33.1L465.4,12.5L467.4,8.7L469.4,6.8L471.5,7.3L473.5,-24.3L475.5,-19.9L477.6,-7.1L479.6,-11.0" stroke="#4474bc" stroke-width="0.5" fill="none" stroke-opacity="0.8" stroke-linejoin="round"/>
<path clip-path="url(#cb2)" d="M406.5,106.0L408.5,101.7L410.6,102.2L412.6,103.9L414.6,103.2L416.7,105.4L418.7,106.6L420.7,105.7L422.7,104.2L424.8,107.1L426.8,102.9L428.8,103.3L430.9,101.5L432.9,101.3L434.9,99.3L437.0,93.2L439.0,91.3L441.0,84.6L443.1,81.7L445.1,80.0L447.1,85.0L449.1,85.9L451.2,85.1L453.2,79.1L455.2,83.9L457.3,87.3L459.3,75.5L461.3,74.1L463.4,72.9L465.4,61.0L467.4,52.7L469.4,58.1L471.5,48.8L473.5,46.7L475.5,50.1L477.6,47.8L479.6,35.8" stroke="#4474bc" stroke-width="0.5" fill="none" stroke-opacity="0.8" stroke-linejoin="round"/>
<path clip-path="url(#cb2)" d="M406.5,107.4L408.5,108.4L410.6,107.7L412.6,108.5L414.6,106.9L416.7,105.2L418.7,104.5L420.7,102.7L422.7,102.3L424.8,102.5L426.8,103.8L428.8,104.6L430.9,102.6L432.9,101.9L434.9,98.3L437.0,99.1L439.0,99.9L441.0,99.5L443.1,97.4L445.1,95.9L447.1,93.5L449.1,97.1L451.2,94.7L453.2,92.6L455.2,89.6L457.3,93.5L459.3,94.9L461.3,88.0L463.4,86.2L465.4,82.0L467.4,80.6L469.4,84.4L471.5,81.5L473.5,77.6L475.5,78.7L477.6,84.1L479.6,80.0" stroke="#4474bc" stroke-width="0.5" fill="none" stroke-opacity="0.8" stroke-linejoin="round"/>
<path clip-path="url(#cb2)" d="M406.5,101.6L408.5,100.9L410.6,100.2L412.6,100.5L414.6,100.7L416.7,99.0L418.7,98.8L420.7,94.7L422.7,96.6L424.8,93.4L426.8,93.1L428.8,90.0L430.9,87.8L432.9,86.3L434.9,85.8L437.0,86.0L439.0,86.9L441.0,85.4L443.1,86.2L445.1,87.7L447.1,85.6L449.1,81.4L451.2,79.2L453.2,82.8L455.2,80.8L457.3,79.1L459.3,80.1L461.3,82.4L463.4,76.4L465.4,79.5L467.4,75.7L469.4,79.3L471.5,80.3L473.5,73.2L475.5,67.3L477.6,60.1L479.6,64.3" stroke="#e8212b" stroke-width="0.55" fill="none" stroke-opacity="0.85" stroke-linejoin="round"/>
<path clip-path="url(#cb2)" d="M406.5,109.1L408.5,109.7L410.6,109.1L412.6,108.3L414.6,107.7L416.7,107.8L418.7,107.3L420.7,106.3L422.7,106.0L424.8,102.4L426.8,100.7L428.8,100.6L430.9,103.1L432.9,103.6L434.9,102.4L437.0,102.6L439.0,102.9L441.0,101.3L443.1,98.2L445.1,95.3L447.1,94.9L449.1,90.8L451.2,89.1L453.2,89.2L455.2,84.3L457.3,81.0L459.3,77.7L461.3,78.7L463.4,75.6L465.4,73.3L467.4,74.9L469.4,70.3L471.5,79.9L473.5,84.4L475.5,84.6L477.6,74.0L479.6,81.1" stroke="#e8212b" stroke-width="0.55" fill="none" stroke-opacity="0.85" stroke-linejoin="round"/>
<path clip-path="url(#cb2)" d="M406.5,105.6L408.5,105.5L410.6,106.4L412.6,107.0L414.6,105.9L416.7,106.4L418.7,107.5L420.7,109.7L422.7,108.0L424.8,107.3L426.8,106.6L428.8,107.6L430.9,107.3L432.9,108.5L434.9,107.7L437.0,107.9L439.0,106.1L441.0,105.6L443.1,103.8L445.1,104.9L447.1,102.9L449.1,103.0L451.2,101.3L453.2,102.2L455.2,102.8L457.3,99.6L459.3,98.6L461.3,99.6L463.4,96.3L465.4,94.2L467.4,94.6L469.4,100.1L471.5,96.0L473.5,92.6L475.5,95.6L477.6,98.5L479.6,96.2" stroke="#4474bc" stroke-width="0.5" fill="none" stroke-opacity="0.8" stroke-linejoin="round"/>
<path clip-path="url(#cb2)" d="M406.5,107.9L408.5,108.2L410.6,107.7L412.6,108.4L414.6,107.9L416.7,106.4L418.7,104.8L420.7,104.8L422.7,104.5L424.8,106.0L426.8,103.3L428.8,104.3L430.9,101.0L432.9,99.5L434.9,101.5L437.0,99.8L439.0,96.0L441.0,90.9L443.1,91.6L445.1,87.6L447.1,81.8L449.1,79.5L451.2,88.9L453.2,83.3L455.2,85.3L457.3,82.7L459.3,83.9L461.3,75.4L463.4,80.9L465.4,75.6L467.4,68.4L469.4,64.1L471.5,56.9L473.5,48.1L475.5,53.0L477.6,46.2L479.6,58.1" stroke="#4474bc" stroke-width="0.5" fill="none" stroke-opacity="0.8" stroke-linejoin="round"/>
<path clip-path="url(#cb2)" d="M406.5,101.1L408.5,101.0L410.6,103.1L412.6,103.5L414.6,103.2L416.7,105.2L418.7,107.5L420.7,104.3L422.7,103.2L424.8,101.9L426.8,102.3L428.8,94.7L430.9,82.6L432.9,78.7L434.9,75.0L437.0,73.8L439.0,63.6L441.0,75.2L443.1,79.7L445.1,63.8L447.1,69.0L449.1,64.2L451.2,66.4L453.2,34.1L455.2,17.8L457.3,27.7L459.3,23.3L461.3,11.7L463.4,-1.4L465.4,18.0L467.4,11.7L469.4,-39.4L471.5,-69.9L473.5,-91.9L475.5,-88.3L477.6,-67.1L479.6,-93.6" stroke="#4474bc" stroke-width="0.5" fill="none" stroke-opacity="0.8" stroke-linejoin="round"/>
<path clip-path="url(#cb2)" d="M406.5,107.3L408.5,108.1L410.6,107.7L412.6,105.2L414.6,102.8L416.7,103.8L418.7,102.7L420.7,100.6L422.7,98.8L424.8,94.3L426.8,95.2L428.8,91.2L430.9,97.8L432.9,89.8L434.9,84.9L437.0,83.4L439.0,80.0L441.0,82.5L443.1,74.3L445.1,68.0L447.1,70.8L449.1,67.7L451.2,60.7L453.2,69.1L455.2,63.2L457.3,57.2L459.3,54.2L461.3,36.3L463.4,16.5L465.4,29.2L467.4,27.0L469.4,21.3L471.5,10.1L473.5,-4.0L475.5,-6.7L477.6,-6.5L479.6,-17.5" stroke="#e8212b" stroke-width="0.55" fill="none" stroke-opacity="0.85" stroke-linejoin="round"/>
<path clip-path="url(#cb2)" d="M406.5,108.2L408.5,107.7L410.6,108.3L412.6,106.2L414.6,107.0L416.7,108.2L418.7,105.9L420.7,101.5L422.7,98.4L424.8,97.9L426.8,94.8L428.8,92.0L430.9,93.7L432.9,97.1L434.9,99.8L437.0,97.8L439.0,92.5L441.0,91.4L443.1,93.0L445.1,90.6L447.1,91.4L449.1,90.5L451.2,97.5L453.2,92.4L455.2,86.4L457.3,88.3L459.3,82.3L461.3,76.0L463.4,70.8L465.4,63.1L467.4,54.2L469.4,39.0L471.5,13.9L473.5,34.3L475.5,23.6L477.6,34.4L479.6,21.4" stroke="#4474bc" stroke-width="0.5" fill="none" stroke-opacity="0.8" stroke-linejoin="round"/>
<path clip-path="url(#cb2)" d="M406.5,103.0L408.5,103.4L410.6,103.9L412.6,102.7L414.6,101.6L416.7,99.5L418.7,98.8L420.7,94.3L422.7,93.1L424.8,92.3L426.8,87.9L428.8,88.0L430.9,85.3L432.9,81.5L434.9,76.8L437.0,80.6L439.0,79.6L441.0,70.1L443.1,76.5L445.1,70.9L447.1,64.8L449.1,66.2L451.2,62.8L453.2,42.5L455.2,33.7L457.3,26.5L459.3,5.5L461.3,-6.3L463.4,-3.3L465.4,-23.7L467.4,-27.0L469.4,-24.9L471.5,-14.8L473.5,-17.7L475.5,-25.9L477.6,-6.0L479.6,-48.8" stroke="#4474bc" stroke-width="0.5" fill="none" stroke-opacity="0.8" stroke-linejoin="round"/>
<path clip-path="url(#cb2)" d="M406.5,110.7L408.5,110.0L410.6,108.9L412.6,109.5L414.6,108.8L416.7,107.2L418.7,109.0L420.7,109.5L422.7,108.5L424.8,109.0L426.8,107.5L428.8,108.4L430.9,106.2L432.9,108.2L434.9,108.6L437.0,106.4L439.0,109.2L441.0,107.0L443.1,109.3L445.1,112.7L447.1,112.8L449.1,109.5L451.2,109.2L453.2,110.4L455.2,111.8L457.3,109.4L459.3,107.4L461.3,103.0L463.4,102.7L465.4,102.7L467.4,101.2L469.4,98.7L471.5,99.0L473.5,97.8L475.5,96.4L477.6,95.1L479.6,93.9" stroke="#888" stroke-width="0.4" fill="none" stroke-opacity="0.6" stroke-linejoin="round"/>
<path clip-path="url(#cb2)" d="M406.5,105.8L408.5,105.5L410.6,106.9L412.6,105.0L414.6,104.4L416.7,103.9L418.7,104.3L420.7,103.8L422.7,102.4L424.8,103.3L426.8,102.3L428.8,101.6L430.9,99.7L432.9,102.0L434.9,102.7L437.0,101.9L439.0,101.2L441.0,102.6L443.1,103.1L445.1,99.0L447.1,99.8L449.1,97.7L451.2,97.0L453.2,93.8L455.2,94.4L457.3,95.2L459.3,91.0L461.3,94.8L463.4,96.8L465.4,96.7L467.4,96.3L469.4,95.7L471.5,92.3L473.5,92.3L475.5,87.5L477.6,86.9L479.6,85.6" stroke="#4474bc" stroke-width="0.5" fill="none" stroke-opacity="0.8" stroke-linejoin="round"/>
<path clip-path="url(#cb2)" d="M406.5,106.4L408.5,106.5L410.6,106.3L412.6,106.2L414.6,104.9L416.7,102.6L418.7,102.9L420.7,103.0L422.7,103.5L424.8,102.8L426.8,107.1L428.8,106.7L430.9,106.2L432.9,107.0L434.9,104.0L437.0,104.0L439.0,101.8L441.0,99.5L443.1,95.3L445.1,97.6L447.1,95.9L449.1,92.5L451.2,88.0L453.2,87.9L455.2,83.8L457.3,85.0L459.3,84.7L461.3,79.3L463.4,78.1L465.4,81.6L467.4,74.9L469.4,77.9L471.5,79.3L473.5,68.2L475.5,64.4L477.6,69.3L479.6,66.0" stroke="#e8212b" stroke-width="0.55" fill="none" stroke-opacity="0.85" stroke-linejoin="round"/>
<path clip-path="url(#cb2)" d="M406.5,103.2L408.5,104.8L410.6,106.1L412.6,104.7L414.6,105.1L416.7,106.4L418.7,106.6L420.7,107.7L422.7,104.3L424.8,105.7L426.8,104.9L428.8,102.9L430.9,102.5L432.9,102.3L434.9,102.4L437.0,102.6L439.0,102.8L441.0,104.9L443.1,104.2L445.1,100.3L447.1,99.2L449.1,97.9L451.2,97.0L453.2,97.7L455.2,95.4L457.3,96.6L459.3,99.6L461.3,99.5L463.4,98.2L465.4,95.7L467.4,97.5L469.4,96.3L471.5,95.6L473.5,91.3L475.5,93.7L477.6,96.3L479.6,93.5" stroke="#4474bc" stroke-width="0.5" fill="none" stroke-opacity="0.8" stroke-linejoin="round"/>
<path clip-path="url(#cb2)" d="M406.5,105.7L408.5,105.0L410.6,103.4L412.6,102.0L414.6,100.6L416.7,102.2L418.7,102.4L420.7,98.6L422.7,96.8L424.8,94.7L426.8,94.8L428.8,94.1L430.9,95.8L432.9,82.1L434.9,66.5L437.0,75.3L439.0,76.3L441.0,73.6L443.1,61.7L445.1,63.9L447.1,56.7L449.1,55.6L451.2,47.2L453.2,46.0L455.2,36.3L457.3,33.4L459.3,20.1L461.3,9.0L463.4,17.3L465.4,-18.4L467.4,-22.8L469.4,-77.9L471.5,-31.0L473.5,-13.3L475.5,-38.5L477.6,-62.3L479.6,-95.7" stroke="#4474bc" stroke-width="0.5" fill="none" stroke-opacity="0.8" stroke-linejoin="round"/>
<path clip-path="url(#cb2)" d="M406.5,108.8L408.5,107.8L410.6,107.2L412.6,105.4L414.6,105.0L416.7,103.1L418.7,100.7L420.7,102.2L422.7,102.1L424.8,104.3L426.8,100.7L428.8,98.9L430.9,94.9L432.9,94.2L434.9,93.1L437.0,92.4L439.0,83.9L441.0,86.2L443.1,82.7L445.1,87.3L447.1,89.7L449.1,80.2L451.2,72.4L453.2,71.4L455.2,74.6L457.3,76.4L459.3,75.8L461.3,73.6L463.4,64.2L465.4,70.9L467.4,74.8L469.4,65.5L471.5,58.3L473.5,70.4L475.5,68.8L477.6,58.0L479.6,49.1" stroke="#4474bc" stroke-width="0.5" fill="none" stroke-opacity="0.8" stroke-linejoin="round"/>
<path clip-path="url(#cb2)" d="M406.5,111.8L408.5,112.1L410.6,111.3L412.6,110.4L414.6,108.8L416.7,107.0L418.7,104.3L420.7,104.4L422.7,103.9L424.8,99.3L426.8,98.4L428.8,95.8L430.9,96.3L432.9,95.7L434.9,92.2L437.0,90.2L439.0,94.3L441.0,88.7L443.1,82.1L445.1,84.2L447.1,84.5L449.1,80.5L451.2,77.9L453.2,73.7L455.2,68.4L457.3,51.5L459.3,61.2L461.3,65.9L463.4,62.9L465.4,43.9L467.4,29.3L469.4,23.2L471.5,13.4L473.5,-1.8L475.5,-10.6L477.6,-16.5L479.6,4.1" stroke="#4474bc" stroke-width="0.5" fill="none" stroke-opacity="0.8" stroke-linejoin="round"/>
<path clip-path="url(#cb2)" d="M406.5,106.3L408.5,106.2L410.6,105.3L412.6,105.1L414.6,103.5L416.7,105.5L418.7,105.2L420.7,104.5L422.7,103.3L424.8,103.7L426.8,103.5L428.8,104.1L430.9,105.4L432.9,104.0L434.9,99.9L437.0,102.0L439.0,101.5L441.0,102.6L443.1,102.5L445.1,101.3L447.1,100.6L449.1,100.5L451.2,104.9L453.2,105.2L455.2,103.1L457.3,102.0L459.3,100.6L461.3,99.2L463.4,101.8L465.4,101.1L467.4,98.0L469.4,96.4L471.5,97.0L473.5,96.3L475.5,93.7L477.6,94.0L479.6,97.1" stroke="#4474bc" stroke-width="0.5" fill="none" stroke-opacity="0.8" stroke-linejoin="round"/>
<path clip-path="url(#cb2)" d="M406.5,104.9L408.5,104.6L410.6,105.3L412.6,103.5L414.6,102.2L416.7,100.4L418.7,100.4L420.7,100.2L422.7,98.7L424.8,98.7L426.8,99.7L428.8,99.7L430.9,99.0L432.9,96.4L434.9,97.5L437.0,95.1L439.0,95.3L441.0,94.1L443.1,96.3L445.1,99.4L447.1,93.9L449.1,86.6L451.2,78.9L453.2,78.7L455.2,76.6L457.3,77.1L459.3,69.0L461.3,67.7L463.4,72.9L465.4,79.0L467.4,68.8L469.4,59.0L471.5,48.9L473.5,54.9L475.5,72.5L477.6,66.5L479.6,58.5" stroke="#4474bc" stroke-width="0.5" fill="none" stroke-opacity="0.8" stroke-linejoin="round"/>
<path clip-path="url(#cb2)" d="M406.5,102.6L408.5,99.7L410.6,97.9L412.6,97.1L414.6,96.0L416.7,92.8L418.7,89.1L420.7,89.5L422.7,89.4L424.8,85.5L426.8,88.2L428.8,83.2L430.9,84.6L432.9,87.0L434.9,87.6L437.0,83.8L439.0,82.9L441.0,74.1L443.1,76.8L445.1,75.3L447.1,79.6L449.1,68.9L451.2,71.2L453.2,71.4L455.2,62.0L457.3,59.9L459.3,56.9L461.3,61.6L463.4,64.6L465.4,55.7L467.4,65.6L469.4,58.1L471.5,53.1L473.5,41.4L475.5,32.1L477.6,9.8L479.6,4.1" stroke="#e8212b" stroke-width="0.55" fill="none" stroke-opacity="0.85" stroke-linejoin="round"/>
<path clip-path="url(#cb2)" d="M406.5,109.4L408.5,109.1L410.6,109.3L412.6,109.9L414.6,110.1L416.7,109.5L418.7,108.8L420.7,108.6L422.7,108.1L424.8,108.5L426.8,106.0L428.8,103.2L430.9,103.8L432.9,101.5L434.9,100.5L437.0,99.7L439.0,99.6L441.0,99.3L443.1,96.7L445.1,93.4L447.1,88.0L449.1,86.9L451.2,89.5L453.2,88.6L455.2,87.4L457.3,88.6L459.3,84.5L461.3,85.6L463.4,85.2L465.4,80.0L467.4,84.4L469.4,82.7L471.5,79.5L473.5,77.2L475.5,69.1L477.6,57.8L479.6,46.6" stroke="#4474bc" stroke-width="0.5" fill="none" stroke-opacity="0.8" stroke-linejoin="round"/>
<path clip-path="url(#cb2)" d="M406.5,105.1L408.5,106.1L410.6,104.8L412.6,105.5L414.6,104.5L416.7,102.6L418.7,102.1L420.7,99.1L422.7,97.3L424.8,93.2L426.8,94.3L428.8,97.0L430.9,93.9L432.9,92.5L434.9,91.6L437.0,88.2L439.0,84.3L441.0,82.4L443.1,69.5L445.1,66.0L447.1,55.7L449.1,55.6L451.2,69.3L453.2,64.2L455.2,51.7L457.3,32.1L459.3,33.1L461.3,26.4L463.4,25.9L465.4,7.4L467.4,-0.3L469.4,15.9L471.5,28.6L473.5,35.5L475.5,38.6L477.6,25.3L479.6,25.7" stroke="#4474bc" stroke-width="0.5" fill="none" stroke-opacity="0.8" stroke-linejoin="round"/>
<path clip-path="url(#cb2)" d="M406.5,106.3L408.5,107.3L410.6,107.1L412.6,106.7L414.6,104.3L416.7,105.6L418.7,103.0L420.7,103.1L422.7,101.7L424.8,100.6L426.8,100.6L428.8,100.1L430.9,98.6L432.9,97.9L434.9,96.1L437.0,91.3L439.0,100.1L441.0,97.9L443.1,94.2L445.1,94.3L447.1,93.2L449.1,88.9L451.2,92.9L453.2,91.8L455.2,84.0L457.3,80.8L459.3,83.2L461.3,81.8L463.4,76.1L465.4,73.6L467.4,69.2L469.4,63.7L471.5,66.1L473.5,59.5L475.5,57.5L477.6,58.1L479.6,63.9" stroke="#4474bc" stroke-width="0.5" fill="none" stroke-opacity="0.8" stroke-linejoin="round"/>
<path clip-path="url(#cb2)" d="M406.5,111.3L408.5,112.2L410.6,112.8L412.6,112.8L414.6,111.8L416.7,111.6L418.7,111.6L420.7,110.1L422.7,110.3L424.8,108.4L426.8,106.5L428.8,105.0L430.9,107.1L432.9,107.4L434.9,106.4L437.0,104.4L439.0,102.3L441.0,103.6L443.1,103.2L445.1,100.6L447.1,96.2L449.1,97.0L451.2,95.6L453.2,93.7L455.2,91.3L457.3,83.9L459.3,75.9L461.3,75.6L463.4,79.2L465.4,78.5L467.4,77.7L469.4,69.1L471.5,65.8L473.5,68.0L475.5,57.0L477.6,57.2L479.6,50.8" stroke="#4474bc" stroke-width="0.5" fill="none" stroke-opacity="0.8" stroke-linejoin="round"/>
<path clip-path="url(#cb2)" d="M406.5,107.3L408.5,107.4L410.6,108.5L412.6,108.7L414.6,106.8L416.7,106.8L418.7,103.7L420.7,102.3L422.7,98.3L424.8,96.7L426.8,92.2L428.8,87.6L430.9,85.7L432.9,72.9L434.9,69.5L437.0,61.4L439.0,63.5L441.0,56.0L443.1,44.1L445.1,25.2L447.1,10.1L449.1,10.9L451.2,-4.4L453.2,-22.1L455.2,-7.3L457.3,-10.2L459.3,-22.8L461.3,-48.3L463.4,-64.2L465.4,-77.6L467.4,-56.2L469.4,-65.6L471.5,-111.0L473.5,-107.5L475.5,-122.8L477.6,-154.8L479.6,-141.1" stroke="#4474bc" stroke-width="0.5" fill="none" stroke-opacity="0.8" stroke-linejoin="round"/>
<path clip-path="url(#cb2)" d="M406.5,106.5L408.5,109.5L410.6,106.0L412.6,105.3L414.6,105.2L416.7,104.2L418.7,103.8L420.7,102.1L422.7,100.2L424.8,98.7L426.8,95.9L428.8,96.9L430.9,95.9L432.9,93.2L434.9,89.5L437.0,86.8L439.0,83.9L441.0,81.2L443.1,72.4L445.1,73.8L447.1,72.5L449.1,77.1L451.2,72.2L453.2,65.9L455.2,71.4L457.3,65.4L459.3,63.7L461.3,63.0L463.4,66.7L465.4,63.8L467.4,51.1L469.4,43.2L471.5,33.7L473.5,50.1L475.5,27.4L477.6,14.6L479.6,41.0" stroke="#4474bc" stroke-width="0.5" fill="none" stroke-opacity="0.8" stroke-linejoin="round"/>
<path clip-path="url(#cb2)" d="M406.5,110.0L408.5,110.1L410.6,108.6L412.6,109.3L414.6,107.1L416.7,104.9L418.7,103.8L420.7,101.7L422.7,101.2L424.8,102.1L426.8,97.9L428.8,91.8L430.9,87.2L432.9,84.6L434.9,75.0L437.0,65.6L439.0,58.7L441.0,51.8L443.1,50.1L445.1,56.0L447.1,29.1L449.1,14.3L451.2,15.9L453.2,21.8L455.2,12.7L457.3,10.3L459.3,-27.5L461.3,4.6L463.4,-3.9L465.4,-36.2L467.4,-5.4L469.4,-25.3L471.5,-46.1L473.5,-39.8L475.5,-64.1L477.6,-82.2L479.6,-144.8" stroke="#4474bc" stroke-width="0.5" fill="none" stroke-opacity="0.8" stroke-linejoin="round"/>
<path clip-path="url(#cb2)" d="M406.5,103.3L408.5,102.9L410.6,101.2L412.6,102.1L414.6,102.9L416.7,102.3L418.7,100.2L420.7,97.7L422.7,98.8L424.8,91.5L426.8,93.6L428.8,96.8L430.9,86.1L432.9,78.3L434.9,64.2L437.0,70.9L439.0,59.0L441.0,60.6L443.1,50.1L445.1,47.2L447.1,63.4L449.1,61.2L451.2,43.3L453.2,42.9L455.2,38.6L457.3,16.4L459.3,6.1L461.3,-12.4L463.4,-18.6L465.4,-14.1L467.4,-16.9L469.4,-1.6L471.5,14.8L473.5,30.5L475.5,51.7L477.6,42.3L479.6,20.3" stroke="#e8212b" stroke-width="0.55" fill="none" stroke-opacity="0.85" stroke-linejoin="round"/>
<path clip-path="url(#cb2)" d="M406.5,105.5L408.5,104.5L410.6,104.4L412.6,104.5L414.6,106.6L416.7,106.7L418.7,103.2L420.7,102.5L422.7,101.8L424.8,102.3L426.8,102.7L428.8,100.6L430.9,101.5L432.9,97.2L434.9,98.1L437.0,94.6L439.0,87.8L441.0,82.7L443.1,74.2L445.1,71.6L447.1,74.9L449.1,75.2L451.2,64.8L453.2,65.9L455.2,58.1L457.3,56.4L459.3,61.7L461.3,57.0L463.4,48.6L465.4,52.9L467.4,43.0L469.4,33.2L471.5,46.6L473.5,48.6L475.5,23.8L477.6,16.1L479.6,22.8" stroke="#e8212b" stroke-width="0.55" fill="none" stroke-opacity="0.85" stroke-linejoin="round"/>
<path clip-path="url(#cb2)" d="M406.5,110.7L408.5,110.7L410.6,111.1L412.6,111.5L414.6,110.5L416.7,109.5L418.7,107.5L420.7,108.0L422.7,105.7L424.8,104.1L426.8,103.1L428.8,103.1L430.9,100.7L432.9,101.4L434.9,100.5L437.0,97.7L439.0,89.7L441.0,92.6L443.1,92.2L445.1,84.7L447.1,87.4L449.1,87.7L451.2,82.8L453.2,76.5L455.2,73.2L457.3,72.0L459.3,57.8L461.3,50.5L463.4,47.4L465.4,45.8L467.4,49.8L469.4,54.8L471.5,45.1L473.5,55.0L475.5,56.5L477.6,63.6L479.6,85.8" stroke="#e8212b" stroke-width="0.55" fill="none" stroke-opacity="0.85" stroke-linejoin="round"/>
<path clip-path="url(#cb2)" d="M406.5,106.0L408.5,106.0L410.6,104.5L412.6,102.2L414.6,98.6L416.7,96.4L418.7,95.2L420.7,92.5L422.7,81.5L424.8,78.1L426.8,67.9L428.8,64.6L430.9,58.8L432.9,59.5L434.9,50.4L437.0,45.8L439.0,38.2L441.0,26.2L443.1,26.9L445.1,21.0L447.1,29.6L449.1,16.0L451.2,6.1L453.2,-10.0L455.2,-15.4L457.3,-21.6L459.3,-20.7L461.3,-32.6L463.4,-60.7L465.4,-44.6L467.4,-24.3L469.4,-73.9L471.5,-77.7L473.5,-124.9L475.5,-153.9L477.6,-159.5L479.6,-145.3" stroke="#4474bc" stroke-width="0.5" fill="none" stroke-opacity="0.8" stroke-linejoin="round"/>
<path clip-path="url(#cb2)" d="M406.5,108.3L408.5,105.7L410.6,107.8L412.6,106.5L414.6,107.2L416.7,106.9L418.7,108.5L420.7,108.9L422.7,107.7L424.8,109.2L426.8,107.5L428.8,107.9L430.9,106.8L432.9,106.4L434.9,106.8L437.0,106.5L439.0,105.2L441.0,103.7L443.1,104.0L445.1,103.8L447.1,102.9L449.1,103.6L451.2,106.0L453.2,107.0L455.2,107.1L457.3,107.3L459.3,105.8L461.3,104.6L463.4,105.9L465.4,104.5L467.4,104.8L469.4,102.8L471.5,100.0L473.5,99.9L475.5,99.3L477.6,97.2L479.6,96.5" stroke="#4474bc" stroke-width="0.5" fill="none" stroke-opacity="0.8" stroke-linejoin="round"/>
<path clip-path="url(#cb2)" d="M406.5,108.3L408.5,108.0L410.6,108.7L412.6,109.3L414.6,107.7L416.7,107.0L418.7,106.5L420.7,104.4L422.7,105.3L424.8,103.8L426.8,102.9L428.8,103.0L430.9,102.5L432.9,102.4L434.9,101.7L437.0,100.5L439.0,102.1L441.0,98.9L443.1,99.4L445.1,99.1L447.1,98.6L449.1,95.6L451.2,96.4L453.2,91.2L455.2,91.8L457.3,89.7L459.3,97.5L461.3,92.4L463.4,94.4L465.4,88.7L467.4,88.0L469.4,79.4L471.5,78.9L473.5,77.7L475.5,73.0L477.6,68.8L479.6,76.5" stroke="#4474bc" stroke-width="0.5" fill="none" stroke-opacity="0.8" stroke-linejoin="round"/>
<path clip-path="url(#cb2)" d="M406.5,110.2L408.5,109.0L410.6,108.5L412.6,106.9L414.6,106.6L416.7,104.7L418.7,102.1L420.7,99.4L422.7,96.9L424.8,95.8L426.8,93.0L428.8,87.6L430.9,91.5L432.9,95.8L434.9,103.1L437.0,103.4L439.0,104.3L441.0,97.6L443.1,96.9L445.1,85.6L447.1,86.7L449.1,86.7L451.2,83.9L453.2,78.4L455.2,67.9L457.3,61.7L459.3,46.4L461.3,46.1L463.4,48.9L465.4,54.4L467.4,41.0L469.4,42.4L471.5,46.6L473.5,51.9L475.5,24.7L477.6,17.8L479.6,-0.5" stroke="#e8212b" stroke-width="0.55" fill="none" stroke-opacity="0.85" stroke-linejoin="round"/>
<path clip-path="url(#cb2)" d="M406.5,110.0L408.5,110.0L410.6,110.2L412.6,109.0L414.6,108.7L416.7,108.4L418.7,107.4L420.7,107.4L422.7,105.8L424.8,105.1L426.8,105.4L428.8,104.1L430.9,101.3L432.9,99.8L434.9,98.5L437.0,93.4L439.0,94.5L441.0,92.2L443.1,82.8L445.1,81.8L447.1,79.7L449.1,75.7L451.2,74.4L453.2,79.3L455.2,56.6L457.3,49.7L459.3,43.4L461.3,41.6L463.4,12.5L465.4,16.9L467.4,-2.1L469.4,6.0L471.5,-1.7L473.5,3.7L475.5,31.0L477.6,15.0L479.6,-7.9" stroke="#4474bc" stroke-width="0.5" fill="none" stroke-opacity="0.8" stroke-linejoin="round"/>
<path clip-path="url(#cb2)" d="M406.5,107.2L408.5,108.1L410.6,108.2L412.6,107.5L414.6,107.3L416.7,106.4L418.7,105.4L420.7,104.0L422.7,104.2L424.8,104.8L426.8,102.8L428.8,103.9L430.9,98.6L432.9,98.5L434.9,98.3L437.0,98.2L439.0,99.5L441.0,100.2L443.1,94.5L445.1,91.8L447.1,90.5L449.1,82.6L451.2,84.1L453.2,85.9L455.2,89.1L457.3,83.0L459.3,79.9L461.3,79.4L463.4,81.1L465.4,67.1L467.4,54.2L469.4,45.0L471.5,46.2L473.5,57.0L475.5,42.3L477.6,36.6L479.6,11.1" stroke="#4474bc" stroke-width="0.5" fill="none" stroke-opacity="0.8" stroke-linejoin="round"/>
<path clip-path="url(#cb2)" d="M406.5,107.5L408.5,108.0L410.6,109.4L412.6,109.5L414.6,106.9L416.7,105.1L418.7,104.3L420.7,105.7L422.7,106.5L424.8,107.3L426.8,107.5L428.8,105.0L430.9,104.4L432.9,103.6L434.9,104.9L437.0,103.8L439.0,104.5L441.0,103.7L443.1,101.9L445.1,100.1L447.1,103.3L449.1,101.4L451.2,101.2L453.2,98.7L455.2,95.8L457.3,96.9L459.3,97.5L461.3,100.8L463.4,98.3L465.4,96.3L467.4,95.7L469.4,93.9L471.5,92.7L473.5,89.2L475.5,91.8L477.6,96.4L479.6,97.6" stroke="#4474bc" stroke-width="0.5" fill="none" stroke-opacity="0.8" stroke-linejoin="round"/>
<path clip-path="url(#cb2)" d="M406.5,103.9L408.5,105.1L410.6,106.0L412.6,104.2L414.6,101.8L416.7,100.4L418.7,102.3L420.7,98.3L422.7,96.2L424.8,96.6L426.8,94.9L428.8,93.4L430.9,89.3L432.9,86.5L434.9,84.1L437.0,83.9L439.0,80.5L441.0,81.8L443.1,74.3L445.1,73.3L447.1,68.9L449.1,70.6L451.2,66.3L453.2,62.1L455.2,45.4L457.3,44.3L459.3,36.3L461.3,43.6L463.4,49.2L465.4,44.8L467.4,36.4L469.4,38.3L471.5,32.9L473.5,48.8L475.5,49.2L477.6,44.7L479.6,27.0" stroke="#e8212b" stroke-width="0.55" fill="none" stroke-opacity="0.85" stroke-linejoin="round"/>
<path clip-path="url(#cb2)" d="M406.5,102.1L408.5,101.4L410.6,101.6L412.6,100.5L414.6,101.4L416.7,99.8L418.7,101.3L420.7,102.2L422.7,100.6L424.8,99.4L426.8,99.4L428.8,98.7L430.9,98.9L432.9,95.3L434.9,95.9L437.0,91.0L439.0,87.0L441.0,89.5L443.1,99.2L445.1,95.8L447.1,90.7L449.1,86.4L451.2,87.0L453.2,78.7L455.2,71.4L457.3,64.1L459.3,71.6L461.3,63.2L463.4,59.7L465.4,57.7L467.4,58.5L469.4,72.2L471.5,66.0L473.5,53.5L475.5,35.1L477.6,27.7L479.6,15.9" stroke="#4474bc" stroke-width="0.5" fill="none" stroke-opacity="0.8" stroke-linejoin="round"/>
<path clip-path="url(#cb2)" d="M406.5,105.9L408.5,105.0L410.6,103.6L412.6,104.7L414.6,103.1L416.7,103.3L418.7,104.2L420.7,105.7L422.7,108.2L424.8,102.4L426.8,100.0L428.8,96.8L430.9,96.8L432.9,101.4L434.9,102.4L437.0,100.5L439.0,99.9L441.0,102.0L443.1,94.9L445.1,100.0L447.1,93.7L449.1,95.7L451.2,89.7L453.2,92.5L455.2,92.1L457.3,83.9L459.3,83.2L461.3,79.0L463.4,73.2L465.4,67.2L467.4,73.6L469.4,72.0L471.5,72.3L473.5,72.5L475.5,67.4L477.6,63.7L479.6,58.2" stroke="#4474bc" stroke-width="0.5" fill="none" stroke-opacity="0.8" stroke-linejoin="round"/>
<path clip-path="url(#cb2)" d="M406.5,104.7L408.5,106.0L410.6,105.6L412.6,103.0L414.6,101.6L416.7,100.5L418.7,98.8L420.7,94.3L422.7,94.0L424.8,94.5L426.8,97.2L428.8,96.0L430.9,95.5L432.9,95.4L434.9,94.1L437.0,91.8L439.0,92.8L441.0,86.2L443.1,82.9L445.1,80.1L447.1,76.3L449.1,76.5L451.2,77.0L453.2,77.1L455.2,83.5L457.3,87.4L459.3,91.1L461.3,93.8L463.4,89.7L465.4,80.4L467.4,72.8L469.4,69.2L471.5,67.4L473.5,61.2L475.5,52.3L477.6,52.6L479.6,55.7" stroke="#4474bc" stroke-width="0.5" fill="none" stroke-opacity="0.8" stroke-linejoin="round"/>
<path clip-path="url(#cb2)" d="M406.5,108.5L408.5,107.8L410.6,107.9L412.6,108.2L414.6,109.7L416.7,107.7L418.7,108.0L420.7,108.2L422.7,108.0L424.8,106.6L426.8,103.6L428.8,101.8L430.9,100.3L432.9,100.7L434.9,99.6L437.0,99.2L439.0,97.0L441.0,94.3L443.1,97.0L445.1,97.3L447.1,96.0L449.1,91.4L451.2,94.5L453.2,91.8L455.2,83.2L457.3,90.0L459.3,77.6L461.3,86.8L463.4,69.9L465.4,73.7L467.4,78.9L469.4,69.5L471.5,58.5L473.5,70.2L475.5,77.8L477.6,64.2L479.6,44.0" stroke="#4474bc" stroke-width="0.5" fill="none" stroke-opacity="0.8" stroke-linejoin="round"/>
<path clip-path="url(#cb2)" d="M406.5,110.9L408.5,109.8L410.6,108.9L412.6,107.2L414.6,106.0L416.7,105.1L418.7,103.7L420.7,104.2L422.7,103.0L424.8,101.4L426.8,97.5L428.8,99.3L430.9,92.5L432.9,91.7L434.9,86.9L437.0,79.3L439.0,74.0L441.0,76.3L443.1,75.5L445.1,74.5L447.1,65.6L449.1,59.4L451.2,54.5L453.2,50.2L455.2,37.6L457.3,34.8L459.3,44.2L461.3,38.8L463.4,33.0L465.4,21.4L467.4,14.1L469.4,12.5L471.5,21.3L473.5,32.9L475.5,5.3L477.6,6.3L479.6,-7.0" stroke="#e8212b" stroke-width="0.55" fill="none" stroke-opacity="0.85" stroke-linejoin="round"/>
<path clip-path="url(#cb2)" d="M406.5,108.9L408.5,109.2L410.6,108.5L412.6,107.5L414.6,107.9L416.7,106.1L418.7,105.2L420.7,107.2L422.7,102.1L424.8,100.0L426.8,100.2L428.8,90.3L430.9,88.8L432.9,85.1L434.9,78.7L437.0,75.0L439.0,65.0L441.0,54.4L443.1,53.2L445.1,51.9L447.1,55.6L449.1,54.9L451.2,56.0L453.2,53.9L455.2,47.6L457.3,40.0L459.3,29.0L461.3,13.6L463.4,18.6L465.4,-5.2L467.4,4.0L469.4,4.6L471.5,-3.5L473.5,-13.7L475.5,-17.4L477.6,-40.7L479.6,-79.9" stroke="#4474bc" stroke-width="0.5" fill="none" stroke-opacity="0.8" stroke-linejoin="round"/>
<path clip-path="url(#cb2)" d="M406.5,104.3L408.5,103.8L410.6,102.9L412.6,104.7L414.6,103.1L416.7,103.6L418.7,103.7L420.7,102.8L422.7,102.3L424.8,102.2L426.8,101.9L428.8,103.0L430.9,101.8L432.9,97.5L434.9,97.5L437.0,96.9L439.0,97.3L441.0,94.8L443.1,96.2L445.1,99.3L447.1,98.3L449.1,96.5L451.2,96.1L453.2,94.3L455.2,98.3L457.3,97.0L459.3,97.0L461.3,98.7L463.4,98.4L465.4,99.1L467.4,95.8L469.4,90.8L471.5,87.2L473.5,87.6L475.5,89.8L477.6,90.5L479.6,87.7" stroke="#4474bc" stroke-width="0.5" fill="none" stroke-opacity="0.8" stroke-linejoin="round"/>
<path clip-path="url(#cb2)" d="M406.5,108.9L408.5,109.7L410.6,108.7L412.6,108.1L414.6,108.9L416.7,109.2L418.7,109.0L420.7,108.1L422.7,107.8L424.8,108.9L426.8,106.9L428.8,105.7L430.9,107.1L432.9,106.3L434.9,105.4L437.0,105.7L439.0,106.2L441.0,107.3L443.1,107.5L445.1,107.5L447.1,106.1L449.1,106.9L451.2,107.6L453.2,105.5L455.2,105.1L457.3,105.1L459.3,104.8L461.3,102.5L463.4,107.5L465.4,106.9L467.4,103.5L469.4,103.6L471.5,103.5L473.5,101.3L475.5,100.2L477.6,101.3L479.6,98.3" stroke="#4474bc" stroke-width="0.5" fill="none" stroke-opacity="0.8" stroke-linejoin="round"/>
<path clip-path="url(#cb2)" d="M406.5,105.5L408.5,106.1L410.6,105.7L412.6,105.6L414.6,103.6L416.7,105.5L418.7,108.6L420.7,105.6L422.7,104.6L424.8,102.0L426.8,101.0L428.8,99.9L430.9,98.2L432.9,94.8L434.9,94.3L437.0,91.1L439.0,91.7L441.0,90.9L443.1,94.4L445.1,92.9L447.1,91.0L449.1,89.5L451.2,92.6L453.2,90.7L455.2,90.9L457.3,81.8L459.3,71.6L461.3,75.4L463.4,73.5L465.4,69.7L467.4,67.7L469.4,64.1L471.5,59.6L473.5,57.1L475.5,64.0L477.6,62.7L479.6,68.4" stroke="#4474bc" stroke-width="0.5" fill="none" stroke-opacity="0.8" stroke-linejoin="round"/>
<path clip-path="url(#cb2)" d="M406.5,108.9L408.5,107.6L410.6,106.6L412.6,106.0L414.6,105.5L416.7,103.9L418.7,102.6L420.7,102.4L422.7,97.9L424.8,93.5L426.8,97.3L428.8,96.9L430.9,94.8L432.9,89.2L434.9,90.6L437.0,90.9L439.0,88.6L441.0,83.2L443.1,76.1L445.1,77.3L447.1,73.5L449.1,72.0L451.2,66.0L453.2,65.9L455.2,58.4L457.3,65.0L459.3,50.7L461.3,59.7L463.4,56.7L465.4,65.6L467.4,52.9L469.4,33.1L471.5,21.5L473.5,35.8L475.5,36.2L477.6,19.9L479.6,28.8" stroke="#4474bc" stroke-width="0.5" fill="none" stroke-opacity="0.8" stroke-linejoin="round"/>
<path clip-path="url(#cb2)" d="M406.5,109.4L408.5,109.4L410.6,108.9L412.6,108.8L414.6,109.7L416.7,107.9L418.7,106.6L420.7,105.3L422.7,104.0L424.8,103.5L426.8,101.5L428.8,101.7L430.9,101.0L432.9,101.9L434.9,98.9L437.0,99.9L439.0,97.8L441.0,96.6L443.1,92.4L445.1,90.3L447.1,92.3L449.1,89.6L451.2,85.7L453.2,90.8L455.2,89.7L457.3,90.1L459.3,92.5L461.3,92.8L463.4,86.4L465.4,75.4L467.4,74.9L469.4,76.7L471.5,74.7L473.5,75.1L475.5,69.4L477.6,57.7L479.6,52.0" stroke="#4474bc" stroke-width="0.5" fill="none" stroke-opacity="0.8" stroke-linejoin="round"/>
<path clip-path="url(#cb2)" d="M406.5,110.1L408.5,109.7L410.6,109.6L412.6,110.4L414.6,107.9L416.7,108.1L418.7,103.5L420.7,101.4L422.7,98.0L424.8,97.0L426.8,96.3L428.8,91.3L430.9,81.3L432.9,84.8L434.9,77.1L437.0,79.3L439.0,72.6L441.0,75.0L443.1,76.7L445.1,73.5L447.1,75.4L449.1,57.3L451.2,51.9L453.2,51.1L455.2,35.6L457.3,42.0L459.3,42.1L461.3,42.7L463.4,24.6L465.4,11.2L467.4,9.1L469.4,-11.3L471.5,-3.5L473.5,2.7L475.5,16.8L477.6,28.9L479.6,34.6" stroke="#4474bc" stroke-width="0.5" fill="none" stroke-opacity="0.8" stroke-linejoin="round"/>
<path clip-path="url(#cb2)" d="M406.5,104.0L408.5,102.5L410.6,99.3L412.6,101.3L414.6,101.7L416.7,99.3L418.7,100.5L420.7,98.5L422.7,97.4L424.8,98.1L426.8,97.0L428.8,93.5L430.9,94.1L432.9,94.8L434.9,93.4L437.0,96.0L439.0,96.9L441.0,93.0L443.1,85.6L445.1,87.3L447.1,83.0L449.1,73.4L451.2,74.3L453.2,73.4L455.2,75.6L457.3,73.8L459.3,64.1L461.3,57.2L463.4,56.0L465.4,55.0L467.4,55.0L469.4,55.5L471.5,51.5L473.5,31.7L475.5,32.2L477.6,11.5L479.6,7.8" stroke="#e8212b" stroke-width="0.55" fill="none" stroke-opacity="0.85" stroke-linejoin="round"/>
<path clip-path="url(#cb2)" d="M406.5,108.8L408.5,108.7L410.6,110.1L412.6,109.5L414.6,108.1L416.7,107.5L418.7,105.1L420.7,102.9L422.7,103.8L424.8,105.3L426.8,105.3L428.8,104.4L430.9,101.8L432.9,101.7L434.9,97.7L437.0,98.3L439.0,99.4L441.0,101.1L443.1,98.4L445.1,92.1L447.1,90.3L449.1,87.9L451.2,87.2L453.2,83.9L455.2,85.3L457.3,82.4L459.3,83.5L461.3,80.1L463.4,79.2L465.4,80.0L467.4,79.0L469.4,76.8L471.5,70.0L473.5,70.0L475.5,70.8L477.6,73.7L479.6,70.1" stroke="#e8212b" stroke-width="0.55" fill="none" stroke-opacity="0.85" stroke-linejoin="round"/>
<path clip-path="url(#cb2)" d="M406.5,105.2L408.5,103.5L410.6,103.4L412.6,104.6L414.6,106.8L416.7,106.7L418.7,105.4L420.7,105.2L422.7,106.0L424.8,106.3L426.8,105.5L428.8,106.0L430.9,106.9L432.9,106.2L434.9,104.5L437.0,102.1L439.0,102.9L441.0,102.6L443.1,103.5L445.1,101.1L447.1,101.9L449.1,103.0L451.2,103.8L453.2,102.8L455.2,103.3L457.3,100.1L459.3,100.3L461.3,100.0L463.4,101.0L465.4,101.0L467.4,102.6L469.4,101.6L471.5,100.5L473.5,98.3L475.5,97.4L477.6,98.0L479.6,95.5" stroke="#4474bc" stroke-width="0.5" fill="none" stroke-opacity="0.8" stroke-linejoin="round"/>
<path clip-path="url(#cb2)" d="M406.5,112.6L408.5,112.2L410.6,111.7L412.6,110.8L414.6,109.8L416.7,110.2L418.7,111.0L420.7,111.3L422.7,111.0L424.8,111.4L426.8,110.2L428.8,110.4L430.9,110.3L432.9,110.2L434.9,109.7L437.0,110.7L439.0,109.3L441.0,109.4L443.1,107.9L445.1,109.8L447.1,108.4L449.1,109.1L451.2,107.8L453.2,106.2L455.2,107.4L457.3,106.1L459.3,104.3L461.3,105.7L463.4,104.4L465.4,102.1L467.4,99.9L469.4,99.0L471.5,99.2L473.5,98.8L475.5,97.0L477.6,95.4L479.6,93.6" stroke="#888" stroke-width="0.4" fill="none" stroke-opacity="0.6" stroke-linejoin="round"/>
<path clip-path="url(#cb2)" d="M406.5,110.1L408.5,110.1L410.6,110.6L412.6,111.2L414.6,110.9L416.7,110.7L418.7,110.8L420.7,111.5L422.7,110.5L424.8,110.3L426.8,109.9L428.8,110.4L430.9,110.0L432.9,109.6L434.9,110.2L437.0,110.1L439.0,110.8L441.0,109.2L443.1,108.3L445.1,108.9L447.1,108.0L449.1,108.3L451.2,108.7L453.2,107.0L455.2,106.2L457.3,107.5L459.3,109.2L461.3,107.8L463.4,107.0L465.4,106.5L467.4,106.2L469.4,106.2L471.5,109.2L473.5,109.4L475.5,105.2L477.6,104.4L479.6,105.2" stroke="#4474bc" stroke-width="0.5" fill="none" stroke-opacity="0.8" stroke-linejoin="round"/>
<path clip-path="url(#cb2)" d="M406.5,107.5L408.5,107.8L410.6,107.2L412.6,107.5L414.6,106.2L416.7,105.7L418.7,104.1L420.7,100.9L422.7,99.8L424.8,98.1L426.8,96.3L428.8,97.7L430.9,101.2L432.9,100.0L434.9,92.5L437.0,85.0L439.0,77.9L441.0,81.2L443.1,78.7L445.1,78.7L447.1,81.4L449.1,77.7L451.2,73.8L453.2,78.3L455.2,59.6L457.3,57.9L459.3,55.7L461.3,57.7L463.4,48.6L465.4,42.5L467.4,40.3L469.4,49.1L471.5,13.0L473.5,14.4L475.5,5.0L477.6,-14.3L479.6,-18.4" stroke="#4474bc" stroke-width="0.5" fill="none" stroke-opacity="0.8" stroke-linejoin="round"/>
<path clip-path="url(#cb2)" d="M406.5,105.4L408.5,106.6L410.6,106.2L412.6,105.8L414.6,104.9L416.7,102.7L418.7,100.0L420.7,100.4L422.7,98.0L424.8,97.5L426.8,98.8L428.8,96.8L430.9,91.8L432.9,92.3L434.9,90.9L437.0,92.8L439.0,97.9L441.0,93.2L443.1,88.5L445.1,81.0L447.1,73.6L449.1,75.7L451.2,71.5L453.2,68.8L455.2,65.3L457.3,68.0L459.3,71.9L461.3,70.7L463.4,74.9L465.4,71.8L467.4,59.5L469.4,57.3L471.5,55.0L473.5,62.9L475.5,55.3L477.6,55.1L479.6,48.2" stroke="#4474bc" stroke-width="0.5" fill="none" stroke-opacity="0.8" stroke-linejoin="round"/>
<path clip-path="url(#cb2)" d="M406.5,110.2L408.5,109.9L410.6,108.7L412.6,108.7L414.6,107.5L416.7,105.6L418.7,104.7L420.7,101.7L422.7,102.3L424.8,103.1L426.8,99.4L428.8,97.8L430.9,99.3L432.9,98.0L434.9,96.6L437.0,99.6L439.0,93.6L441.0,91.6L443.1,87.2L445.1,80.6L447.1,79.8L449.1,81.0L451.2,82.1L453.2,68.7L455.2,65.0L457.3,51.6L459.3,57.9L461.3,55.4L463.4,46.4L465.4,54.2L467.4,58.1L469.4,58.2L471.5,41.2L473.5,30.2L475.5,34.4L477.6,31.2L479.6,54.7" stroke="#4474bc" stroke-width="0.5" fill="none" stroke-opacity="0.8" stroke-linejoin="round"/>
<path clip-path="url(#cb2)" d="M406.5,107.8L408.5,105.2L410.6,103.1L412.6,102.2L414.6,102.2L416.7,101.0L418.7,102.5L420.7,102.5L422.7,103.2L424.8,100.3L426.8,95.6L428.8,88.7L430.9,85.2L432.9,86.2L434.9,82.2L437.0,81.4L439.0,80.9L441.0,76.8L443.1,87.0L445.1,86.6L447.1,64.0L449.1,69.3L451.2,65.8L453.2,56.7L455.2,57.1L457.3,50.9L459.3,53.5L461.3,45.2L463.4,50.1L465.4,38.6L467.4,40.8L469.4,36.5L471.5,26.8L473.5,28.0L475.5,26.2L477.6,26.3L479.6,15.1" stroke="#4474bc" stroke-width="0.5" fill="none" stroke-opacity="0.8" stroke-linejoin="round"/>
<line x1="406.50" y1="24.40" x2="406.50" y2="115.00" stroke="#111" stroke-width="0.7" />
<line x1="403.70" y1="114.60" x2="406.50" y2="114.60" stroke="#111" stroke-width="0.8" />
<line x1="403.70" y1="92.05" x2="406.50" y2="92.05" stroke="#111" stroke-width="0.8" />
<line x1="403.70" y1="69.50" x2="406.50" y2="69.50" stroke="#111" stroke-width="0.8" />
<line x1="403.70" y1="46.95" x2="406.50" y2="46.95" stroke="#111" stroke-width="0.8" />
<line x1="403.70" y1="24.40" x2="406.50" y2="24.40" stroke="#111" stroke-width="0.8" />
<line x1="406.50" y1="114.60" x2="406.50" y2="117.40" stroke="#111" stroke-width="0.8" />
<text x="406.50" y="128.60" text-anchor="middle">0</text>
<line x1="424.77" y1="114.60" x2="424.77" y2="117.40" stroke="#111" stroke-width="0.8" />
<text x="424.77" y="128.60" text-anchor="middle">3</text>
<line x1="443.05" y1="114.60" x2="443.05" y2="117.40" stroke="#111" stroke-width="0.8" />
<text x="443.05" y="128.60" text-anchor="middle">6</text>
<line x1="461.32" y1="114.60" x2="461.32" y2="117.40" stroke="#111" stroke-width="0.8" />
<text x="461.32" y="128.60" text-anchor="middle">9</text>
<line x1="479.60" y1="114.60" x2="479.60" y2="117.40" stroke="#111" stroke-width="0.8" />
<text x="479.60" y="128.60" text-anchor="middle">12</text>
<text x="443.00" y="7.80" text-anchor="middle">Mitogens</text>
<text x="443.00" y="18.60" text-anchor="middle" textLength="54.0" lengthAdjust="spacingAndGlyphs">+ PPase inh.</text>
<line x1="226.60" y1="132.00" x2="480.00" y2="132.00" stroke="#666" stroke-width="1.1" />
<text x="353.30" y="143.30" text-anchor="middle" textLength="97.5" lengthAdjust="spacingAndGlyphs">Time after treatment (h)</text>
<line x1="500.00" y1="6.20" x2="505.60" y2="6.20" stroke="#e8212b" stroke-width="1.4" />
<text x="509.00" y="9.30" textLength="76.5" lengthAdjust="spacingAndGlyphs">Cell with transient</text>
<text x="509.00" y="20.30" textLength="79.0" lengthAdjust="spacingAndGlyphs">APC/C inactivation</text>
<line x1="595.50" y1="6.20" x2="601.20" y2="6.20" stroke="#4474bc" stroke-width="1.4" />
<text x="606.00" y="9.30" textLength="79.0" lengthAdjust="spacingAndGlyphs">Cell with sustained</text>
<text x="606.00" y="20.30" textLength="79.0" lengthAdjust="spacingAndGlyphs">APC/C inactivation</text>
<rect x="549.6" y="105.39" width="11.20" height="2.83" fill="#4472b8"/>
<rect x="549.6" y="108.22" width="11.20" height="4.98" fill="#e8212b"/>
<rect x="569" y="62.98" width="11.30" height="2.75" fill="#4472b8"/>
<rect x="569" y="65.73" width="11.30" height="47.47" fill="#e8212b"/>
<rect x="588.6" y="44.90" width="11.30" height="53.57" fill="#4472b8"/>
<rect x="588.6" y="98.47" width="11.30" height="14.73" fill="#e8212b"/>
<line x1="539.40" y1="38.80" x2="539.40" y2="113.20" stroke="#111" stroke-width="0.8" />
<line x1="539.00" y1="113.20" x2="604.80" y2="113.20" stroke="#111" stroke-width="0.8" />
<line x1="536.60" y1="113.20" x2="539.40" y2="113.20" stroke="#111" stroke-width="0.8" />
<text x="536.00" y="116.50" text-anchor="end">0</text>
<line x1="536.60" y1="98.32" x2="539.40" y2="98.32" stroke="#111" stroke-width="0.8" />
<text x="536.00" y="101.62" text-anchor="end">20</text>
<line x1="536.60" y1="83.44" x2="539.40" y2="83.44" stroke="#111" stroke-width="0.8" />
<text x="536.00" y="86.74" text-anchor="end">40</text>
<line x1="536.60" y1="68.56" x2="539.40" y2="68.56" stroke="#111" stroke-width="0.8" />
<text x="536.00" y="71.86" text-anchor="end">60</text>
<line x1="536.60" y1="53.68" x2="539.40" y2="53.68" stroke="#111" stroke-width="0.8" />
<text x="536.00" y="56.98" text-anchor="end">80</text>
<line x1="536.60" y1="38.80" x2="539.40" y2="38.80" stroke="#111" stroke-width="0.8" />
<text x="536.00" y="42.10" text-anchor="end">100</text>
<text x="506.00" y="76.00" text-anchor="middle" transform="rotate(-90 506.00 76.00)" textLength="73.0" lengthAdjust="spacingAndGlyphs">Percentage of the</text>
<text x="517.00" y="76.00" text-anchor="middle" transform="rotate(-90 517.00 76.00)" textLength="44.0" lengthAdjust="spacingAndGlyphs">population</text>
<text x="560.50" y="121.50" text-anchor="end" transform="rotate(-45 560.50 121.50)" textLength="44.0" lengthAdjust="spacingAndGlyphs">Quiescent</text>
<text x="580.00" y="121.00" text-anchor="end" transform="rotate(-45 580.00 121.00)" textLength="39.5" lengthAdjust="spacingAndGlyphs">Mit. stim.</text>
<text x="599.50" y="121.00" text-anchor="end" transform="rotate(-45 599.50 121.00)" textLength="39.5" lengthAdjust="spacingAndGlyphs">Mit. stim.</text>
<text x="607.30" y="128.70" text-anchor="end" transform="rotate(-45 607.30 128.70)" textLength="52.5" lengthAdjust="spacingAndGlyphs">+ PPase inh.</text>
<text x="1.50" y="175.00" font-size="13" font-weight="bold" stroke="#111" stroke-width="0.7" stroke-linejoin="round">c</text>
<text x="51.90" y="180.30" transform="rotate(-45 51.90 180.30)">IgG</text>
<text x="68.00" y="180.00" textLength="27.5" lengthAdjust="spacingAndGlyphs">DMSO</text>
<line x1="50.50" y1="184.30" x2="112.50" y2="184.30" stroke="#111" stroke-width="0.8" />
<text x="123.60" y="180.30" transform="rotate(-45 123.60 180.30)">IgG</text>
<text x="137.40" y="179.80" textLength="44.4" lengthAdjust="spacingAndGlyphs">PPase inh.</text>
<line x1="124.10" y1="183.50" x2="187.20" y2="183.50" stroke="#8a8a8a" stroke-width="1.1" />
<text x="52.00" y="196.70" text-anchor="middle">3</text>
<text x="69.50" y="196.70" text-anchor="middle">0</text>
<text x="87.50" y="196.70" text-anchor="middle">3</text>
<text x="106.00" y="196.70" text-anchor="middle">5</text>
<text x="124.20" y="196.70" text-anchor="middle">3</text>
<text x="142.40" y="196.70" text-anchor="middle">0</text>
<text x="160.00" y="196.70" text-anchor="middle">3</text>
<text x="177.90" y="196.70" text-anchor="middle">5</text>
<text x="191.50" y="186.70" textLength="40.0" lengthAdjust="spacingAndGlyphs">Time after</text>
<text x="191.50" y="197.30" textLength="50.5" lengthAdjust="spacingAndGlyphs">mit. stim. (h)</text>
<text x="17.00" y="202.80">kDa</text>
<text x="35.00" y="218.00" text-anchor="end">55</text>
<line x1="37.30" y1="214.80" x2="40.80" y2="214.80" stroke="#111" stroke-width="0.8" />
<clipPath id="bc1"><rect x="41.80" y="202.00" width="146.20" height="24.80"/></clipPath>
<rect x="41.80" y="202.00" width="146.20" height="24.80" fill="#f7f7f7"/>
<g clip-path="url(#bc1)"><g filter="url(#blur1_2)">
<rect x="62.65" y="215.10" width="12.50" height="4.00" rx="4.50" ry="2.00" fill="#000" fill-opacity="0.62"/>
<rect x="63.65" y="203.10" width="10.50" height="14.00" rx="3.78" ry="7.00" fill="#000" fill-opacity="0.08"/>
<rect x="80.70" y="214.80" width="13.00" height="5.00" rx="4.68" ry="2.50" fill="#000" fill-opacity="0.95"/>
<rect x="81.70" y="203.30" width="11.00" height="14.00" rx="3.96" ry="7.00" fill="#000" fill-opacity="0.08"/>
<rect x="99.10" y="215.00" width="13.00" height="4.00" rx="4.68" ry="2.00" fill="#000" fill-opacity="0.5"/>
<rect x="100.10" y="203.00" width="11.00" height="14.00" rx="3.96" ry="7.00" fill="#000" fill-opacity="0.08"/>
<rect x="135.75" y="213.10" width="13.50" height="5.00" rx="4.86" ry="2.50" fill="#000" fill-opacity="0.92"/>
<rect x="136.75" y="201.60" width="11.50" height="14.00" rx="4.14" ry="7.00" fill="#000" fill-opacity="0.08"/>
<rect x="153.65" y="212.20" width="13.50" height="6.20" rx="4.86" ry="3.10" fill="#000" fill-opacity="1"/>
<rect x="154.65" y="201.30" width="11.50" height="14.00" rx="4.14" ry="7.00" fill="#000" fill-opacity="0.08"/>
<rect x="171.00" y="210.50" width="14.20" height="7.60" rx="5.11" ry="3.80" fill="#000" fill-opacity="1"/>
<rect x="172.00" y="200.30" width="12.20" height="14.00" rx="4.39" ry="7.00" fill="#000" fill-opacity="0.08"/>
<rect x="82.20" y="216.10" width="10.00" height="3.00" rx="3.60" ry="1.50" fill="#000" fill-opacity="0.5"/>
<rect x="154.90" y="213.30" width="11.00" height="4.00" rx="3.96" ry="2.00" fill="#000" fill-opacity="0.7"/>
<rect x="172.10" y="211.55" width="12.00" height="5.50" rx="4.32" ry="2.75" fill="#000" fill-opacity="0.8"/>
</g></g>
<text x="69.00" y="238.30" text-anchor="middle">1</text>
<text x="87.00" y="238.30" text-anchor="middle">1.2</text>
<text x="106.10" y="238.30" text-anchor="middle">0.78</text>
<text x="143.60" y="238.30" text-anchor="middle">1.1</text>
<text x="160.50" y="238.30" text-anchor="middle">1.5</text>
<text x="178.40" y="238.30" text-anchor="middle">1.7</text>
<text x="191.50" y="218.00">pThr</text>
<text x="191.50" y="238.40" textLength="51.5" lengthAdjust="spacingAndGlyphs">Fold change</text>
<text x="35.00" y="261.70" text-anchor="end">100</text>
<line x1="37.30" y1="258.50" x2="40.80" y2="258.50" stroke="#111" stroke-width="0.8" />
<clipPath id="bc2"><rect x="41.80" y="243.50" width="146.20" height="23.80"/></clipPath>
<rect x="41.80" y="243.50" width="146.20" height="23.80" fill="#ececec"/>
<g clip-path="url(#bc2)"><g filter="url(#blur1_0)">
<rect x="65.00" y="254.80" width="13.00" height="2.40" rx="4.68" ry="1.20" fill="#000" fill-opacity="0.42"/>
<rect x="82.00" y="255.20" width="13.00" height="2.00" rx="4.68" ry="1.00" fill="#000" fill-opacity="0.12"/>
<rect x="101.20" y="254.80" width="13.00" height="2.40" rx="4.68" ry="1.20" fill="#000" fill-opacity="0.42"/>
<rect x="138.00" y="254.75" width="14.00" height="2.50" rx="5.04" ry="1.25" fill="#000" fill-opacity="0.5"/>
<rect x="156.00" y="255.00" width="12.00" height="2.00" rx="4.32" ry="1.00" fill="#000" fill-opacity="0.04"/>
<rect x="174.00" y="255.00" width="12.00" height="2.00" rx="4.32" ry="1.00" fill="#000" fill-opacity="0.05"/>
<rect x="65.50" y="249.00" width="12.00" height="6.00" rx="4.32" ry="3.00" fill="#000" fill-opacity="0.04"/>
<rect x="101.70" y="249.00" width="12.00" height="6.00" rx="4.32" ry="3.00" fill="#000" fill-opacity="0.04"/>
<rect x="139.00" y="249.00" width="12.00" height="6.00" rx="4.32" ry="3.00" fill="#000" fill-opacity="0.04"/>
</g></g>
<text x="191.50" y="260.20">APC2</text>
<text x="35.00" y="290.50" text-anchor="end">70</text>
<line x1="37.30" y1="287.30" x2="40.80" y2="287.30" stroke="#111" stroke-width="0.8" />
<clipPath id="bc3"><rect x="41.80" y="270.10" width="146.20" height="24.50"/></clipPath>
<rect x="41.80" y="270.10" width="146.20" height="24.50" fill="#f1f1f1"/>
<g clip-path="url(#bc3)"><g filter="url(#blur0_8)">
<rect x="63.10" y="280.50" width="15.00" height="7.00" rx="5.40" ry="3.50" fill="#000" fill-opacity="1"/>
<rect x="63.85" y="281.25" width="13.50" height="5.50" rx="4.86" ry="2.75" fill="#000" fill-opacity="1"/>
<rect x="64.60" y="288.80" width="12.00" height="1.60" rx="4.32" ry="0.80" fill="#000" fill-opacity="0.28"/>
<rect x="65.10" y="291.30" width="11.00" height="1.40" rx="3.96" ry="0.70" fill="#000" fill-opacity="0.15"/>
<rect x="64.60" y="272.00" width="12.00" height="10.00" rx="4.32" ry="5.00" fill="#000" fill-opacity="0.06"/>
<rect x="81.35" y="281.60" width="12.50" height="2.20" rx="4.50" ry="1.10" fill="#000" fill-opacity="0.7"/>
<rect x="81.35" y="284.80" width="12.50" height="2.00" rx="4.50" ry="1.00" fill="#000" fill-opacity="0.6"/>
<rect x="82.10" y="289.25" width="11.00" height="1.50" rx="3.96" ry="0.75" fill="#000" fill-opacity="0.06"/>
<rect x="99.60" y="280.50" width="15.00" height="7.00" rx="5.40" ry="3.50" fill="#000" fill-opacity="1"/>
<rect x="100.35" y="281.25" width="13.50" height="5.50" rx="4.86" ry="2.75" fill="#000" fill-opacity="1"/>
<rect x="101.10" y="288.80" width="12.00" height="1.60" rx="4.32" ry="0.80" fill="#000" fill-opacity="0.25"/>
<rect x="101.60" y="291.30" width="11.00" height="1.40" rx="3.96" ry="0.70" fill="#000" fill-opacity="0.12"/>
<rect x="101.10" y="272.00" width="12.00" height="10.00" rx="4.32" ry="5.00" fill="#000" fill-opacity="0.06"/>
<rect x="134.95" y="280.50" width="15.50" height="7.00" rx="5.58" ry="3.50" fill="#000" fill-opacity="1"/>
<rect x="135.70" y="281.25" width="14.00" height="5.50" rx="5.04" ry="2.75" fill="#000" fill-opacity="1"/>
<rect x="136.70" y="272.00" width="12.00" height="10.00" rx="4.32" ry="5.00" fill="#000" fill-opacity="0.06"/>
<rect x="136.70" y="288.75" width="12.00" height="1.50" rx="4.32" ry="0.75" fill="#000" fill-opacity="0.1"/>
<rect x="155.15" y="282.00" width="12.50" height="2.00" rx="4.50" ry="1.00" fill="#000" fill-opacity="0.38"/>
<rect x="155.15" y="285.10" width="12.50" height="1.80" rx="4.50" ry="0.90" fill="#000" fill-opacity="0.3"/>
<rect x="172.55" y="281.70" width="12.50" height="2.20" rx="4.50" ry="1.10" fill="#000" fill-opacity="0.6"/>
<rect x="172.55" y="284.90" width="12.50" height="2.00" rx="4.50" ry="1.00" fill="#000" fill-opacity="0.5"/>
</g></g>
<text x="191.50" y="285.80">APC6</text>
<text x="35.00" y="312.90" text-anchor="end">55</text>
<line x1="37.30" y1="309.70" x2="40.80" y2="309.70" stroke="#111" stroke-width="0.8" />
<clipPath id="bc4"><rect x="41.80" y="296.40" width="146.20" height="24.20"/></clipPath>
<rect x="41.80" y="296.40" width="146.20" height="24.20" fill="#e8e8e8"/>
<g clip-path="url(#bc4)"><g filter="url(#blur1_0)">
<rect x="62.20" y="307.20" width="12.00" height="3.20" rx="4.32" ry="1.60" fill="#000" fill-opacity="0.9"/>
<rect x="63.70" y="307.80" width="9.00" height="2.00" rx="3.24" ry="1.00" fill="#000" fill-opacity="0.6"/>
<rect x="79.55" y="307.20" width="12.50" height="3.20" rx="4.50" ry="1.60" fill="#000" fill-opacity="0.9"/>
<rect x="81.05" y="307.80" width="9.50" height="2.00" rx="3.42" ry="1.00" fill="#000" fill-opacity="0.6"/>
<rect x="97.00" y="307.20" width="13.00" height="3.20" rx="4.68" ry="1.60" fill="#000" fill-opacity="0.9"/>
<rect x="98.50" y="307.80" width="10.00" height="2.00" rx="3.60" ry="1.00" fill="#000" fill-opacity="0.6"/>
<rect x="132.55" y="307.20" width="15.50" height="3.20" rx="5.58" ry="1.60" fill="#000" fill-opacity="0.9"/>
<rect x="134.05" y="307.80" width="12.50" height="2.00" rx="4.50" ry="1.00" fill="#000" fill-opacity="0.6"/>
<rect x="152.10" y="307.20" width="13.00" height="3.20" rx="4.68" ry="1.60" fill="#000" fill-opacity="0.9"/>
<rect x="153.60" y="307.80" width="10.00" height="2.00" rx="3.60" ry="1.00" fill="#000" fill-opacity="0.6"/>
<rect x="170.60" y="307.20" width="13.00" height="3.20" rx="4.68" ry="1.60" fill="#000" fill-opacity="0.9"/>
<rect x="172.10" y="307.80" width="10.00" height="2.00" rx="3.60" ry="1.00" fill="#000" fill-opacity="0.6"/>
</g></g>
<text x="191.50" y="310.40">CDH1</text>
<text x="35.00" y="347.90" text-anchor="end">100</text>
<line x1="37.30" y1="344.70" x2="40.80" y2="344.70" stroke="#111" stroke-width="0.8" />
<clipPath id="bc5"><rect x="41.40" y="327.00" width="146.20" height="24.10"/></clipPath>
<rect x="41.40" y="327.00" width="146.20" height="24.10" fill="#e3e3e3"/>
<g clip-path="url(#bc5)"><g filter="url(#blur1_0)">
<rect x="42.95" y="340.90" width="13.50" height="2.20" rx="4.86" ry="1.10" fill="#000" fill-opacity="0.62"/>
<rect x="61.20" y="341.05" width="12.00" height="1.90" rx="4.32" ry="0.95" fill="#000" fill-opacity="0.22"/>
<rect x="78.85" y="340.80" width="13.50" height="2.00" rx="4.86" ry="1.00" fill="#000" fill-opacity="0.3"/>
<rect x="97.80" y="340.25" width="13.00" height="1.90" rx="4.68" ry="0.95" fill="#000" fill-opacity="0.24"/>
<rect x="116.05" y="339.70" width="12.50" height="1.80" rx="4.50" ry="0.90" fill="#000" fill-opacity="0.15"/>
<rect x="133.70" y="340.10" width="13.00" height="1.80" rx="4.68" ry="0.90" fill="#000" fill-opacity="0.16"/>
<rect x="151.70" y="339.90" width="13.00" height="1.80" rx="4.68" ry="0.90" fill="#000" fill-opacity="0.16"/>
<rect x="170.80" y="339.60" width="13.00" height="1.80" rx="4.68" ry="0.90" fill="#000" fill-opacity="0.12"/>
</g></g>
<text x="191.00" y="344.50">APC2</text>
<text x="35.00" y="372.50" text-anchor="end">70</text>
<line x1="37.30" y1="369.30" x2="40.80" y2="369.30" stroke="#111" stroke-width="0.8" />
<clipPath id="bc6"><rect x="41.40" y="353.00" width="146.20" height="24.00"/></clipPath>
<rect x="41.40" y="353.00" width="146.20" height="24.00" fill="#ededed"/>
<g clip-path="url(#bc6)"><g filter="url(#blur1_0)">
<rect x="44.50" y="365.20" width="14.00" height="2.80" rx="5.04" ry="1.40" fill="#000" fill-opacity="0.9"/>
<rect x="46.00" y="365.70" width="11.00" height="1.80" rx="3.96" ry="0.90" fill="#000" fill-opacity="0.5"/>
<rect x="62.00" y="365.80" width="14.00" height="2.80" rx="5.04" ry="1.40" fill="#000" fill-opacity="0.85"/>
<rect x="63.50" y="366.30" width="11.00" height="1.80" rx="3.96" ry="0.90" fill="#000" fill-opacity="0.5"/>
<rect x="80.40" y="364.20" width="14.00" height="2.80" rx="5.04" ry="1.40" fill="#000" fill-opacity="0.9"/>
<rect x="81.90" y="364.70" width="11.00" height="1.80" rx="3.96" ry="0.90" fill="#000" fill-opacity="0.5"/>
<rect x="98.40" y="363.30" width="14.00" height="2.80" rx="5.04" ry="1.40" fill="#000" fill-opacity="0.9"/>
<rect x="99.90" y="363.80" width="11.00" height="1.80" rx="3.96" ry="0.90" fill="#000" fill-opacity="0.5"/>
<rect x="116.80" y="363.00" width="14.00" height="2.80" rx="5.04" ry="1.40" fill="#000" fill-opacity="0.9"/>
<rect x="118.30" y="363.50" width="11.00" height="1.80" rx="3.96" ry="0.90" fill="#000" fill-opacity="0.5"/>
<rect x="134.80" y="363.70" width="14.00" height="2.80" rx="5.04" ry="1.40" fill="#000" fill-opacity="0.9"/>
<rect x="136.30" y="364.20" width="11.00" height="1.80" rx="3.96" ry="0.90" fill="#000" fill-opacity="0.5"/>
<rect x="153.50" y="365.20" width="14.00" height="2.80" rx="5.04" ry="1.40" fill="#000" fill-opacity="0.85"/>
<rect x="155.00" y="365.70" width="11.00" height="1.80" rx="3.96" ry="0.90" fill="#000" fill-opacity="0.5"/>
<rect x="171.40" y="364.60" width="14.00" height="2.80" rx="5.04" ry="1.40" fill="#000" fill-opacity="1"/>
<rect x="172.90" y="365.10" width="11.00" height="1.80" rx="3.96" ry="0.90" fill="#000" fill-opacity="0.5"/>
<rect x="99.40" y="366.50" width="12.00" height="5.00" rx="4.32" ry="2.50" fill="#000" fill-opacity="0.06"/>
<rect x="117.80" y="366.00" width="12.00" height="6.00" rx="4.32" ry="3.00" fill="#000" fill-opacity="0.08"/>
<rect x="135.80" y="367.00" width="12.00" height="6.00" rx="4.32" ry="3.00" fill="#000" fill-opacity="0.08"/>
<rect x="154.50" y="368.50" width="12.00" height="5.00" rx="4.32" ry="2.50" fill="#000" fill-opacity="0.06"/>
<rect x="172.40" y="367.50" width="12.00" height="5.00" rx="4.32" ry="2.50" fill="#000" fill-opacity="0.07"/>
</g></g>
<text x="191.00" y="370.00">APC6</text>
<text x="35.00" y="394.40" text-anchor="end">55</text>
<line x1="37.30" y1="391.20" x2="40.80" y2="391.20" stroke="#111" stroke-width="0.8" />
<clipPath id="bc7"><rect x="41.40" y="379.30" width="146.20" height="24.60"/></clipPath>
<rect x="41.40" y="379.30" width="146.20" height="24.60" fill="#e9e9e9"/>
<g clip-path="url(#bc7)"><g filter="url(#blur1_0)">
<rect x="43.75" y="390.25" width="14.50" height="5.50" rx="5.22" ry="2.75" fill="#000" fill-opacity="1"/>
<rect x="45.00" y="391.50" width="12.00" height="4.00" rx="4.32" ry="2.00" fill="#000" fill-opacity="0.8"/>
<rect x="44.50" y="396.50" width="13.00" height="4.00" rx="4.68" ry="2.00" fill="#000" fill-opacity="0.3"/>
<rect x="62.50" y="391.80" width="13.00" height="3.60" rx="4.68" ry="1.80" fill="#000" fill-opacity="0.95"/>
<rect x="64.00" y="392.40" width="10.00" height="2.40" rx="3.60" ry="1.20" fill="#000" fill-opacity="0.5"/>
<rect x="79.75" y="390.30" width="14.50" height="5.00" rx="5.22" ry="2.50" fill="#000" fill-opacity="1"/>
<rect x="81.00" y="390.90" width="12.00" height="3.40" rx="4.32" ry="1.70" fill="#000" fill-opacity="0.8"/>
<rect x="80.00" y="396.00" width="9.00" height="4.00" rx="3.24" ry="2.00" fill="#000" fill-opacity="0.35"/>
<rect x="98.50" y="391.00" width="13.00" height="3.00" rx="4.68" ry="1.50" fill="#000" fill-opacity="0.75"/>
<rect x="99.00" y="395.00" width="12.00" height="3.00" rx="4.32" ry="1.50" fill="#000" fill-opacity="0.2"/>
<rect x="116.00" y="390.60" width="14.00" height="4.40" rx="5.04" ry="2.20" fill="#000" fill-opacity="0.95"/>
<rect x="117.50" y="391.00" width="11.00" height="3.00" rx="3.96" ry="1.50" fill="#000" fill-opacity="0.6"/>
<rect x="116.50" y="395.75" width="13.00" height="3.50" rx="4.68" ry="1.75" fill="#000" fill-opacity="0.4"/>
<rect x="135.25" y="391.50" width="12.50" height="2.60" rx="4.50" ry="1.30" fill="#000" fill-opacity="0.7"/>
<rect x="153.25" y="392.00" width="13.50" height="4.00" rx="4.86" ry="2.00" fill="#000" fill-opacity="0.85"/>
<rect x="153.50" y="396.00" width="13.00" height="4.00" rx="4.68" ry="2.00" fill="#000" fill-opacity="0.55"/>
<rect x="154.00" y="400.50" width="12.00" height="3.00" rx="4.32" ry="1.50" fill="#000" fill-opacity="0.2"/>
<rect x="171.65" y="391.90" width="13.50" height="3.40" rx="4.86" ry="1.70" fill="#000" fill-opacity="0.85"/>
<rect x="172.40" y="396.50" width="12.00" height="3.00" rx="4.32" ry="1.50" fill="#000" fill-opacity="0.25"/>
</g></g>
<text x="191.00" y="397.00">CDH1</text>
<text x="35.00" y="419.00" text-anchor="end">130</text>
<line x1="37.30" y1="415.80" x2="40.80" y2="415.80" stroke="#111" stroke-width="0.8" />
<clipPath id="bc8"><rect x="41.40" y="407.10" width="146.80" height="23.80"/></clipPath>
<rect x="41.40" y="407.10" width="146.80" height="23.80" fill="#e5e5e5"/>
<g clip-path="url(#bc8)"><g filter="url(#blur1_0)">
<rect x="45.00" y="417.80" width="14.00" height="3.60" rx="5.04" ry="1.80" fill="#000" fill-opacity="1"/>
<rect x="46.50" y="418.40" width="11.00" height="2.40" rx="3.96" ry="1.20" fill="#000" fill-opacity="0.6"/>
<rect x="62.50" y="418.80" width="14.00" height="3.60" rx="5.04" ry="1.80" fill="#000" fill-opacity="1"/>
<rect x="64.00" y="419.40" width="11.00" height="2.40" rx="3.96" ry="1.20" fill="#000" fill-opacity="0.6"/>
<rect x="80.25" y="418.00" width="13.50" height="3.60" rx="4.86" ry="1.80" fill="#000" fill-opacity="0.95"/>
<rect x="81.75" y="418.60" width="10.50" height="2.40" rx="3.78" ry="1.20" fill="#000" fill-opacity="0.6"/>
<rect x="99.50" y="419.00" width="11.00" height="3.60" rx="3.96" ry="1.80" fill="#000" fill-opacity="0.7"/>
<rect x="101.00" y="419.60" width="8.00" height="2.40" rx="2.88" ry="1.20" fill="#000" fill-opacity="0.6"/>
<rect x="116.50" y="418.80" width="14.00" height="3.60" rx="5.04" ry="1.80" fill="#000" fill-opacity="1"/>
<rect x="118.00" y="419.40" width="11.00" height="2.40" rx="3.96" ry="1.20" fill="#000" fill-opacity="0.6"/>
<rect x="135.00" y="418.20" width="14.00" height="3.60" rx="5.04" ry="1.80" fill="#000" fill-opacity="1"/>
<rect x="136.50" y="418.80" width="11.00" height="2.40" rx="3.96" ry="1.20" fill="#000" fill-opacity="0.6"/>
<rect x="153.50" y="418.40" width="14.00" height="3.60" rx="5.04" ry="1.80" fill="#000" fill-opacity="1"/>
<rect x="155.00" y="419.00" width="11.00" height="2.40" rx="3.96" ry="1.20" fill="#000" fill-opacity="0.6"/>
<rect x="171.75" y="417.00" width="14.50" height="3.60" rx="5.22" ry="1.80" fill="#000" fill-opacity="1"/>
<rect x="173.25" y="417.60" width="11.50" height="2.40" rx="4.14" ry="1.20" fill="#000" fill-opacity="0.6"/>
</g></g>
<text x="191.00" y="422.50">Vinculin</text>
<line x1="248.20" y1="205.50" x2="248.20" y2="304.00" stroke="#111" stroke-width="0.9" />
<line x1="247.80" y1="311.50" x2="247.80" y2="415.00" stroke="#111" stroke-width="0.9" />
<text x="256.80" y="253.50" text-anchor="middle" transform="rotate(-90 256.80 253.50)" textLength="40.5" lengthAdjust="spacingAndGlyphs">IP: CDH1</text>
<text x="257.40" y="364.00" text-anchor="middle" transform="rotate(-90 257.40 364.00)">Input</text>
<text x="281.10" y="174.80" font-size="13" font-weight="bold" stroke="#111" stroke-width="0.7" stroke-linejoin="round">d</text>
<text x="331.40" y="187.00" text-anchor="middle" textLength="34.5" lengthAdjust="spacingAndGlyphs">5 h after</text>
<text x="331.40" y="198.00" text-anchor="middle" textLength="38.5" lengthAdjust="spacingAndGlyphs">mit. stim.</text>
<line x1="309.70" y1="203.20" x2="353.20" y2="203.20" stroke="#888" stroke-width="1.0" />
<text x="284.50" y="214.30">kDa</text>
<text x="321.90" y="214.10" text-anchor="middle">–</text>
<text x="342.40" y="215.00" text-anchor="middle">+</text>
<text x="357.60" y="214.30" textLength="44.4" lengthAdjust="spacingAndGlyphs">PPase inh.</text>
<text x="302.00" y="226.10" text-anchor="end">250</text>
<line x1="304.20" y1="222.90" x2="307.60" y2="222.90" stroke="#111" stroke-width="0.8" />
<text x="302.00" y="313.00" text-anchor="end">35</text>
<line x1="304.20" y1="309.80" x2="307.60" y2="309.80" stroke="#111" stroke-width="0.8" />
<text x="302.00" y="338.70" text-anchor="end">35</text>
<line x1="304.20" y1="335.50" x2="307.60" y2="335.50" stroke="#111" stroke-width="0.8" />
<text x="302.00" y="356.00" text-anchor="end">50</text>
<line x1="304.20" y1="352.80" x2="307.60" y2="352.80" stroke="#111" stroke-width="0.8" />
<defs><linearGradient id="dg" x1="0" y1="0" x2="0" y2="1"><stop offset="0" stop-color="#e6e6e6"/><stop offset="0.25" stop-color="#dcdcdc"/><stop offset="0.5" stop-color="#cfcfcf"/><stop offset="1" stop-color="#c8c8c8"/></linearGradient></defs>
<clipPath id="dcl"><rect x="309.2" y="218" width="45" height="103.8"/></clipPath>
<rect x="309.2" y="218" width="45" height="103.8" fill="url(#dg)"/>
<g clip-path="url(#dcl)">
<g filter="url(#blur2_5)">
<linearGradient id="sm0" x1="0" y1="0" x2="0" y2="1"><stop offset="0" stop-color="#000" stop-opacity="0.000"/><stop offset="0.1" stop-color="#000" stop-opacity="0.040"/><stop offset="0.2" stop-color="#000" stop-opacity="0.120"/><stop offset="0.3" stop-color="#000" stop-opacity="0.270"/><stop offset="0.4" stop-color="#000" stop-opacity="0.420"/><stop offset="0.5" stop-color="#000" stop-opacity="0.470"/><stop offset="0.62" stop-color="#000" stop-opacity="0.460"/><stop offset="0.75" stop-color="#000" stop-opacity="0.520"/><stop offset="0.88" stop-color="#000" stop-opacity="0.580"/><stop offset="1" stop-color="#000" stop-opacity="0.500"/></linearGradient>
<path d="M319.3,222 L324.3,222 L328.8,250 L330.40000000000003,275 L330.6,324 L313.0,324 L313.2,275 L314.8,250 Z" fill="url(#sm0)"/>
<linearGradient id="sm1" x1="0" y1="0" x2="0" y2="1"><stop offset="0" stop-color="#000" stop-opacity="0.000"/><stop offset="0.1" stop-color="#000" stop-opacity="0.027"/><stop offset="0.2" stop-color="#000" stop-opacity="0.082"/><stop offset="0.3" stop-color="#000" stop-opacity="0.184"/><stop offset="0.4" stop-color="#000" stop-opacity="0.286"/><stop offset="0.5" stop-color="#000" stop-opacity="0.320"/><stop offset="0.62" stop-color="#000" stop-opacity="0.313"/><stop offset="0.75" stop-color="#000" stop-opacity="0.354"/><stop offset="0.88" stop-color="#000" stop-opacity="0.394"/><stop offset="1" stop-color="#000" stop-opacity="0.340"/></linearGradient>
<path d="M339.1,222 L344.1,222 L348.6,250 L350.20000000000005,275 L350.40000000000003,324 L332.8,324 L333.0,275 L334.6,250 Z" fill="url(#sm1)"/>
</g>
<g filter="url(#blur1_6)">
<rect x="313.6" y="263.0" width="7.5" height="9" rx="3.0" fill="#000" fill-opacity="0.9"/>
<rect x="322.8" y="263.0" width="7.5" height="9" rx="3.0" fill="#000" fill-opacity="0.9"/>
<rect x="314.3" y="264.0" width="15" height="7" rx="3.0" fill="#000" fill-opacity="0.55"/>
<rect x="314.3" y="279.0" width="15" height="2.6" rx="1.3" fill="#000" fill-opacity="0.4"/>
<rect x="313.8" y="290.0" width="16" height="7" rx="3.0" fill="#000" fill-opacity="0.5"/>
<rect x="312.8" y="302.0" width="18" height="15" rx="3.0" fill="#000" fill-opacity="1"/>
<rect x="313.8" y="303.2" width="16" height="12.5" rx="3.0" fill="#000" fill-opacity="1"/>
<rect x="334.1" y="263.8" width="15" height="7.5" rx="3.0" fill="#000" fill-opacity="0.42"/>
<rect x="343.0" y="263.5" width="5" height="7" rx="3.0" fill="#000" fill-opacity="0.3"/>
<rect x="334.1" y="279.0" width="15" height="2.6" rx="1.3" fill="#000" fill-opacity="0.3"/>
<rect x="333.9" y="290.0" width="15.5" height="7" rx="3.0" fill="#000" fill-opacity="0.42"/>
<rect x="332.9" y="302.2" width="17.5" height="14.5" rx="3.0" fill="#000" fill-opacity="1"/>
<rect x="333.9" y="303.5" width="15.5" height="12" rx="3.0" fill="#000" fill-opacity="1"/>
</g></g>
<clipPath id="bc9"><rect x="309.20" y="326.60" width="45.00" height="18.30"/></clipPath>
<rect x="309.20" y="326.60" width="45.00" height="18.30" fill="#d6d6d6"/>
<g clip-path="url(#bc9)"><g filter="url(#blur1_0)">
<rect x="314.80" y="334.90" width="14.00" height="1.80" rx="5.04" ry="0.90" fill="#000" fill-opacity="0.3"/>
<rect x="334.60" y="334.60" width="14.00" height="2.00" rx="5.04" ry="1.00" fill="#000" fill-opacity="0.5"/>
<rect x="314.80" y="337.50" width="14.00" height="5.00" rx="5.04" ry="2.50" fill="#000" fill-opacity="0.05"/>
<rect x="334.60" y="337.50" width="14.00" height="5.00" rx="5.04" ry="2.50" fill="#000" fill-opacity="0.05"/>
</g></g>
<clipPath id="bc10"><rect x="309.20" y="344.90" width="45.00" height="20.80"/></clipPath>
<rect x="309.20" y="344.90" width="45.00" height="20.80" fill="#ebebeb"/>
<g clip-path="url(#bc10)"><g filter="url(#blur1_0)">
<rect x="314.30" y="354.40" width="15.00" height="2.80" rx="5.40" ry="1.40" fill="#000" fill-opacity="0.62"/>
<rect x="334.10" y="354.20" width="15.00" height="2.80" rx="5.40" ry="1.40" fill="#000" fill-opacity="0.62"/>
<rect x="315.80" y="355.00" width="12.00" height="1.60" rx="4.32" ry="0.80" fill="#000" fill-opacity="0.3"/>
<rect x="335.60" y="354.80" width="12.00" height="1.60" rx="4.32" ry="0.80" fill="#000" fill-opacity="0.3"/>
</g></g>
<text x="357.60" y="337.80" textLength="36.5" lengthAdjust="spacingAndGlyphs">mCherry</text>
<text x="357.60" y="359.30">Actin</text>
<line x1="403.60" y1="222.00" x2="403.60" y2="320.30" stroke="#111" stroke-width="0.9" />
<line x1="403.60" y1="323.20" x2="403.60" y2="361.60" stroke="#111" stroke-width="0.9" />
<text x="415.30" y="270.00" text-anchor="middle" transform="rotate(-90 415.30 270.00)" textLength="86.0" lengthAdjust="spacingAndGlyphs">IP: mCherry–APC/C-</text>
<text x="425.60" y="270.00" text-anchor="middle" transform="rotate(-90 425.60 270.00)" textLength="84.0" lengthAdjust="spacingAndGlyphs">degron, IB: ubiquitin</text>
<text x="415.30" y="343.00" text-anchor="middle" transform="rotate(-90 415.30 343.00)">Input</text>
<text x="458.50" y="195.00" font-size="13" font-weight="bold" stroke="#111" stroke-width="0.7" stroke-linejoin="round">e</text>
<text x="478.30" y="197.00">–48</text>
<line x1="485.60" y1="205.70" x2="601.80" y2="205.70" stroke="#111" stroke-width="0.8" />
<line x1="485.60" y1="202.00" x2="485.60" y2="209.30" stroke="#111" stroke-width="0.8" />
<line x1="567.70" y1="202.00" x2="567.70" y2="209.30" stroke="#111" stroke-width="0.8" />
<line x1="579.00" y1="202.00" x2="579.00" y2="209.30" stroke="#111" stroke-width="0.8" />
<line x1="590.70" y1="202.00" x2="590.70" y2="209.30" stroke="#111" stroke-width="0.8" />
<line x1="601.80" y1="202.00" x2="601.80" y2="209.30" stroke="#111" stroke-width="0.8" />
<text x="567.70" y="197.00" text-anchor="middle">0</text>
<text x="579.00" y="197.00" text-anchor="middle">1</text>
<text x="590.70" y="197.00" text-anchor="middle">2</text>
<text x="601.80" y="197.00" text-anchor="middle">3</text>
<text x="607.70" y="197.00" textLength="32.7" lengthAdjust="spacingAndGlyphs">Time (h)</text>
<line x1="485.60" y1="222.60" x2="485.60" y2="215.50" stroke="#111" stroke-width="0.9" />
<path d="M485.60,211.90L487.70,217.30L485.60,215.68L483.50,217.30Z" fill="#111"/>
<line x1="567.70" y1="222.60" x2="567.70" y2="215.50" stroke="#111" stroke-width="0.9" />
<path d="M567.70,211.90L569.80,217.30L567.70,215.68L565.60,217.30Z" fill="#111"/>
<text x="486.50" y="234.60" text-anchor="middle" textLength="34.0" lengthAdjust="spacingAndGlyphs">Mitogen</text>
<text x="486.50" y="244.90" text-anchor="middle" textLength="45.5" lengthAdjust="spacingAndGlyphs">withdrawal</text>
<text x="566.80" y="234.60" text-anchor="middle" textLength="69.5" lengthAdjust="spacingAndGlyphs">DMSO or mTORi</text>
<text x="566.80" y="244.90" text-anchor="middle" textLength="38.5" lengthAdjust="spacingAndGlyphs">mit. stim.</text>
<rect x="520" y="320.17" width="14.70" height="63.73" fill="#a3a3a3"/>
<rect x="539.6" y="378.06" width="14.10" height="5.84" fill="#a3a3a3"/>
<rect x="558.6" y="370.76" width="14.10" height="13.14" fill="#a3a3a3"/>
<rect x="577.6" y="344.49" width="14.10" height="39.41" fill="#a3a3a3"/>
<rect x="596.9" y="309.47" width="14.30" height="74.43" fill="#a3a3a3"/>
<line x1="514.20" y1="286.20" x2="514.20" y2="383.90" stroke="#111" stroke-width="0.8" />
<line x1="513.80" y1="383.90" x2="616.40" y2="383.90" stroke="#111" stroke-width="0.8" />
<line x1="511.40" y1="383.90" x2="514.20" y2="383.90" stroke="#111" stroke-width="0.8" />
<text x="508.40" y="387.20" text-anchor="end">0</text>
<line x1="511.40" y1="359.57" x2="514.20" y2="359.57" stroke="#111" stroke-width="0.8" />
<text x="508.40" y="362.88" text-anchor="end">25</text>
<line x1="511.40" y1="335.25" x2="514.20" y2="335.25" stroke="#111" stroke-width="0.8" />
<text x="508.40" y="338.55" text-anchor="end">50</text>
<line x1="511.40" y1="310.93" x2="514.20" y2="310.93" stroke="#111" stroke-width="0.8" />
<text x="508.40" y="314.23" text-anchor="end">75</text>
<line x1="511.40" y1="286.60" x2="514.20" y2="286.60" stroke="#111" stroke-width="0.8" />
<text x="508.40" y="289.90" text-anchor="end">100</text>
<line x1="527.40" y1="310.30" x2="527.40" y2="329.30" stroke="#111" stroke-width="0.85" />
<line x1="523.10" y1="310.30" x2="531.70" y2="310.30" stroke="#111" stroke-width="0.85" />
<line x1="523.10" y1="329.30" x2="531.70" y2="329.30" stroke="#111" stroke-width="0.85" />
<line x1="546.60" y1="370.70" x2="546.60" y2="383.90" stroke="#111" stroke-width="0.85" />
<line x1="542.30" y1="370.70" x2="550.90" y2="370.70" stroke="#111" stroke-width="0.85" />
<line x1="565.70" y1="357.00" x2="565.70" y2="381.00" stroke="#111" stroke-width="0.85" />
<line x1="561.40" y1="357.00" x2="570.00" y2="357.00" stroke="#111" stroke-width="0.85" />
<line x1="561.40" y1="381.00" x2="570.00" y2="381.00" stroke="#111" stroke-width="0.85" />
<line x1="584.70" y1="321.10" x2="584.70" y2="366.40" stroke="#111" stroke-width="0.85" />
<line x1="580.40" y1="321.10" x2="589.00" y2="321.10" stroke="#111" stroke-width="0.85" />
<line x1="580.40" y1="366.40" x2="589.00" y2="366.40" stroke="#111" stroke-width="0.85" />
<line x1="604.00" y1="291.90" x2="604.00" y2="325.50" stroke="#111" stroke-width="0.85" />
<line x1="599.70" y1="291.90" x2="608.30" y2="291.90" stroke="#111" stroke-width="0.85" />
<line x1="599.70" y1="325.50" x2="608.30" y2="325.50" stroke="#111" stroke-width="0.85" />
<circle cx="527.4" cy="305.9" r="1.45" fill="#111"/>
<circle cx="533.2" cy="318.2" r="1.45" fill="#111"/>
<circle cx="523" cy="322.6" r="1.45" fill="#111"/>
<circle cx="531.8" cy="322.6" r="1.45" fill="#111"/>
<circle cx="527.4" cy="329.3" r="1.45" fill="#111"/>
<circle cx="546.4" cy="366.9" r="1.45" fill="#111"/>
<circle cx="552.2" cy="375.7" r="1.45" fill="#111"/>
<circle cx="541.1" cy="378.9" r="1.45" fill="#111"/>
<circle cx="551.3" cy="381.8" r="1.45" fill="#111"/>
<circle cx="546.4" cy="383" r="1.45" fill="#111"/>
<circle cx="565.9" cy="348.8" r="1.45" fill="#111"/>
<circle cx="560.4" cy="371.3" r="1.45" fill="#111"/>
<circle cx="570.3" cy="372.2" r="1.45" fill="#111"/>
<circle cx="565.9" cy="375.1" r="1.45" fill="#111"/>
<circle cx="565.9" cy="380.4" r="1.45" fill="#111"/>
<circle cx="584.9" cy="308.5" r="1.45" fill="#111"/>
<circle cx="584.9" cy="336.6" r="1.45" fill="#111"/>
<circle cx="584.9" cy="348" r="1.45" fill="#111"/>
<circle cx="584.9" cy="359" r="1.45" fill="#111"/>
<circle cx="584.9" cy="365.8" r="1.45" fill="#111"/>
<circle cx="603.9" cy="286.6" r="1.45" fill="#111"/>
<circle cx="603.9" cy="305" r="1.45" fill="#111"/>
<circle cx="609.1" cy="320.5" r="1.45" fill="#111"/>
<circle cx="598.9" cy="322.6" r="1.45" fill="#111"/>
<text x="546.60" y="397.70" text-anchor="middle">0</text>
<text x="565.60" y="397.70" text-anchor="middle">1</text>
<text x="584.60" y="397.70" text-anchor="middle">2</text>
<text x="604.00" y="397.70" text-anchor="middle">3</text>
<text x="531.80" y="393.20" text-anchor="end" transform="rotate(-45 531.80 393.20)" textLength="28.0" lengthAdjust="spacingAndGlyphs">DMSO</text>
<line x1="544.90" y1="402.30" x2="606.20" y2="402.30" stroke="#666" stroke-width="1.1" />
<text x="572.60" y="411.70" text-anchor="middle" textLength="41.0" lengthAdjust="spacingAndGlyphs">mTORi (h)</text>
<text x="467.30" y="334.20" text-anchor="middle" transform="rotate(-90 467.30 334.20)" textLength="73.0" lengthAdjust="spacingAndGlyphs">Percentage of the</text>
<text x="478.10" y="334.20" text-anchor="middle" transform="rotate(-90 478.10 334.20)" textLength="102.0" lengthAdjust="spacingAndGlyphs">population with transient</text>
<text x="488.90" y="334.20" text-anchor="middle" transform="rotate(-90 488.90 334.20)" textLength="79.0" lengthAdjust="spacingAndGlyphs">APC/C inactivation</text>
<path d="M526.8,269.3L526.8,266.7L603.9,266.7L603.9,269.3" stroke="#111" stroke-width="0.75" fill="none" />
<path d="M526.8,282.5L526.8,279.9L584.3,279.9L584.3,282.5" stroke="#111" stroke-width="0.75" fill="none" />
<path d="M526.8,293.0L526.8,290.4L565.3,290.4L565.3,293.0" stroke="#111" stroke-width="0.75" fill="none" />
<path d="M526.8,302.8L526.8,300.2L546.4,300.2L546.4,302.8" stroke="#111" stroke-width="0.75" fill="none" />
<text x="565.3" y="263.2" text-anchor="middle">NS (<tspan font-style="italic">P</tspan> &gt; 0.99)</text>
<text x="556.6" y="276.4" text-anchor="middle">NS (<tspan font-style="italic">P</tspan> &gt; 0.99)</text>
<text x="528.8" y="287.4" text-anchor="start"><tspan font-style="italic">P</tspan> = 0.0491</text>
<text x="516.6" y="298.2" text-anchor="start"><tspan font-style="italic">P</tspan> = 0.006</text>
<text x="-1.20" y="451.80" font-size="13" font-weight="bold" stroke="#111" stroke-width="0.7" stroke-linejoin="round">f</text>
<line x1="58.80" y1="452.30" x2="68.70" y2="452.30" stroke="#777" stroke-width="1.2" />
<text x="74.10" y="455.20" textLength="41.5" lengthAdjust="spacingAndGlyphs">Quiescent</text>
<line x1="58.80" y1="464.90" x2="68.70" y2="464.90" stroke="#ed1c24" stroke-width="1.3" />
<text x="74.10" y="468.00" textLength="38.5" lengthAdjust="spacingAndGlyphs">Mit. stim.</text>
<line x1="58.80" y1="478.40" x2="68.70" y2="478.40" stroke="#111" stroke-width="1.5" />
<text x="74.10" y="481.30" textLength="38.5" lengthAdjust="spacingAndGlyphs">Mit. stim.</text>
<text x="74.10" y="492.50" textLength="52.5" lengthAdjust="spacingAndGlyphs">+ PPase inh.</text>
<line x1="49.80" y1="480.80" x2="49.80" y2="572.70" stroke="#111" stroke-width="0.8" />
<line x1="49.40" y1="572.70" x2="147.00" y2="572.70" stroke="#111" stroke-width="0.8" />
<line x1="47.00" y1="572.70" x2="49.80" y2="572.70" stroke="#111" stroke-width="0.8" />
<text x="44.80" y="576.00" text-anchor="end">0</text>
<line x1="47.00" y1="542.20" x2="49.80" y2="542.20" stroke="#111" stroke-width="0.8" />
<text x="44.80" y="545.50" text-anchor="end">10</text>
<line x1="47.00" y1="511.70" x2="49.80" y2="511.70" stroke="#111" stroke-width="0.8" />
<text x="44.80" y="515.00" text-anchor="end">20</text>
<line x1="47.00" y1="481.20" x2="49.80" y2="481.20" stroke="#111" stroke-width="0.8" />
<text x="44.80" y="484.50" text-anchor="end">30</text>
<line x1="49.80" y1="572.70" x2="49.80" y2="575.50" stroke="#111" stroke-width="0.8" />
<text x="49.80" y="586.10" text-anchor="middle">0</text>
<line x1="77.57" y1="572.70" x2="77.57" y2="575.50" stroke="#111" stroke-width="0.8" />
<text x="77.57" y="586.10" text-anchor="middle">2</text>
<line x1="105.34" y1="572.70" x2="105.34" y2="575.50" stroke="#111" stroke-width="0.8" />
<text x="105.34" y="586.10" text-anchor="middle">4</text>
<line x1="133.11" y1="572.70" x2="133.11" y2="575.50" stroke="#111" stroke-width="0.8" />
<text x="133.11" y="586.10" text-anchor="middle">6</text>
<text x="98.30" y="601.60" text-anchor="middle" textLength="97.2" lengthAdjust="spacingAndGlyphs">Time after treatment (h)</text>
<text x="14.40" y="526.80" text-anchor="middle" transform="rotate(-90 14.40 526.80)" textLength="93.0" lengthAdjust="spacingAndGlyphs">Median APC/C degron</text>
<text x="25.20" y="526.80" text-anchor="middle" transform="rotate(-90 25.20 526.80)" textLength="51.0" lengthAdjust="spacingAndGlyphs">levels (a.u.)</text>
<line x1="49.80" y1="531.30" x2="105.20" y2="531.30" stroke="#555" stroke-width="0.5" stroke-dasharray="1.6,1.3"/>
<line x1="105.20" y1="531.30" x2="105.20" y2="572.70" stroke="#555" stroke-width="0.5" stroke-dasharray="1.6,1.3"/>
<path d="M49.80,567.21L53.97,568.43L59.52,568.74L63.69,567.21L67.85,567.51L73.41,566.91L77.57,565.99L84.51,565.99L91.46,565.38L98.40,565.69L105.34,565.08L109.51,565.99L115.06,566.30L119.23,565.69L126.17,566.60L133.11,565.99L135.89,565.38L140.06,565.99L147.00,565.69" stroke="#777" stroke-width="1.4" fill="none" stroke-linejoin="round"/>
<path d="M49.80,564.16L55.35,565.08L60.91,564.16L63.69,562.94L67.85,562.33L73.41,559.59L77.57,555.93L81.74,553.49L85.90,549.83L91.46,542.81L95.62,540.07L99.79,536.71L103.95,533.66L106.73,531.22L109.51,532.75L112.29,532.13L115.06,531.22L117.84,533.36L120.62,532.44L123.39,536.71L127.56,538.24L130.34,540.68L133.11,541.89L135.89,541.59L140.06,544.34L144.22,546.17L147.00,547.38" stroke="#ed1c24" stroke-width="1.4" fill="none" stroke-linejoin="round"/>
<path d="M49.80,563.25L56.74,562.94L60.91,561.11L63.69,559.59L67.85,559.28L73.41,556.84L77.57,553.49L81.74,551.05L85.90,547.38L91.46,540.68L94.23,538.54L97.01,537.62L101.18,533.66L105.34,526.95L107.43,524.21L109.51,523.90L112.29,520.24L115.06,516.27L117.15,515.66L119.23,511.09L120.62,508.04L122.70,511.09L124.78,507.74L126.17,505.60L128.95,508.04L131.73,507.12L133.11,503.16L135.89,497.67L140.06,494.93L143.53,491.88L144.92,492.79L147.00,495.23" stroke="#111" stroke-width="1.5" fill="none" stroke-linejoin="round"/>
<text x="204.80" y="451.60" font-size="13" font-weight="bold" stroke="#111" stroke-width="0.7" stroke-linejoin="round">g</text>
<text x="272.00" y="459.60" text-anchor="middle" textLength="68.0" lengthAdjust="spacingAndGlyphs">Transient APC/C</text>
<text x="272.00" y="470.00" text-anchor="middle" textLength="48.0" lengthAdjust="spacingAndGlyphs">inactivation</text>
<path d="M248,479.4L248,474L296.4,474L296.4,479.4" stroke="#111" stroke-width="0.9" fill="none" />
<path d="M239.90,573.60L240.66,564.80L241.43,555.86L242.19,547.46L242.96,540.19L243.72,533.77L244.49,528.19L245.25,523.60L246.02,520.00L246.78,517.09L247.55,514.70L248.31,512.69L249.08,510.91L249.84,509.43L250.61,508.33L251.38,507.51L252.14,506.87L252.91,506.31L253.67,505.82L254.44,505.42L255.20,505.09L255.97,504.82L256.73,504.59L257.50,504.38L258.26,504.17L259.02,503.98L259.79,503.82L260.56,503.69L261.32,503.57L262.08,503.47L262.85,503.38L263.62,503.28L264.38,503.18L265.14,503.07L265.91,502.96L266.68,502.86L267.44,502.75L268.20,502.65L268.97,502.55L269.66,502.46L269.74,502.45L270.19,502.39L270.27,502.94L270.50,504.51L270.88,507.21L271.26,510.67L271.65,515.14L272.03,519.25L272.41,522.65L272.80,525.94L273.18,529.02L273.56,531.82L273.94,534.23L274.32,536.42L275.09,540.39L275.86,543.80L276.62,546.61L277.38,548.92L278.15,550.85L278.92,552.48L279.68,553.87L280.44,555.09L281.21,556.15L281.98,557.06L282.74,557.82L283.50,558.46L284.27,558.99L285.03,559.44L285.80,559.80L286.56,560.10L287.33,560.32L288.10,560.49L288.86,560.62L289.62,560.72L290.39,560.79L291.15,560.86L291.92,560.91L292.69,560.96L293.45,561.01L294.21,561.04L294.98,561.07L295.75,561.10L296.51,561.12L297.27,561.14L298.04,561.15L298.81,561.16L299.57,561.17L300.33,561.17L301.10,561.17L301.87,561.17L302.63,561.17L303.39,561.17L304.16,561.16L304.93,561.16L305.69,561.15L306.45,561.15L307.22,561.14L307.99,561.14L308.75,561.13L309.51,561.13L310.28,561.12L311.05,561.11L311.81,561.10L312.57,561.09L313.34,561.08L314.11,561.06L314.87,561.05L315.63,561.04L316.40,561.02L317.16,561.01L317.93,560.99L318.69,560.97L319.46,560.95L320.23,560.94L320.99,560.92L321.75,560.90L322.52,560.88L323.28,560.86L324.05,560.84L324.81,560.83L325.58,560.81L326.35,560.79L327.11,560.77L327.88,560.75L328.64,560.73L329.40,560.72L330.17,560.70L330.94,560.68L331.70,560.67" stroke="#4fb860" stroke-width="1.35" fill="none" stroke-linejoin="round" />
<path d="M239.90,573.60L240.66,554.18L241.43,539.05L242.19,527.28L242.96,518.10L243.72,510.96L244.49,505.39L245.25,501.06L246.02,497.69L246.78,495.06L247.55,493.01L248.31,491.42L249.08,490.17L249.84,489.21L250.61,488.45L251.38,487.87L252.14,487.41L252.91,487.06L253.67,486.78L254.44,486.56L255.20,486.39L255.97,486.26L256.73,486.16L257.50,486.08L258.26,486.02L259.02,485.97L259.79,485.94L260.56,485.91L261.32,485.88L262.08,485.87L262.85,485.85L263.62,485.84L264.38,485.83L265.14,485.83L265.91,485.82L266.68,485.82L267.44,485.81L268.20,485.81L268.97,485.81L269.66,485.81L269.74,485.81L270.19,485.81L270.27,485.81L270.50,485.81L270.88,485.81L271.26,485.81L271.65,485.81L272.03,485.81L272.41,485.81L272.80,485.80L273.18,485.80L273.56,485.80L273.94,485.80L274.32,485.80L275.09,485.80L275.86,485.80L276.62,485.80L277.38,485.80L278.15,485.80L278.92,485.80L279.68,485.80L280.44,485.80L281.21,485.80L281.98,485.80L282.74,485.80L283.50,485.80L284.27,485.80L285.03,485.80L285.80,485.80L286.56,485.80L287.33,485.80L288.10,485.80L288.86,485.80L289.62,485.80L290.39,485.80L291.15,485.80L291.92,485.80L292.69,485.80L293.45,485.80L294.21,485.80L294.98,485.80L295.75,485.80L296.51,485.80L297.27,485.80L298.04,485.80L298.81,485.80L299.57,485.80L300.33,485.80L301.10,485.80L301.87,485.80L302.63,485.80L303.39,485.80L304.16,485.80L304.93,485.80L305.69,485.80L306.45,485.80L307.22,485.80L307.99,485.80L308.75,485.80L309.51,485.80L310.28,485.80L311.05,485.80L311.81,485.80L312.57,485.80L313.34,485.80L314.11,485.80L314.87,485.80L315.63,485.80L316.40,485.80L317.16,485.80L317.93,485.80L318.69,485.80L319.46,485.80L320.23,485.80L320.99,485.80L321.75,485.80L322.52,485.80L323.28,485.80L324.05,485.80L324.81,485.80L325.58,485.80L326.35,485.80L327.11,485.80L327.88,485.80L328.64,485.80L329.40,485.80L330.17,485.80L330.94,485.80L331.70,485.80" stroke="#a020f0" stroke-width="1.5" fill="none" stroke-linejoin="round" />
<path d="M239.90,573.60L240.66,573.60L241.43,573.60L242.19,573.60L242.96,573.60L243.72,573.60L244.49,573.60L245.25,573.60L246.02,573.60L246.78,573.60L247.55,573.60L248.31,573.60L249.08,573.60L249.84,573.60L250.61,573.60L251.38,573.60L252.14,573.60L252.91,573.60L253.67,573.60L254.44,573.60L255.20,573.60L255.97,573.60L256.73,573.60L257.50,573.60L258.26,573.60L259.02,573.60L259.79,573.60L260.56,573.60L261.32,573.60L262.08,573.60L262.85,573.60L263.62,573.60L264.38,573.60L265.14,573.60L265.91,573.60L266.68,573.60L267.44,573.60L268.20,573.60L268.97,573.60L269.66,573.60L269.74,573.04L270.19,569.69L270.27,568.91L270.50,566.20L270.88,561.02L271.26,555.33L271.65,549.06L272.03,542.96L272.41,537.26L272.80,531.72L273.18,526.57L273.56,521.95L273.94,517.48L274.32,513.28L275.09,506.42L275.86,501.55L276.62,497.81L277.38,494.99L278.15,492.86L278.92,491.22L279.68,489.95L280.44,488.96L281.21,488.15L281.98,487.50L282.74,487.06L283.50,486.77L284.27,486.58L285.03,486.43L285.80,486.27L286.56,486.11L287.33,486.00L288.10,485.92L288.86,485.86L289.62,485.83L290.39,485.81L291.15,485.80L291.92,485.80L292.69,485.79L293.45,485.78L294.21,485.78L294.98,485.77L295.75,485.77L296.51,485.76L297.27,485.76L298.04,485.75L298.81,485.75L299.57,485.75L300.33,485.75L301.10,485.75L301.87,485.74L302.63,485.74L303.39,485.74L304.16,485.74L304.93,485.74L305.69,485.74L306.45,485.74L307.22,485.74L307.99,485.74L308.75,485.75L309.51,485.75L310.28,485.75L311.05,485.75L311.81,485.75L312.57,485.75L313.34,485.76L314.11,485.76L314.87,485.76L315.63,485.76L316.40,485.77L317.16,485.77L317.93,485.77L318.69,485.77L319.46,485.78L320.23,485.78L320.99,485.78L321.75,485.78L322.52,485.79L323.28,485.79L324.05,485.79L324.81,485.79L325.58,485.80L326.35,485.80L327.11,485.80L327.88,485.80L328.64,485.80L329.40,485.80L330.17,485.80L330.94,485.80L331.70,485.80" stroke="#22b0ee" stroke-width="1.5" fill="none" stroke-linejoin="round" />
<path d="M239.90,572.19L240.66,570.63L241.43,569.03L242.19,567.43L242.96,565.83L243.72,564.28L244.49,562.80L245.25,561.40L246.02,560.13L246.78,559.00L247.55,557.95L248.31,556.97L249.08,556.02L249.84,555.06L250.61,554.06L251.38,553.06L252.14,552.07L252.91,551.13L253.67,550.25L254.44,549.47L255.20,548.80L255.97,548.19L256.73,547.63L257.50,547.13L258.26,546.66L259.02,546.23L259.79,545.83L260.56,545.46L261.32,545.12L262.08,544.82L262.85,544.56L263.62,544.33L264.38,544.11L265.14,543.92L265.91,543.73L266.68,543.56L267.44,543.41L268.20,543.30L268.97,543.23L269.66,543.22L269.74,543.22L270.19,543.24L270.27,543.25L270.50,543.26L270.88,543.30L271.26,543.37L271.65,543.47L272.03,543.64L272.41,543.88L272.80,544.21L273.18,544.64L273.56,545.20L273.94,545.85L274.32,546.57L275.09,548.11L275.86,549.63L276.62,551.18L277.38,552.80L278.15,554.39L278.92,555.86L279.68,557.12L280.44,558.25L281.21,559.25L281.98,560.13L282.74,560.88L283.50,561.49L284.27,562.00L285.03,562.42L285.80,562.76L286.56,563.05L287.33,563.30L288.10,563.52L288.86,563.71L289.62,563.88L290.39,564.03L291.15,564.17L291.92,564.28L292.69,564.38L293.45,564.47L294.21,564.54L294.98,564.60L295.75,564.66L296.51,564.71L297.27,564.76L298.04,564.79L298.81,564.83L299.57,564.85L300.33,564.88L301.10,564.90L301.87,564.91L302.63,564.93L303.39,564.94L304.16,564.95L304.93,564.95L305.69,564.96L306.45,564.97L307.22,564.97L307.99,564.98L308.75,564.99L309.51,565.00L310.28,565.00L311.05,565.00L311.81,565.01L312.57,565.01L313.34,565.01L314.11,565.01L314.87,565.02L315.63,565.02L316.40,565.02L317.16,565.01L317.93,565.01L318.69,565.01L319.46,565.01L320.23,565.01L320.99,565.01L321.75,565.00L322.52,565.00L323.28,565.00L324.05,565.00L324.81,564.99L325.58,564.99L326.35,564.99L327.11,564.99L327.88,564.98L328.64,564.98L329.40,564.98L330.17,564.98L330.94,564.98L331.70,564.98" stroke="#ee1c25" stroke-width="1.5" fill="none" stroke-linejoin="round" />
<path d="M239.90,479.90L240.66,482.85L241.43,485.80L242.19,488.75L242.96,491.69L243.72,494.72L244.49,497.69L245.25,500.40L246.02,502.81L246.78,505.17L247.55,507.43L248.31,509.57L249.08,511.54L249.84,513.31L250.61,514.84L251.38,516.16L252.14,517.30L252.91,518.29L253.67,519.17L254.44,519.95L255.20,520.65L255.97,521.24L256.73,521.74L257.50,522.17L258.26,522.55L259.02,522.90L259.79,523.24L260.56,523.58L261.32,523.88L262.08,524.15L262.85,524.39L263.62,524.60L264.38,524.79L265.14,524.96L265.91,525.12L266.68,525.23L267.44,525.28L268.20,525.29L268.97,525.25L269.66,525.17L269.74,525.15L270.19,525.04L270.27,525.02L270.50,524.95L270.88,524.80L271.26,524.62L271.65,524.45L272.03,524.29L272.41,524.11L272.80,523.89L273.18,523.60L273.56,523.21L273.94,522.70L274.32,522.11L275.09,520.75L275.86,519.21L276.62,517.55L277.38,515.85L278.15,514.06L278.92,512.11L279.68,510.10L280.44,508.16L281.21,506.42L281.98,504.82L282.74,503.26L283.50,501.78L284.27,500.41L285.03,499.20L285.80,498.17L286.56,497.33L287.33,496.63L288.10,496.05L288.86,495.57L289.62,495.17L290.39,494.82L291.15,494.52L291.92,494.25L292.69,494.03L293.45,493.85L294.21,493.70L294.98,493.58L295.75,493.48L296.51,493.40L297.27,493.33L298.04,493.27L298.81,493.21L299.57,493.14L300.33,493.09L301.10,493.04L301.87,492.99L302.63,492.96L303.39,492.92L304.16,492.89L304.93,492.87L305.69,492.85L306.45,492.83L307.22,492.81L307.99,492.80L308.75,492.78L309.51,492.77L310.28,492.76L311.05,492.74L311.81,492.73L312.57,492.71L313.34,492.70L314.11,492.69L314.87,492.67L315.63,492.66L316.40,492.66L317.16,492.65L317.93,492.65L318.69,492.65L319.46,492.66L320.23,492.67L320.99,492.69L321.75,492.71L322.52,492.74L323.28,492.77L324.05,492.82L324.81,492.88L325.58,492.95L326.35,493.02L327.11,493.10L327.88,493.18L328.64,493.26L329.40,493.35L330.17,493.43L330.94,493.51L331.70,493.58" stroke="#111" stroke-width="1.5" fill="none" stroke-linejoin="round" />
<path d="M239.90,479.90L240.66,480.74L241.43,481.57L242.19,482.71L242.96,484.19L243.72,485.84L244.49,487.63L245.25,489.53L246.02,491.54L246.78,493.66L247.55,495.84L248.31,498.04L249.08,500.23L249.84,502.35L250.61,504.42L251.38,506.52L252.14,508.60L252.91,510.62L253.67,512.51L254.44,514.25L255.20,515.81L255.97,517.29L256.73,518.67L257.50,519.97L258.26,521.18L259.02,522.31L259.79,523.36L260.56,524.31L261.32,525.15L262.08,525.86L262.85,526.46L263.62,526.93L264.38,527.29L265.14,527.50L265.91,527.46L266.68,527.22L267.44,526.86L268.20,526.47L268.97,526.12L269.66,525.81L269.74,525.78L270.19,525.53L270.27,525.48L270.50,525.33L270.88,525.04L271.26,524.69L271.65,524.26L272.03,523.75L272.41,523.15L272.80,522.46L273.18,521.69L273.56,520.86L273.94,519.98L274.32,519.05L275.09,517.10L275.86,515.10L276.62,512.89L277.38,510.51L278.15,508.10L278.92,505.80L279.68,503.74L280.44,501.78L281.21,499.93L281.98,498.24L282.74,496.80L283.50,495.63L284.27,494.65L285.03,493.84L285.80,493.15L286.56,492.55L287.33,492.01L288.10,491.51L288.86,491.07L289.62,490.70L290.39,490.39L291.15,490.12L291.92,489.88L292.69,489.67L293.45,489.48L294.21,489.30L294.98,489.14L295.75,489.00L296.51,488.87L297.27,488.75L298.04,488.64L298.81,488.54L299.57,488.44L300.33,488.35L301.10,488.27L301.87,488.19L302.63,488.10L303.39,488.02L304.16,487.93L304.93,487.84L305.69,487.76L306.45,487.69L307.22,487.62L307.99,487.57L308.75,487.54L309.51,487.52L310.28,487.53L311.05,487.56L311.81,487.62L312.57,487.70L313.34,487.81L314.11,487.93L314.87,488.08L315.63,488.24L316.40,488.42L317.16,488.61L317.93,488.81L318.69,489.02L319.46,489.23L320.23,489.44L320.99,489.67L321.75,489.93L322.52,490.22L323.28,490.54L324.05,490.86L324.81,491.19L325.58,491.51L326.35,491.80L327.11,492.07L327.88,492.33L328.64,492.59L329.40,492.83L330.17,493.08L330.94,493.33L331.70,493.58" stroke="#333" stroke-width="1.25" fill="none" stroke-linejoin="round" stroke-dasharray="2.2,1.2"/>
<path d="M239.90,572.19L240.66,571.03L241.43,569.83L242.19,568.63L242.96,567.44L243.72,566.29L244.49,565.18L245.25,564.15L246.02,563.23L246.78,562.47L247.55,561.80L248.31,561.14L249.08,560.41L249.84,559.55L250.61,558.50L251.38,557.27L252.14,555.95L252.91,554.62L253.67,553.36L254.44,552.25L255.20,551.30L255.97,550.42L256.73,549.59L257.50,548.83L258.26,548.12L259.02,547.46L259.79,546.85L260.56,546.28L261.32,545.79L262.08,545.35L262.85,544.97L263.62,544.62L264.38,544.29L265.14,543.99L265.91,543.68L266.68,543.42L267.44,543.20L268.20,543.05L268.97,542.97L269.66,542.96L269.74,542.96L270.19,542.97L270.27,542.97L270.50,542.99L270.88,543.03L271.26,543.09L271.65,543.18L272.03,543.31L272.41,543.48L272.80,543.70L273.18,543.98L273.56,544.34L273.94,544.78L274.32,545.28L275.09,546.43L275.86,547.73L276.62,549.20L277.38,550.82L278.15,552.46L278.92,554.01L279.68,555.39L280.44,556.70L281.21,557.93L281.98,559.03L282.74,559.97L283.50,560.72L284.27,561.34L285.03,561.85L285.80,562.27L286.56,562.61L287.33,562.91L288.10,563.16L288.86,563.38L289.62,563.58L290.39,563.75L291.15,563.89L291.92,564.01L292.69,564.12L293.45,564.20L294.21,564.27L294.98,564.32L295.75,564.37L296.51,564.41L297.27,564.44L298.04,564.46L298.81,564.48L299.57,564.49L300.33,564.49L301.10,564.49L301.87,564.48L302.63,564.47L303.39,564.46L304.16,564.44L304.93,564.42L305.69,564.40L306.45,564.37L307.22,564.34L307.99,564.32L308.75,564.29L309.51,564.26L310.28,564.23L311.05,564.20L311.81,564.16L312.57,564.12L313.34,564.08L314.11,564.03L314.87,563.98L315.63,563.93L316.40,563.86L317.16,563.79L317.93,563.72L318.69,563.63L319.46,563.54L320.23,563.44L320.99,563.33L321.75,563.20L322.52,563.06L323.28,562.90L324.05,562.74L324.81,562.56L325.58,562.38L326.35,562.19L327.11,562.00L327.88,561.80L328.64,561.61L329.40,561.41L330.17,561.22L330.94,561.04L331.70,560.86" stroke="#b01016" stroke-width="1.25" fill="none" stroke-linejoin="round" stroke-dasharray="2.2,1.2"/>
<line x1="239.90" y1="479.50" x2="239.90" y2="573.60" stroke="#111" stroke-width="0.8" />
<line x1="239.50" y1="573.60" x2="331.70" y2="573.60" stroke="#111" stroke-width="0.8" />
<line x1="237.10" y1="573.60" x2="239.90" y2="573.60" stroke="#111" stroke-width="0.8" />
<text x="234.80" y="576.90" text-anchor="end">0</text>
<line x1="237.10" y1="554.86" x2="239.90" y2="554.86" stroke="#111" stroke-width="0.8" />
<text x="234.80" y="558.16" text-anchor="end">0.2</text>
<line x1="237.10" y1="536.12" x2="239.90" y2="536.12" stroke="#111" stroke-width="0.8" />
<text x="234.80" y="539.42" text-anchor="end">0.4</text>
<line x1="237.10" y1="517.38" x2="239.90" y2="517.38" stroke="#111" stroke-width="0.8" />
<text x="234.80" y="520.68" text-anchor="end">0.6</text>
<line x1="237.10" y1="498.64" x2="239.90" y2="498.64" stroke="#111" stroke-width="0.8" />
<text x="234.80" y="501.94" text-anchor="end">0.8</text>
<line x1="237.10" y1="479.90" x2="239.90" y2="479.90" stroke="#111" stroke-width="0.8" />
<text x="234.80" y="483.20" text-anchor="end">1.0</text>
<line x1="239.90" y1="573.60" x2="239.90" y2="576.40" stroke="#111" stroke-width="0.8" />
<text x="239.90" y="586.70" text-anchor="middle">0</text>
<line x1="262.85" y1="573.60" x2="262.85" y2="576.40" stroke="#111" stroke-width="0.8" />
<text x="262.85" y="586.70" text-anchor="middle">3</text>
<line x1="285.80" y1="573.60" x2="285.80" y2="576.40" stroke="#111" stroke-width="0.8" />
<text x="285.80" y="586.70" text-anchor="middle">6</text>
<line x1="308.75" y1="573.60" x2="308.75" y2="576.40" stroke="#111" stroke-width="0.8" />
<text x="308.75" y="586.70" text-anchor="middle">9</text>
<line x1="331.70" y1="573.60" x2="331.70" y2="576.40" stroke="#111" stroke-width="0.8" />
<text x="331.70" y="586.70" text-anchor="middle">12</text>
<text x="286.20" y="601.60" text-anchor="middle" textLength="96.4" lengthAdjust="spacingAndGlyphs">Time after mit. stim. (h)</text>
<text x="213.20" y="526.90" text-anchor="middle" transform="rotate(-90 213.20 526.90)" textLength="86.0" lengthAdjust="spacingAndGlyphs">Relative levels (a.u.)</text>
<text x="343.60" y="454.90" textLength="53.7" lengthAdjust="spacingAndGlyphs">Experimental</text>
<line x1="343.60" y1="459.50" x2="410.60" y2="459.50" stroke="#111" stroke-width="0.9" />
<line x1="343.60" y1="468.50" x2="353.20" y2="468.50" stroke="#b01016" stroke-width="1.3" stroke-dasharray="1.8,0.8"/>
<text x="357.20" y="470.50" textLength="74.6" lengthAdjust="spacingAndGlyphs">Geminin–mCherry</text>
<line x1="343.60" y1="481.50" x2="353.20" y2="481.50" stroke="#333" stroke-width="1.3" stroke-dasharray="1.8,0.8"/>
<text x="357.20" y="484.10" textLength="28.7" lengthAdjust="spacingAndGlyphs">APC/C</text>
<text x="343.60" y="498.90" textLength="43.0" lengthAdjust="spacingAndGlyphs">Simulation</text>
<line x1="343.60" y1="502.40" x2="402.00" y2="502.40" stroke="#111" stroke-width="0.9" />
<line x1="343.60" y1="511.10" x2="353.20" y2="511.10" stroke="#e8212b" stroke-width="1.5" />
<text x="357.20" y="514.40" textLength="62.0" lengthAdjust="spacingAndGlyphs">APC/C-degron</text>
<line x1="343.60" y1="526.00" x2="353.20" y2="526.00" stroke="#111" stroke-width="1.5" />
<text x="357.20" y="529.30" textLength="28.7" lengthAdjust="spacingAndGlyphs">APC/C</text>
<line x1="343.60" y1="540.00" x2="353.20" y2="540.00" stroke="#4fb860" stroke-width="1.5" />
<text x="357.20" y="543.30" textLength="34.0" lengthAdjust="spacingAndGlyphs">p-CDH1</text>
<line x1="343.60" y1="554.00" x2="353.20" y2="554.00" stroke="#a020f0" stroke-width="1.5" />
<text x="357.20" y="557.30" textLength="27.0" lengthAdjust="spacingAndGlyphs">mTOR</text>
<line x1="343.60" y1="567.60" x2="353.20" y2="567.60" stroke="#22b0ee" stroke-width="1.5" />
<text x="357.20" y="570.90" textLength="26.3" lengthAdjust="spacingAndGlyphs">PPase</text>
<text x="450.30" y="451.70" font-size="13" font-weight="bold" stroke="#111" stroke-width="0.7" stroke-linejoin="round">h</text>
<text x="547.20" y="466.90" textLength="29.0" lengthAdjust="spacingAndGlyphs">APC/C</text>
<text x="464.90" y="490.60" textLength="42.3" lengthAdjust="spacingAndGlyphs">Glycolysis</text>
<text x="530.30" y="496.10" textLength="37.5" lengthAdjust="spacingAndGlyphs">mTORC1</text>
<text x="579.90" y="490.60" textLength="26.3" lengthAdjust="spacingAndGlyphs">PPase</text>
<text x="579.90" y="500.80" fill="#ed1c24" textLength="59.3" lengthAdjust="spacingAndGlyphs">Delayed (≥4 h)</text>
<text x="496.10" y="507.80" fill="#ed1c24" textLength="43.0" lengthAdjust="spacingAndGlyphs">Fast (&lt;1 h)</text>
<text x="456.70" y="510.70">G0</text>
<text x="607.90" y="517.50">G1</text>
<text x="452.30" y="561.80" textLength="38.8" lengthAdjust="spacingAndGlyphs">Mitogens</text>
<path d="M456.80,514.10C457.23,513.03 458.02,513.25 458.90,513.30C459.78,513.35 460.93,514.27 462.10,514.40C463.27,514.53 464.93,513.52 465.90,514.10C466.87,514.68 466.78,516.63 467.90,517.90C469.02,519.17 471.92,520.72 472.60,521.70C473.28,522.68 472.28,522.87 472.00,523.80C471.72,524.73 471.08,526.13 470.90,527.30C470.72,528.47 471.48,530.13 470.90,530.80C470.32,531.47 468.62,530.82 467.40,531.30C466.18,531.78 464.68,533.60 463.60,533.70C462.52,533.80 461.78,532.48 460.90,531.90C460.02,531.32 458.88,531.07 458.30,530.20C457.72,529.33 457.93,527.87 457.40,526.70C456.87,525.53 455.28,524.37 455.10,523.20C454.92,522.03 456.02,521.22 456.30,519.70C456.58,518.18 456.37,515.17 456.80,514.10Z" stroke="#111" stroke-width="1.05" fill="#efefef" />
<ellipse cx="463.60" cy="523.50" rx="3.9" ry="5.6" transform="rotate(-28 463.60 523.50)" fill="#e2e2e2" stroke="#111" stroke-width="1.05"/>
<path d="M592.00,513.20C592.43,512.13 593.22,512.35 594.10,512.40C594.98,512.45 596.13,513.37 597.30,513.50C598.47,513.63 600.13,512.62 601.10,513.20C602.07,513.78 601.98,515.73 603.10,517.00C604.22,518.27 607.12,519.82 607.80,520.80C608.48,521.78 607.48,521.97 607.20,522.90C606.92,523.83 606.28,525.23 606.10,526.40C605.92,527.57 606.68,529.23 606.10,529.90C605.52,530.57 603.82,529.92 602.60,530.40C601.38,530.88 599.88,532.70 598.80,532.80C597.72,532.90 596.98,531.58 596.10,531.00C595.22,530.42 594.08,530.17 593.50,529.30C592.92,528.43 593.13,526.97 592.60,525.80C592.07,524.63 590.48,523.47 590.30,522.30C590.12,521.13 591.22,520.32 591.50,518.80C591.78,517.28 591.57,514.27 592.00,513.20Z" stroke="#111" stroke-width="1.05" fill="#efefef" />
<ellipse cx="598.80" cy="522.60" rx="3.9" ry="5.6" transform="rotate(-28 598.80 522.60)" fill="#e2e2e2" stroke="#111" stroke-width="1.05"/>
<line x1="475.70" y1="522.20" x2="585.00" y2="522.20" stroke="#111" stroke-width="1.0" />
<path d="M589.80,522.20L583.60,524.65L585.46,522.20L583.60,519.75Z" fill="#111"/>
<path d="M468.4,552 C469,536 478,522.3 495,522" stroke="#111" stroke-width="1.0" fill="none" />
<path d="M486.3,495.8 C486.3,508 500.5,522 513,522 L528,522 C540,522 547.3,514.5 550.9,504.5" stroke="#111" stroke-width="1.0" fill="none" />
<path d="M553.00,499.90L552.60,506.55L551.17,503.83L548.16,504.48Z" fill="#111"/>
<path d="M541,522 C566,522 576.4,508 576.4,477" stroke="#111" stroke-width="1.0" fill="none" />
<path d="M576.40,472.60L578.85,478.80L576.40,476.94L573.95,478.80Z" fill="#111"/>
<path d="M544.3,462.8 L520,462.8 C505,462.8 493,469 489.6,479.3" stroke="#111" stroke-width="1.0" fill="none" />
<line x1="483.00" y1="479.30" x2="496.60" y2="479.30" stroke="#111" stroke-width="1.0" />
<line x1="558.90" y1="485.20" x2="561.80" y2="472.60" stroke="#111" stroke-width="1.0" />
<line x1="555.40" y1="472.40" x2="567.60" y2="472.40" stroke="#111" stroke-width="1.0" />
</svg></body></html>
